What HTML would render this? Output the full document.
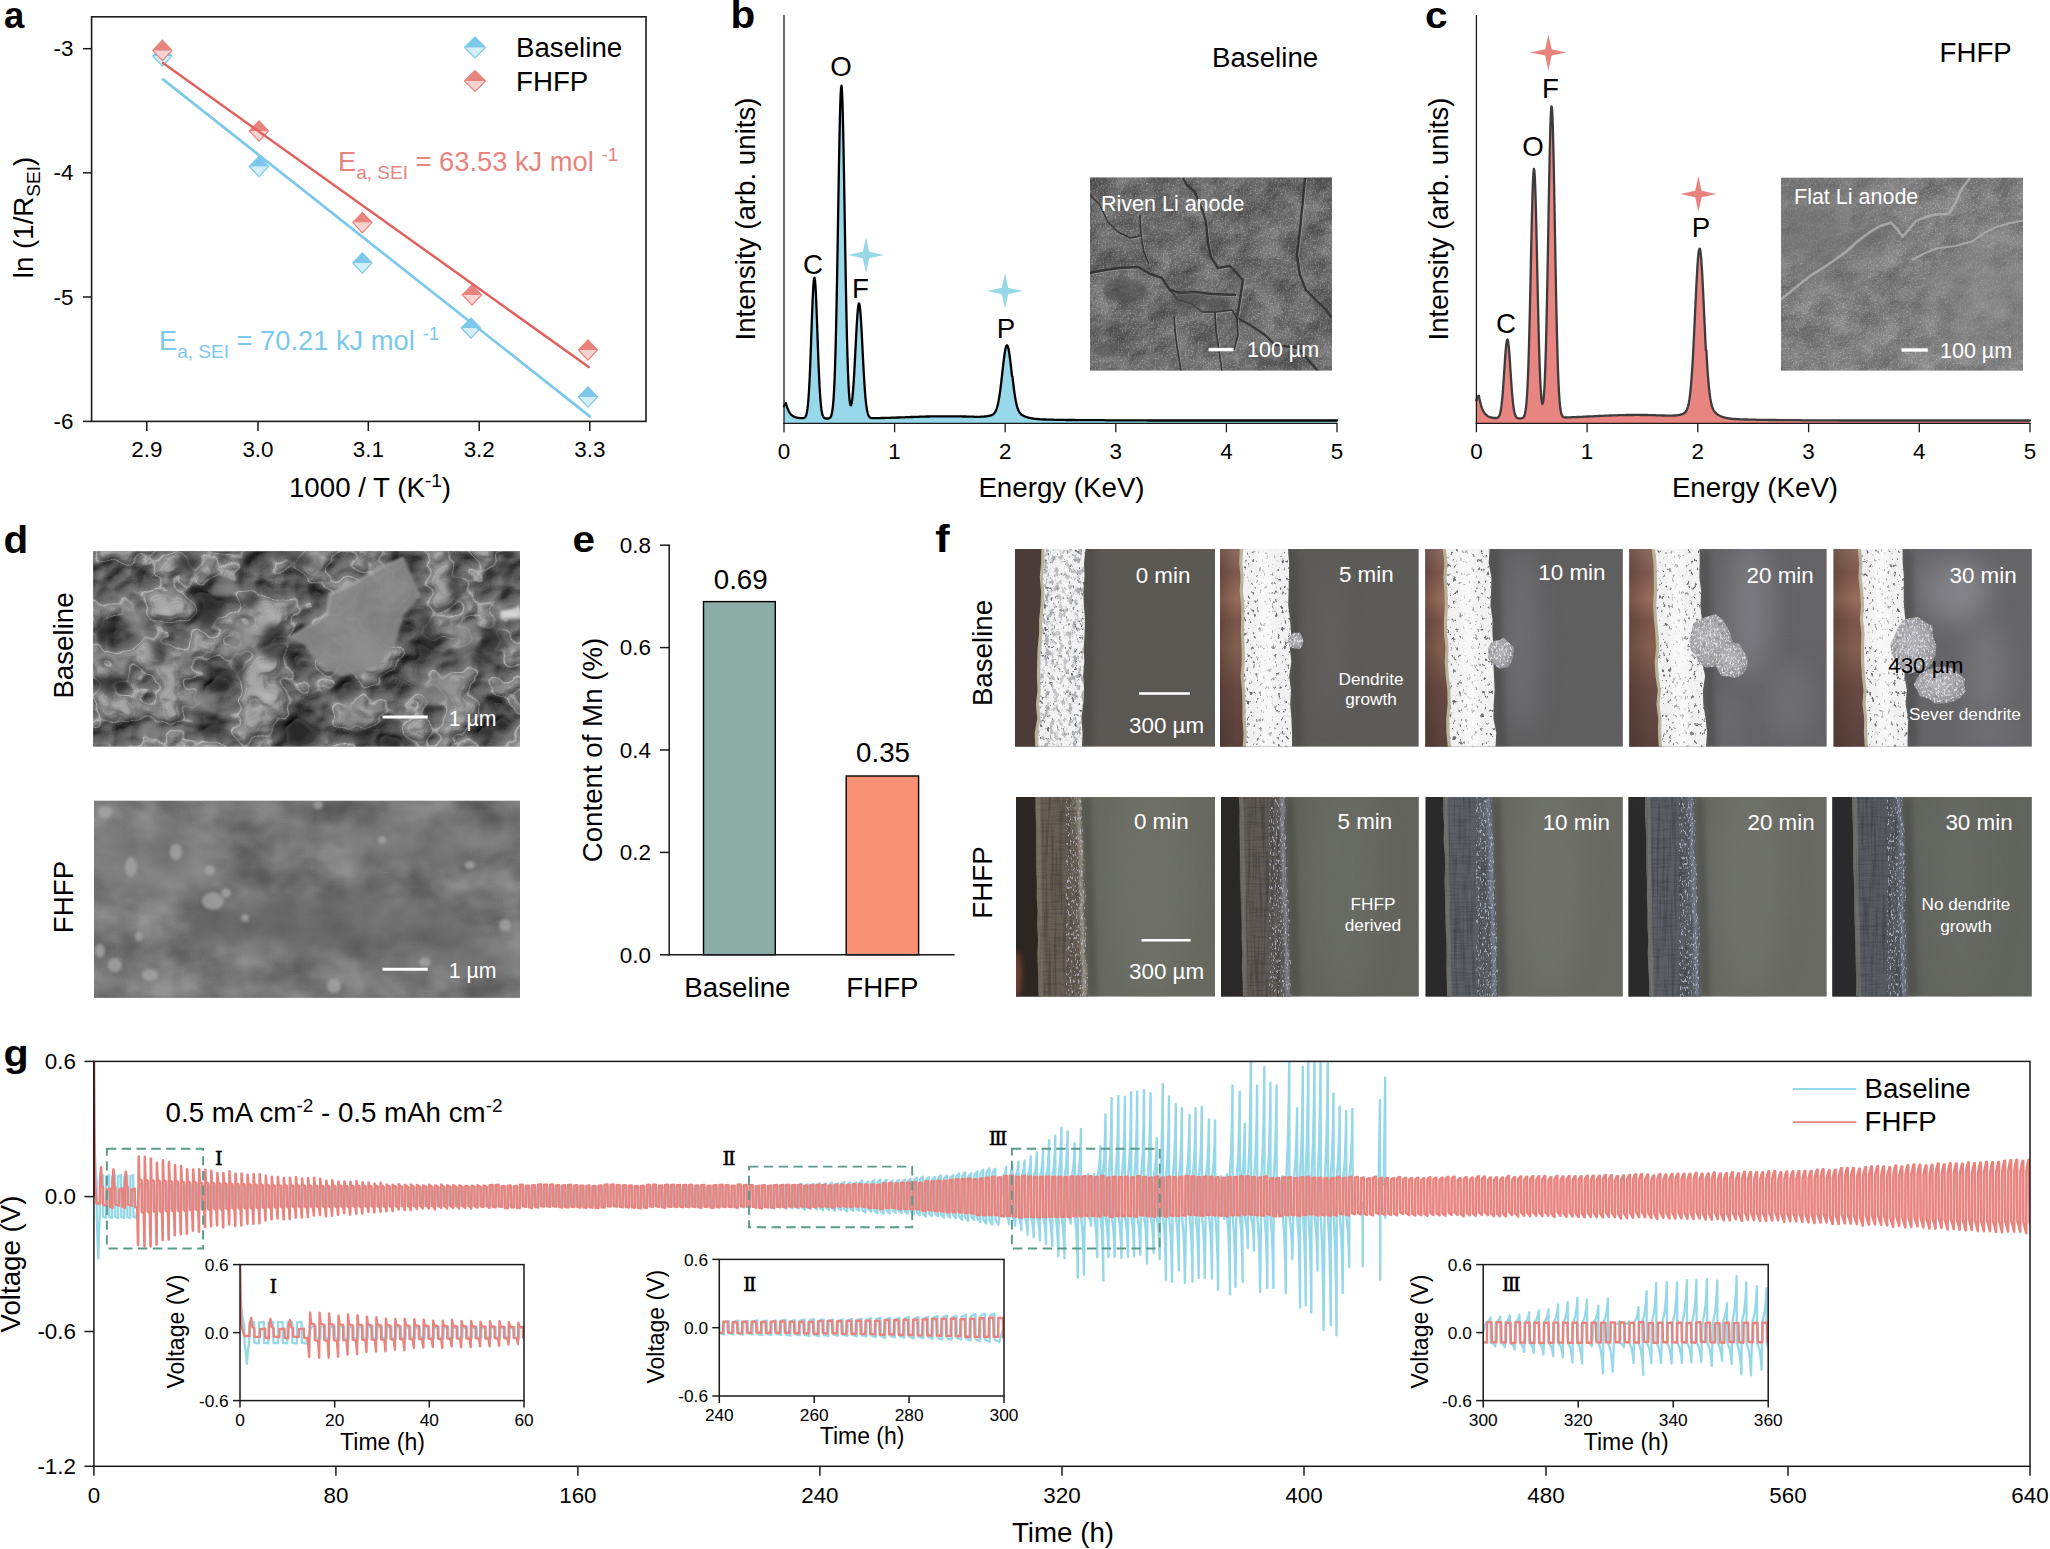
<!DOCTYPE html>
<html lang="en"><head><meta charset="utf-8"><title>Figure</title>
<style>
html,body{margin:0;padding:0;background:#fff;}
body{width:2050px;height:1549px;overflow:hidden;}
svg{display:block;font-family:'Liberation Sans', sans-serif;}
text{white-space:pre;}
</style></head><body>
<svg width="2050" height="1549" viewBox="0 0 2050 1549">
<defs>
<filter id="riv" x="0" y="0" width="100%" height="100%" color-interpolation-filters="sRGB">
<feTurbulence type="fractalNoise" baseFrequency="0.035 0.04" numOctaves="4" seed="31" result="t"/>
<feColorMatrix in="t" type="matrix" values="1 0 0 0 0  1 0 0 0 0  1 0 0 0 0  2 0 0 0 -0.5" result="h"/>
<feColorMatrix in="t" type="matrix" values="0.55 0 0 0 0.155  0.55 0 0 0 0.155  0.55 0 0 0 0.155  0 0 0 0 1" result="g"/>
<feDiffuseLighting in="h" surfaceScale="1.6" diffuseConstant="1.0" lighting-color="#ffffff" result="l"><feDistantLight azimuth="230" elevation="62"/></feDiffuseLighting>
<feComposite in="g" in2="l" operator="arithmetic" k1="0" k2="0.5" k3="0.4" k4="-0.16" result="c"/>
<feTurbulence type="fractalNoise" baseFrequency="0.6" numOctaves="2" seed="3" result="n"/>
<feColorMatrix in="n" type="matrix" values="0.5 0 0 0 -0.25  0.5 0 0 0 -0.25  0.5 0 0 0 -0.25  0 0 0 0 1" result="n2"/>
<feComposite in="c" in2="n2" operator="arithmetic" k1="0" k2="1" k3="1" k4="0"/>
</filter>
<filter id="flat" x="0" y="0" width="100%" height="100%" color-interpolation-filters="sRGB">
<feTurbulence type="fractalNoise" baseFrequency="0.035 0.04" numOctaves="4" seed="47" result="t"/>
<feColorMatrix in="t" type="matrix" values="1 0 0 0 0  1 0 0 0 0  1 0 0 0 0  2 0 0 0 -0.5" result="h"/>
<feColorMatrix in="t" type="matrix" values="0.45 0 0 0 0.26  0.45 0 0 0 0.26  0.45 0 0 0 0.26  0 0 0 0 1" result="g"/>
<feDiffuseLighting in="h" surfaceScale="1.2" diffuseConstant="1.0" lighting-color="#ffffff" result="l"><feDistantLight azimuth="230" elevation="64"/></feDiffuseLighting>
<feComposite in="g" in2="l" operator="arithmetic" k1="0" k2="0.5" k3="0.4" k4="-0.115" result="c"/>
<feTurbulence type="fractalNoise" baseFrequency="0.6" numOctaves="2" seed="8" result="n"/>
<feColorMatrix in="n" type="matrix" values="0.4 0 0 0 -0.2  0.4 0 0 0 -0.2  0.4 0 0 0 -0.2  0 0 0 0 1" result="n2"/>
<feComposite in="c" in2="n2" operator="arithmetic" k1="0" k2="1" k3="1" k4="0"/>
</filter>
<filter id="iblur1" x="-100%" y="-100%" width="300%" height="300%"><feGaussianBlur stdDeviation="0.7"/></filter>
<filter id="iblur2" x="-100%" y="-100%" width="300%" height="300%"><feGaussianBlur stdDeviation="1.8"/></filter>
<filter id="iblur20" x="-100%" y="-100%" width="300%" height="300%"><feGaussianBlur stdDeviation="20"/></filter>

<filter id="semA" x="0" y="0" width="100%" height="100%" color-interpolation-filters="sRGB">
<feTurbulence type="fractalNoise" baseFrequency="0.021 0.025" numOctaves="3" seed="14" result="t"/>
<feColorMatrix in="t" type="matrix" values="1 0 0 0 0  1 0 0 0 0  1 0 0 0 0  2.4 0 0 0 -0.7" result="h"/>
<feColorMatrix in="t" type="matrix" values="1.4 0 0 0 -0.25  1.4 0 0 0 -0.25  1.4 0 0 0 -0.25  0 0 0 0 1" result="g"/>
<feDiffuseLighting in="h" surfaceScale="8" diffuseConstant="1.0" lighting-color="#ffffff" result="l"><feDistantLight azimuth="235" elevation="55"/></feDiffuseLighting>
<feComposite in="g" in2="l" operator="arithmetic" k1="0" k2="0.62" k3="0.33" k4="-0.10" result="c0"/>
<feComponentTransfer in="t" result="ct"><feFuncR type="table" tableValues="0 0 0 0 0 0 0 0 0 0 0 0 0 0 0 0 0 0 0 0 0 0 0 0 0 0 0 0 0 0 0 0 0 0 0 0 0.35 1 0.35 0 0 0 0 0 0.105 0.3 0.105 0 0 0 0 0 0 0 0 0 0 0 0 0 0 0 0 0 0 0 0 0 0 0 0 0"/><feFuncG type="table" tableValues="0 0 0 0 0 0 0 0 0 0 0 0 0 0 0 0 0 0 0 0 0 0 0 0 0 0 0 0 0 0 0 0 0 0 0 0 0.35 1 0.35 0 0 0 0 0 0.105 0.3 0.105 0 0 0 0 0 0 0 0 0 0 0 0 0 0 0 0 0 0 0 0 0 0 0 0 0"/><feFuncB type="table" tableValues="0 0 0 0 0 0 0 0 0 0 0 0 0 0 0 0 0 0 0 0 0 0 0 0 0 0 0 0 0 0 0 0 0 0 0 0 0.35 1 0.35 0 0 0 0 0 0.105 0.3 0.105 0 0 0 0 0 0 0 0 0 0 0 0 0 0 0 0 0 0 0 0 0 0 0 0 0"/><feFuncA type="linear" slope="0" intercept="1"/></feComponentTransfer>
<feColorMatrix in="ct" type="matrix" values="1 0 0 0 0  1 0 0 0 0  1 0 0 0 0  0 0 0 0 1" result="ct2"/>
<feGaussianBlur in="ct2" stdDeviation="0.6" result="ct3"/>
<feComposite in="c0" in2="ct3" operator="arithmetic" k1="0" k2="1" k3="0.22" k4="-0.015" result="c"/>
<feTurbulence type="fractalNoise" baseFrequency="0.9" numOctaves="1" seed="2" result="n"/>
<feColorMatrix in="n" type="matrix" values="0.10 0 0 0 -0.05  0.10 0 0 0 -0.05  0.10 0 0 0 -0.05  0 0 0 0 1" result="n2"/>
<feComposite in="c" in2="n2" operator="arithmetic" k1="0" k2="1" k3="1" k4="0"/>
</filter>
<filter id="semB" x="0" y="0" width="100%" height="100%" color-interpolation-filters="sRGB">
<feTurbulence type="fractalNoise" baseFrequency="0.022 0.03" numOctaves="3" seed="23" result="t"/>
<feColorMatrix in="t" type="matrix" values="0.32 0 0 0 0.295  0.32 0 0 0 0.295  0.32 0 0 0 0.295  0 0 0 0 1" result="g"/>
<feTurbulence type="fractalNoise" baseFrequency="0.8" numOctaves="1" seed="6" result="n"/>
<feColorMatrix in="n" type="matrix" values="0.10 0 0 0 -0.05  0.10 0 0 0 -0.05  0.10 0 0 0 -0.05  0 0 0 0 1" result="n2"/>
<feComposite in="g" in2="n2" operator="arithmetic" k1="0" k2="1" k3="1" k4="0"/>
</filter>
<filter id="dblur" x="-100%" y="-100%" width="300%" height="300%"><feGaussianBlur stdDeviation="9"/></filter>
<filter id="dblur4" x="-100%" y="-100%" width="300%" height="300%"><feGaussianBlur stdDeviation="3.5"/></filter>
<filter id="dblur2" x="-100%" y="-100%" width="300%" height="300%"><feGaussianBlur stdDeviation="1.6"/></filter>

<filter id="speck" x="0" y="0" width="100%" height="100%" color-interpolation-filters="sRGB">
<feTurbulence type="fractalNoise" baseFrequency="0.32 0.22" numOctaves="3" seed="7" result="n"/>
<feColorMatrix in="n" type="matrix" values="0 0 0 0 0.42  0 0 0 0 0.42  0 0 0 0 0.45  -8 0 0 0 3.05"/>
</filter>
<filter id="speck2" x="0" y="0" width="100%" height="100%" color-interpolation-filters="sRGB">
<feTurbulence type="fractalNoise" baseFrequency="0.22 0.16" numOctaves="3" seed="19" result="n"/>
<feColorMatrix in="n" type="matrix" values="0 0 0 0 0.62  0 0 0 0 0.63  0 0 0 0 0.66  -7 0 0 0 3.4"/>
</filter>
<filter id="speckw" x="0" y="0" width="100%" height="100%" color-interpolation-filters="sRGB">
<feTurbulence type="fractalNoise" baseFrequency="0.5 0.35" numOctaves="2" seed="11" result="n"/>
<feColorMatrix in="n" type="matrix" values="0 0 0 0 0.92  0 0 0 0 0.93  0 0 0 0 0.96  0 7 0 0 -3.6"/>
</filter>
<filter id="grain" x="0" y="0" width="100%" height="100%" color-interpolation-filters="sRGB">
<feTurbulence type="fractalNoise" baseFrequency="0.7" numOctaves="2" seed="5" result="n"/>
<feColorMatrix in="n" type="matrix" values="0 0 0 0 0.5  0 0 0 0 0.5  0 0 0 0 0.5  1.2 0 0 0 -0.48"/>
</filter>
<filter id="streak" x="0" y="0" width="100%" height="100%" color-interpolation-filters="sRGB">
<feTurbulence type="fractalNoise" baseFrequency="0.35 0.02" numOctaves="2" seed="9" result="n"/>
<feColorMatrix in="n" type="matrix" values="0 0 0 0 0.08  0 0 0 0 0.08  0 0 0 0 0.08  -4 0 0 0 2.2"/>
</filter>
<filter id="streakh" x="0" y="0" width="100%" height="100%" color-interpolation-filters="sRGB">
<feTurbulence type="fractalNoise" baseFrequency="0.04 0.55" numOctaves="2" seed="17" result="n"/>
<feColorMatrix in="n" type="matrix" values="0 0 0 0 0.1  0 0 0 0 0.1  0 0 0 0 0.1  -5 0 0 0 2.5"/>
</filter>
<filter id="streakw" x="0" y="0" width="100%" height="100%" color-interpolation-filters="sRGB">
<feTurbulence type="fractalNoise" baseFrequency="0.6 0.3" numOctaves="2" seed="21" result="n"/>
<feColorMatrix in="n" type="matrix" values="0 0 0 0 0.82  0 0 0 0 0.86  0 0 0 0 0.95  0 6 0 0 -3.35"/>
</filter>
<filter id="blur3" x="-100%" y="-100%" width="300%" height="300%"><feGaussianBlur stdDeviation="3"/></filter>
<filter id="blur6" x="-100%" y="-100%" width="300%" height="300%"><feGaussianBlur stdDeviation="6"/></filter>
<filter id="blur12" x="-100%" y="-100%" width="300%" height="300%"><feGaussianBlur stdDeviation="12"/></filter>
<filter id="blur1" x="-100%" y="-100%" width="300%" height="300%"><feGaussianBlur stdDeviation="0.8"/></filter>
<linearGradient id="cu" x1="0" y1="0" x2="0" y2="1">
<stop offset="0" stop-color="#8e6c62"/><stop offset="0.12" stop-color="#80594e"/><stop offset="0.25" stop-color="#9a6e5c"/>
<stop offset="0.36" stop-color="#7c564a"/><stop offset="0.5" stop-color="#85604f"/><stop offset="0.7" stop-color="#684a42"/><stop offset="1" stop-color="#5a423c"/>
</linearGradient>
<linearGradient id="cuh" x1="0" y1="0" x2="1" y2="0">
<stop offset="0" stop-color="#3a2820" stop-opacity="0.35"/><stop offset="0.6" stop-color="#3a2820" stop-opacity="0"/>
</linearGradient>
<radialGradient id="blobg" cx="0.45" cy="0.45" r="0.6">
<stop offset="0" stop-color="#b9b8bc"/><stop offset="0.7" stop-color="#a3a2a6"/><stop offset="1" stop-color="#8a898c"/>
</radialGradient>

</defs>
<rect width="2050" height="1549" fill="#fff"/>
<g id="panel_a">
<text x="4.0" y="28.0" font-size="36.5" font-weight="bold">a</text>
<path d="M152.8 56.0L162.4 66.2L172.0 56.0Z" fill="#D3EEF4"/><path d="M152.8 56.0L162.4 45.8L172.0 56.0Z" fill="#7CC8EA"/><path d="M152.8 56.0L162.4 45.8L172.0 56.0L162.4 66.2Z" fill="none" stroke="#7CC8EA" stroke-width="1.2" stroke-linejoin="miter"/>
<path d="M249.4 166.4L259.0 176.6L268.6 166.4Z" fill="#D3EEF4"/><path d="M249.4 166.4L259.0 156.2L268.6 166.4Z" fill="#7CC8EA"/><path d="M249.4 166.4L259.0 156.2L268.6 166.4L259.0 176.6Z" fill="none" stroke="#7CC8EA" stroke-width="1.2" stroke-linejoin="miter"/>
<path d="M352.8 263.0L362.4 273.2L372.0 263.0Z" fill="#D3EEF4"/><path d="M352.8 263.0L362.4 252.8L372.0 263.0Z" fill="#7CC8EA"/><path d="M352.8 263.0L362.4 252.8L372.0 263.0L362.4 273.2Z" fill="none" stroke="#7CC8EA" stroke-width="1.2" stroke-linejoin="miter"/>
<path d="M461.4 328.0L471.0 338.2L480.6 328.0Z" fill="#D3EEF4"/><path d="M461.4 328.0L471.0 317.8L480.6 328.0Z" fill="#7CC8EA"/><path d="M461.4 328.0L471.0 317.8L480.6 328.0L471.0 338.2Z" fill="none" stroke="#7CC8EA" stroke-width="1.2" stroke-linejoin="miter"/>
<path d="M578.4 397.0L588.0 407.2L597.6 397.0Z" fill="#D3EEF4"/><path d="M578.4 397.0L588.0 386.8L597.6 397.0Z" fill="#7CC8EA"/><path d="M578.4 397.0L588.0 386.8L597.6 397.0L588.0 407.2Z" fill="none" stroke="#7CC8EA" stroke-width="1.2" stroke-linejoin="miter"/>
<path d="M163 79.4L589.8 416.4" stroke="#7CC8EA" stroke-width="2.7" fill="none" stroke-linecap="round"/>
<path d="M152.8 50.4L162.4 60.6L172.0 50.4Z" fill="#F8D2D0"/><path d="M152.8 50.4L162.4 40.2L172.0 50.4Z" fill="#E8837E"/><path d="M152.8 50.4L162.4 40.2L172.0 50.4L162.4 60.6Z" fill="none" stroke="#E8837E" stroke-width="1.2" stroke-linejoin="miter"/>
<path d="M249.4 131.0L259.0 141.2L268.6 131.0Z" fill="#F8D2D0"/><path d="M249.4 131.0L259.0 120.8L268.6 131.0Z" fill="#E8837E"/><path d="M249.4 131.0L259.0 120.8L268.6 131.0L259.0 141.2Z" fill="none" stroke="#E8837E" stroke-width="1.2" stroke-linejoin="miter"/>
<path d="M352.8 222.6L362.4 232.8L372.0 222.6Z" fill="#F8D2D0"/><path d="M352.8 222.6L362.4 212.4L372.0 222.6Z" fill="#E8837E"/><path d="M352.8 222.6L362.4 212.4L372.0 222.6L362.4 232.8Z" fill="none" stroke="#E8837E" stroke-width="1.2" stroke-linejoin="miter"/>
<path d="M462.4 295.0L472.0 305.2L481.6 295.0Z" fill="#F8D2D0"/><path d="M462.4 295.0L472.0 284.8L481.6 295.0Z" fill="#E8837E"/><path d="M462.4 295.0L472.0 284.8L481.6 295.0L472.0 305.2Z" fill="none" stroke="#E8837E" stroke-width="1.2" stroke-linejoin="miter"/>
<path d="M578.4 350.0L588.0 360.2L597.6 350.0Z" fill="#F8D2D0"/><path d="M578.4 350.0L588.0 339.8L597.6 350.0Z" fill="#E8837E"/><path d="M578.4 350.0L588.0 339.8L597.6 350.0L588.0 360.2Z" fill="none" stroke="#E8837E" stroke-width="1.2" stroke-linejoin="miter"/>
<path d="M163 63L588.7 367" stroke="#E0625E" stroke-width="2.5" fill="none" stroke-linecap="round"/>
<rect x="91.6" y="16.8" width="554.4" height="404.6" fill="none" stroke="#1a1a1a" stroke-width="1.6"/>
<line x1="83.0" y1="48.7" x2="91.6" y2="48.7" stroke="#1a1a1a" stroke-width="1.5"/>
<text x="73.5" y="56.3" font-size="22.4" text-anchor="end">-3</text>
<line x1="83.0" y1="172.8" x2="91.6" y2="172.8" stroke="#1a1a1a" stroke-width="1.5"/>
<text x="73.5" y="180.4" font-size="22.4" text-anchor="end">-4</text>
<line x1="83.0" y1="297.0" x2="91.6" y2="297.0" stroke="#1a1a1a" stroke-width="1.5"/>
<text x="73.5" y="304.6" font-size="22.4" text-anchor="end">-5</text>
<line x1="83.0" y1="421.4" x2="91.6" y2="421.4" stroke="#1a1a1a" stroke-width="1.5"/>
<text x="73.5" y="429.0" font-size="22.4" text-anchor="end">-6</text>
<line x1="146.8" y1="421.4" x2="146.8" y2="431.0" stroke="#1a1a1a" stroke-width="1.5"/>
<text x="146.8" y="457.0" font-size="22.4" text-anchor="middle">2.9</text>
<line x1="258.0" y1="421.4" x2="258.0" y2="431.0" stroke="#1a1a1a" stroke-width="1.5"/>
<text x="258.0" y="457.0" font-size="22.4" text-anchor="middle">3.0</text>
<line x1="368.3" y1="421.4" x2="368.3" y2="431.0" stroke="#1a1a1a" stroke-width="1.5"/>
<text x="368.3" y="457.0" font-size="22.4" text-anchor="middle">3.1</text>
<line x1="479.2" y1="421.4" x2="479.2" y2="431.0" stroke="#1a1a1a" stroke-width="1.5"/>
<text x="479.2" y="457.0" font-size="22.4" text-anchor="middle">3.2</text>
<line x1="589.8" y1="421.4" x2="589.8" y2="431.0" stroke="#1a1a1a" stroke-width="1.5"/>
<text x="589.8" y="457.0" font-size="22.4" text-anchor="middle">3.3</text>
<text x="370.0" y="497.0" font-size="27.7" text-anchor="middle">1000 / T (K<tspan font-size="19" dy="-10">-1</tspan><tspan dy="10" font-size="1">&#8203;</tspan>)</text>
<text transform="translate(33.0 217.5) rotate(-90)" font-size="27.7" text-anchor="middle">ln (1/R<tspan font-size="19" dy="7">SEI</tspan><tspan dy="-7" font-size="1">&#8203;</tspan>)</text>
<path d="M464.5 47.4L475.0 57.9L485.5 47.4Z" fill="#D3EEF4"/><path d="M464.5 47.4L475.0 36.9L485.5 47.4Z" fill="#7CC8EA"/><path d="M464.5 47.4L475.0 36.9L485.5 47.4L475.0 57.9Z" fill="none" stroke="#7CC8EA" stroke-width="1.2" stroke-linejoin="miter"/>
<path d="M464.5 81.0L475.0 91.5L485.5 81.0Z" fill="#F8D2D0"/><path d="M464.5 81.0L475.0 70.5L485.5 81.0Z" fill="#E8837E"/><path d="M464.5 81.0L475.0 70.5L485.5 81.0L475.0 91.5Z" fill="none" stroke="#E8837E" stroke-width="1.2" stroke-linejoin="miter"/>
<text x="516.0" y="57.0" font-size="27.7">Baseline</text>
<text x="516.0" y="91.0" font-size="27.7">FHFP</text>
<text x="338.0" y="171.0" font-size="27.3" fill="#E8837E">E<tspan font-size="19" dy="8">a, SEI</tspan><tspan dy="-8" font-size="1">&#8203;</tspan> = 63.53 kJ mol <tspan font-size="19" dy="-10">-1</tspan><tspan dy="10" font-size="1">&#8203;</tspan></text>
<text x="159.0" y="350.0" font-size="27.3" fill="#7CC8EA">E<tspan font-size="19" dy="8">a, SEI</tspan><tspan dy="-8" font-size="1">&#8203;</tspan> = 70.21 kJ mol <tspan font-size="19" dy="-10">-1</tspan><tspan dy="10" font-size="1">&#8203;</tspan></text>
</g>
<g id="panel_b">
<text transform="translate(730.5 28.0) scale(1.05 1)" font-size="38.5" font-weight="bold">b</text>
<path d="M784.0 406.3L784.5 404.9L785.0 404.1L785.5 403.6L786.0 403.3L786.5 405.1L787.0 406.7L787.5 408.2L788.0 409.5L788.5 410.6L789.0 411.6L789.5 412.5L790.0 413.2L790.5 413.9L791.0 414.5L791.5 415.0L792.0 415.4L792.5 415.8L793.0 416.2L793.5 416.4L794.0 416.7L794.5 416.9L795.0 417.1L795.5 417.3L796.0 417.4L796.5 417.6L797.0 417.7L797.5 417.8L798.0 417.9L798.5 417.9L799.0 418.0L799.5 418.1L800.0 418.1L800.5 418.1L801.0 418.2L801.5 418.2L802.0 418.2L802.5 418.2L803.0 418.2L803.5 418.1L804.0 418.0L804.5 417.8L805.0 417.3L805.5 416.7L806.0 415.6L806.5 414.0L807.0 411.7L807.5 408.4L808.0 404.0L808.5 398.1L809.0 390.6L809.5 381.3L810.0 370.4L810.5 357.9L811.0 344.3L811.5 330.1L812.0 316.1L812.5 303.1L813.0 292.0L813.5 283.7L814.0 278.8L814.5 277.6L815.0 280.3L815.5 286.7L816.0 296.2L816.5 308.2L817.0 321.7L817.5 335.9L818.0 349.9L818.5 363.1L819.0 375.0L819.5 385.3L820.0 393.9L820.5 400.7L821.0 406.0L821.5 410.0L822.0 412.9L822.5 414.9L823.0 416.2L823.5 417.1L824.0 417.7L824.5 418.1L825.0 418.3L825.5 418.4L826.0 418.5L826.5 418.5L827.0 418.5L827.5 418.5L828.0 418.5L828.5 418.4L829.0 418.3L829.5 418.1L830.0 417.7L830.5 417.2L831.0 416.3L831.5 414.9L832.0 412.8L832.5 409.8L833.0 405.5L833.5 399.6L834.0 391.6L834.5 381.2L835.0 367.8L835.5 351.2L836.0 331.3L836.5 308.0L837.0 281.7L837.5 253.0L838.0 222.7L838.5 192.3L839.0 163.0L839.5 136.4L840.0 114.2L840.5 97.7L841.0 88.0L841.5 85.7L842.0 91.0L842.5 103.6L843.0 122.5L843.5 146.6L844.0 174.4L844.5 204.4L845.0 234.9L845.5 264.6L846.0 292.4L846.5 317.5L847.0 339.3L847.5 357.7L848.0 372.7L848.5 384.4L849.0 393.1L849.5 399.3L850.0 403.2L850.5 405.1L851.0 405.3L851.5 403.9L852.0 401.1L852.5 396.9L853.0 391.4L853.5 384.7L854.0 376.8L854.5 368.1L855.0 358.6L855.5 348.7L856.0 338.8L856.5 329.4L857.0 320.8L857.5 313.6L858.0 308.1L858.5 304.6L859.0 303.5L859.5 304.6L860.0 308.1L860.5 313.5L861.0 320.8L861.5 329.3L862.0 338.8L862.5 348.7L863.0 358.6L863.5 368.1L864.0 377.0L864.5 384.9L865.0 391.9L865.5 397.9L866.0 402.8L866.5 406.8L867.0 409.9L867.5 412.3L868.0 414.1L868.5 415.4L869.0 416.4L869.5 417.0L870.0 417.5L870.5 417.8L871.0 418.0L871.5 418.1L872.0 418.1L872.5 418.2L873.0 418.2L873.5 418.2L874.0 418.2L874.5 418.2L875.0 418.2L875.5 418.2L876.0 418.2L876.5 418.2L877.0 418.1L877.5 418.1L878.0 418.1L878.5 418.1L879.0 418.1L879.5 418.1L880.0 418.1L880.5 418.1L881.0 418.0L881.5 418.0L882.0 418.0L882.5 418.0L883.0 418.0L883.5 418.0L884.0 418.0L884.5 417.9L885.0 417.9L885.5 417.9L886.0 417.9L886.5 417.9L887.0 417.9L887.5 417.9L888.0 417.8L888.5 417.8L889.0 417.8L889.5 417.8L890.0 417.8L890.5 417.8L891.0 417.7L891.5 417.7L892.0 417.7L892.5 417.7L893.0 417.7L893.5 417.7L894.0 417.6L894.5 417.6L895.0 417.6L895.5 417.6L896.0 417.6L896.5 417.6L897.0 417.5L897.5 417.5L898.0 417.5L898.5 417.5L899.0 417.5L899.5 417.5L900.0 417.4L900.5 417.4L901.0 417.4L901.5 417.4L902.0 417.4L902.5 417.3L903.0 417.3L903.5 417.3L904.0 417.3L904.5 417.3L905.0 417.3L905.5 417.2L906.0 417.2L906.5 417.2L907.0 417.2L907.5 417.2L908.0 417.1L908.5 417.1L909.0 417.1L909.5 417.1L910.0 417.1L910.5 417.0L911.0 417.0L911.5 417.0L912.0 417.0L912.5 417.0L913.0 417.0L913.5 416.9L914.0 416.9L914.5 416.9L915.0 416.9L915.5 416.9L916.0 416.9L916.5 416.8L917.0 416.8L917.5 416.8L918.0 416.8L918.5 416.8L919.0 416.8L919.5 416.7L920.0 416.7L920.5 416.7L921.0 416.7L921.5 416.7L922.0 416.7L922.5 416.6L923.0 416.6L923.5 416.6L924.0 416.6L924.5 416.6L925.0 416.6L925.5 416.6L926.0 416.5L926.5 416.5L927.0 416.5L927.5 416.5L928.0 416.5L928.5 416.5L929.0 416.5L929.5 416.5L930.0 416.4L930.5 416.4L931.0 416.4L931.5 416.4L932.0 416.4L932.5 416.4L933.0 416.4L933.5 416.4L934.0 416.4L934.5 416.4L935.0 416.3L935.5 416.3L936.0 416.3L936.5 416.3L937.0 416.3L937.5 416.3L938.0 416.3L938.5 416.3L939.0 416.3L939.5 416.3L940.0 416.3L940.5 416.3L941.0 416.3L941.5 416.3L942.0 416.3L942.5 416.3L943.0 416.3L943.5 416.3L944.0 416.3L944.5 416.3L945.0 416.3L945.5 416.3L946.0 416.3L946.5 416.3L947.0 416.3L947.5 416.3L948.0 416.3L948.5 416.3L949.0 416.3L949.5 416.3L950.0 416.3L950.5 416.3L951.0 416.3L951.5 416.3L952.0 416.3L952.5 416.3L953.0 416.3L953.5 416.3L954.0 416.3L954.5 416.3L955.0 416.3L955.5 416.3L956.0 416.3L956.5 416.3L957.0 416.3L957.5 416.4L958.0 416.4L958.5 416.4L959.0 416.4L959.5 416.4L960.0 416.4L960.5 416.4L961.0 416.4L961.5 416.4L962.0 416.4L962.5 416.5L963.0 416.5L963.5 416.5L964.0 416.5L964.5 416.5L965.0 416.5L965.5 416.5L966.0 416.5L966.5 416.6L967.0 416.6L967.5 416.6L968.0 416.6L968.5 416.6L969.0 416.6L969.5 416.6L970.0 416.7L970.5 416.7L971.0 416.7L971.5 416.7L972.0 416.7L972.5 416.7L973.0 416.7L973.5 416.7L974.0 416.8L974.5 416.8L975.0 416.8L975.5 416.8L976.0 416.8L976.5 416.8L977.0 416.8L977.5 416.8L978.0 416.8L978.5 416.8L979.0 416.8L979.5 416.8L980.0 416.8L980.5 416.8L981.0 416.7L981.5 416.7L982.0 416.7L982.5 416.7L983.0 416.6L983.5 416.6L984.0 416.6L984.5 416.5L985.0 416.5L985.5 416.4L986.0 416.4L986.5 416.3L987.0 416.2L987.5 416.2L988.0 416.1L988.5 416.0L989.0 415.9L989.5 415.8L990.0 415.6L990.5 415.5L991.0 415.3L991.5 415.2L992.0 414.9L992.5 414.7L993.0 414.4L993.5 414.0L994.0 413.5L994.5 412.9L995.0 412.2L995.5 411.4L996.0 410.3L996.5 409.1L997.0 407.6L997.5 405.8L998.0 403.7L998.5 401.3L999.0 398.6L999.5 395.5L1000.0 392.1L1000.5 388.3L1001.0 384.3L1001.5 380.0L1002.0 375.6L1002.5 371.1L1003.0 366.6L1003.5 362.3L1004.0 358.3L1004.5 354.6L1005.0 351.4L1005.5 348.8L1006.0 346.9L1006.5 345.7L1007.0 345.3L1007.5 345.8L1008.0 347.0L1008.5 348.9L1009.0 351.6L1009.5 354.8L1010.0 358.5L1010.5 362.6L1011.0 367.0L1011.5 371.5L1012.0 376.0L1012.5 376.7L1013.0 381.2L1013.5 385.5L1014.0 389.5L1014.5 393.2L1015.0 396.5L1015.5 399.4L1016.0 402.0L1016.5 404.3L1017.0 406.2L1017.5 407.9L1018.0 409.3L1018.5 410.5L1019.0 411.5L1019.5 412.3L1020.0 413.0L1020.5 413.6L1021.0 414.1L1021.5 414.6L1022.0 415.0L1022.5 415.3L1023.0 415.6L1023.5 415.9L1024.0 416.1L1024.5 416.3L1025.0 416.5L1025.5 416.7L1026.0 416.9L1026.5 417.1L1027.0 417.2L1027.5 417.4L1028.0 417.5L1028.5 417.7L1029.0 417.8L1029.5 417.9L1030.0 418.0L1030.5 418.1L1031.0 418.2L1031.5 418.3L1032.0 418.4L1032.5 418.5L1033.0 418.6L1033.5 418.6L1034.0 418.7L1034.5 418.8L1035.0 418.8L1035.5 418.9L1036.0 418.9L1036.5 419.0L1037.0 419.0L1037.5 419.1L1038.0 419.1L1038.5 419.2L1039.0 419.2L1039.5 419.2L1040.0 419.3L1040.5 419.3L1041.0 419.3L1041.5 419.4L1042.0 419.4L1042.5 419.4L1043.0 419.4L1043.5 419.5L1044.0 419.5L1044.5 419.5L1045.0 419.5L1045.5 419.5L1046.0 419.5L1046.5 419.6L1047.0 419.6L1047.5 419.6L1048.0 419.6L1048.5 419.6L1049.0 419.6L1049.5 419.7L1050.0 419.7L1050.5 419.7L1051.0 419.7L1051.5 419.7L1052.0 419.7L1052.5 419.7L1053.0 419.7L1053.5 419.7L1054.0 419.8L1054.5 419.8L1055.0 419.8L1055.5 419.8L1056.0 419.8L1056.5 419.8L1057.0 419.8L1057.5 419.8L1058.0 419.8L1058.5 419.8L1059.0 419.8L1059.5 419.9L1060.0 419.9L1060.5 419.9L1061.0 419.9L1061.5 419.9L1062.0 419.9L1062.5 419.9L1063.0 419.9L1063.5 419.9L1064.0 419.9L1064.5 419.9L1065.0 419.9L1065.5 419.9L1066.0 420.0L1066.5 420.0L1067.0 420.0L1067.5 420.0L1068.0 420.0L1068.5 420.0L1069.0 420.0L1069.5 420.0L1070.0 420.0L1070.5 420.0L1071.0 420.0L1071.5 420.0L1072.0 420.0L1072.5 420.0L1073.0 420.0L1073.5 420.0L1074.0 420.0L1074.5 420.0L1075.0 420.0L1075.5 420.1L1076.0 420.1L1076.5 420.1L1077.0 420.1L1077.5 420.1L1078.0 420.1L1078.5 420.1L1079.0 420.1L1079.5 420.1L1080.0 420.1L1080.5 420.1L1081.0 420.1L1081.5 420.1L1082.0 420.1L1082.5 420.1L1083.0 420.1L1083.5 420.1L1084.0 420.1L1086.0 420.1L1088.0 420.2L1090.0 420.2L1092.0 420.2L1094.0 420.2L1096.0 420.2L1098.0 420.2L1100.0 420.2L1102.0 420.2L1104.0 420.2L1106.0 420.3L1108.0 420.3L1110.0 420.3L1112.0 420.3L1114.0 420.3L1116.0 420.3L1118.0 420.3L1120.0 420.3L1122.0 420.3L1124.0 420.3L1126.0 420.4L1128.0 420.4L1130.0 420.4L1132.0 420.4L1134.0 420.4L1136.0 420.4L1138.0 420.4L1140.0 420.4L1142.0 420.4L1144.0 420.4L1146.0 420.4L1148.0 420.5L1150.0 420.5L1152.0 420.5L1154.0 420.5L1156.0 420.5L1158.0 420.5L1160.0 420.5L1162.0 420.5L1164.0 420.5L1166.0 420.5L1168.0 420.5L1170.0 420.5L1172.0 420.5L1174.0 420.5L1176.0 420.5L1178.0 420.5L1180.0 420.5L1182.0 420.5L1184.0 420.5L1186.0 420.5L1188.0 420.5L1190.0 420.5L1192.0 420.5L1194.0 420.5L1196.0 420.5L1198.0 420.5L1200.0 420.5L1202.0 420.5L1204.0 420.5L1206.0 420.5L1208.0 420.5L1210.0 420.5L1212.0 420.5L1214.0 420.5L1216.0 420.5L1218.0 420.5L1220.0 420.5L1222.0 420.5L1224.0 420.5L1226.0 420.5L1228.0 420.5L1230.0 420.5L1232.0 420.5L1234.0 420.5L1236.0 420.5L1238.0 420.5L1240.0 420.5L1242.0 420.5L1244.0 420.5L1246.0 420.5L1248.0 420.5L1250.0 420.5L1252.0 420.5L1254.0 420.5L1256.0 420.5L1258.0 420.5L1260.0 420.5L1262.0 420.5L1264.0 420.5L1266.0 420.5L1268.0 420.5L1270.0 420.5L1272.0 420.5L1274.0 420.5L1276.0 420.5L1278.0 420.5L1280.0 420.5L1282.0 420.5L1284.0 420.5L1286.0 420.5L1288.0 420.5L1290.0 420.5L1292.0 420.5L1294.0 420.5L1296.0 420.5L1298.0 420.5L1300.0 420.5L1302.0 420.5L1304.0 420.5L1306.0 420.5L1308.0 420.5L1310.0 420.5L1312.0 420.5L1314.0 420.5L1316.0 420.5L1318.0 420.5L1320.0 420.5L1322.0 420.5L1324.0 420.5L1326.0 420.5L1328.0 420.5L1330.0 420.5L1332.0 420.5L1334.0 420.5L1336.0 420.5L1337.0 420.5L1337.0 423.4L784.0 423.4Z" fill="#97D9EA"/><path d="M784.0 406.3L784.5 404.9L785.0 404.1L785.5 403.6L786.0 403.3L786.5 405.1L787.0 406.7L787.5 408.2L788.0 409.5L788.5 410.6L789.0 411.6L789.5 412.5L790.0 413.2L790.5 413.9L791.0 414.5L791.5 415.0L792.0 415.4L792.5 415.8L793.0 416.2L793.5 416.4L794.0 416.7L794.5 416.9L795.0 417.1L795.5 417.3L796.0 417.4L796.5 417.6L797.0 417.7L797.5 417.8L798.0 417.9L798.5 417.9L799.0 418.0L799.5 418.1L800.0 418.1L800.5 418.1L801.0 418.2L801.5 418.2L802.0 418.2L802.5 418.2L803.0 418.2L803.5 418.1L804.0 418.0L804.5 417.8L805.0 417.3L805.5 416.7L806.0 415.6L806.5 414.0L807.0 411.7L807.5 408.4L808.0 404.0L808.5 398.1L809.0 390.6L809.5 381.3L810.0 370.4L810.5 357.9L811.0 344.3L811.5 330.1L812.0 316.1L812.5 303.1L813.0 292.0L813.5 283.7L814.0 278.8L814.5 277.6L815.0 280.3L815.5 286.7L816.0 296.2L816.5 308.2L817.0 321.7L817.5 335.9L818.0 349.9L818.5 363.1L819.0 375.0L819.5 385.3L820.0 393.9L820.5 400.7L821.0 406.0L821.5 410.0L822.0 412.9L822.5 414.9L823.0 416.2L823.5 417.1L824.0 417.7L824.5 418.1L825.0 418.3L825.5 418.4L826.0 418.5L826.5 418.5L827.0 418.5L827.5 418.5L828.0 418.5L828.5 418.4L829.0 418.3L829.5 418.1L830.0 417.7L830.5 417.2L831.0 416.3L831.5 414.9L832.0 412.8L832.5 409.8L833.0 405.5L833.5 399.6L834.0 391.6L834.5 381.2L835.0 367.8L835.5 351.2L836.0 331.3L836.5 308.0L837.0 281.7L837.5 253.0L838.0 222.7L838.5 192.3L839.0 163.0L839.5 136.4L840.0 114.2L840.5 97.7L841.0 88.0L841.5 85.7L842.0 91.0L842.5 103.6L843.0 122.5L843.5 146.6L844.0 174.4L844.5 204.4L845.0 234.9L845.5 264.6L846.0 292.4L846.5 317.5L847.0 339.3L847.5 357.7L848.0 372.7L848.5 384.4L849.0 393.1L849.5 399.3L850.0 403.2L850.5 405.1L851.0 405.3L851.5 403.9L852.0 401.1L852.5 396.9L853.0 391.4L853.5 384.7L854.0 376.8L854.5 368.1L855.0 358.6L855.5 348.7L856.0 338.8L856.5 329.4L857.0 320.8L857.5 313.6L858.0 308.1L858.5 304.6L859.0 303.5L859.5 304.6L860.0 308.1L860.5 313.5L861.0 320.8L861.5 329.3L862.0 338.8L862.5 348.7L863.0 358.6L863.5 368.1L864.0 377.0L864.5 384.9L865.0 391.9L865.5 397.9L866.0 402.8L866.5 406.8L867.0 409.9L867.5 412.3L868.0 414.1L868.5 415.4L869.0 416.4L869.5 417.0L870.0 417.5L870.5 417.8L871.0 418.0L871.5 418.1L872.0 418.1L872.5 418.2L873.0 418.2L873.5 418.2L874.0 418.2L874.5 418.2L875.0 418.2L875.5 418.2L876.0 418.2L876.5 418.2L877.0 418.1L877.5 418.1L878.0 418.1L878.5 418.1L879.0 418.1L879.5 418.1L880.0 418.1L880.5 418.1L881.0 418.0L881.5 418.0L882.0 418.0L882.5 418.0L883.0 418.0L883.5 418.0L884.0 418.0L884.5 417.9L885.0 417.9L885.5 417.9L886.0 417.9L886.5 417.9L887.0 417.9L887.5 417.9L888.0 417.8L888.5 417.8L889.0 417.8L889.5 417.8L890.0 417.8L890.5 417.8L891.0 417.7L891.5 417.7L892.0 417.7L892.5 417.7L893.0 417.7L893.5 417.7L894.0 417.6L894.5 417.6L895.0 417.6L895.5 417.6L896.0 417.6L896.5 417.6L897.0 417.5L897.5 417.5L898.0 417.5L898.5 417.5L899.0 417.5L899.5 417.5L900.0 417.4L900.5 417.4L901.0 417.4L901.5 417.4L902.0 417.4L902.5 417.3L903.0 417.3L903.5 417.3L904.0 417.3L904.5 417.3L905.0 417.3L905.5 417.2L906.0 417.2L906.5 417.2L907.0 417.2L907.5 417.2L908.0 417.1L908.5 417.1L909.0 417.1L909.5 417.1L910.0 417.1L910.5 417.0L911.0 417.0L911.5 417.0L912.0 417.0L912.5 417.0L913.0 417.0L913.5 416.9L914.0 416.9L914.5 416.9L915.0 416.9L915.5 416.9L916.0 416.9L916.5 416.8L917.0 416.8L917.5 416.8L918.0 416.8L918.5 416.8L919.0 416.8L919.5 416.7L920.0 416.7L920.5 416.7L921.0 416.7L921.5 416.7L922.0 416.7L922.5 416.6L923.0 416.6L923.5 416.6L924.0 416.6L924.5 416.6L925.0 416.6L925.5 416.6L926.0 416.5L926.5 416.5L927.0 416.5L927.5 416.5L928.0 416.5L928.5 416.5L929.0 416.5L929.5 416.5L930.0 416.4L930.5 416.4L931.0 416.4L931.5 416.4L932.0 416.4L932.5 416.4L933.0 416.4L933.5 416.4L934.0 416.4L934.5 416.4L935.0 416.3L935.5 416.3L936.0 416.3L936.5 416.3L937.0 416.3L937.5 416.3L938.0 416.3L938.5 416.3L939.0 416.3L939.5 416.3L940.0 416.3L940.5 416.3L941.0 416.3L941.5 416.3L942.0 416.3L942.5 416.3L943.0 416.3L943.5 416.3L944.0 416.3L944.5 416.3L945.0 416.3L945.5 416.3L946.0 416.3L946.5 416.3L947.0 416.3L947.5 416.3L948.0 416.3L948.5 416.3L949.0 416.3L949.5 416.3L950.0 416.3L950.5 416.3L951.0 416.3L951.5 416.3L952.0 416.3L952.5 416.3L953.0 416.3L953.5 416.3L954.0 416.3L954.5 416.3L955.0 416.3L955.5 416.3L956.0 416.3L956.5 416.3L957.0 416.3L957.5 416.4L958.0 416.4L958.5 416.4L959.0 416.4L959.5 416.4L960.0 416.4L960.5 416.4L961.0 416.4L961.5 416.4L962.0 416.4L962.5 416.5L963.0 416.5L963.5 416.5L964.0 416.5L964.5 416.5L965.0 416.5L965.5 416.5L966.0 416.5L966.5 416.6L967.0 416.6L967.5 416.6L968.0 416.6L968.5 416.6L969.0 416.6L969.5 416.6L970.0 416.7L970.5 416.7L971.0 416.7L971.5 416.7L972.0 416.7L972.5 416.7L973.0 416.7L973.5 416.7L974.0 416.8L974.5 416.8L975.0 416.8L975.5 416.8L976.0 416.8L976.5 416.8L977.0 416.8L977.5 416.8L978.0 416.8L978.5 416.8L979.0 416.8L979.5 416.8L980.0 416.8L980.5 416.8L981.0 416.7L981.5 416.7L982.0 416.7L982.5 416.7L983.0 416.6L983.5 416.6L984.0 416.6L984.5 416.5L985.0 416.5L985.5 416.4L986.0 416.4L986.5 416.3L987.0 416.2L987.5 416.2L988.0 416.1L988.5 416.0L989.0 415.9L989.5 415.8L990.0 415.6L990.5 415.5L991.0 415.3L991.5 415.2L992.0 414.9L992.5 414.7L993.0 414.4L993.5 414.0L994.0 413.5L994.5 412.9L995.0 412.2L995.5 411.4L996.0 410.3L996.5 409.1L997.0 407.6L997.5 405.8L998.0 403.7L998.5 401.3L999.0 398.6L999.5 395.5L1000.0 392.1L1000.5 388.3L1001.0 384.3L1001.5 380.0L1002.0 375.6L1002.5 371.1L1003.0 366.6L1003.5 362.3L1004.0 358.3L1004.5 354.6L1005.0 351.4L1005.5 348.8L1006.0 346.9L1006.5 345.7L1007.0 345.3L1007.5 345.8L1008.0 347.0L1008.5 348.9L1009.0 351.6L1009.5 354.8L1010.0 358.5L1010.5 362.6L1011.0 367.0L1011.5 371.5L1012.0 376.0L1012.5 376.7L1013.0 381.2L1013.5 385.5L1014.0 389.5L1014.5 393.2L1015.0 396.5L1015.5 399.4L1016.0 402.0L1016.5 404.3L1017.0 406.2L1017.5 407.9L1018.0 409.3L1018.5 410.5L1019.0 411.5L1019.5 412.3L1020.0 413.0L1020.5 413.6L1021.0 414.1L1021.5 414.6L1022.0 415.0L1022.5 415.3L1023.0 415.6L1023.5 415.9L1024.0 416.1L1024.5 416.3L1025.0 416.5L1025.5 416.7L1026.0 416.9L1026.5 417.1L1027.0 417.2L1027.5 417.4L1028.0 417.5L1028.5 417.7L1029.0 417.8L1029.5 417.9L1030.0 418.0L1030.5 418.1L1031.0 418.2L1031.5 418.3L1032.0 418.4L1032.5 418.5L1033.0 418.6L1033.5 418.6L1034.0 418.7L1034.5 418.8L1035.0 418.8L1035.5 418.9L1036.0 418.9L1036.5 419.0L1037.0 419.0L1037.5 419.1L1038.0 419.1L1038.5 419.2L1039.0 419.2L1039.5 419.2L1040.0 419.3L1040.5 419.3L1041.0 419.3L1041.5 419.4L1042.0 419.4L1042.5 419.4L1043.0 419.4L1043.5 419.5L1044.0 419.5L1044.5 419.5L1045.0 419.5L1045.5 419.5L1046.0 419.5L1046.5 419.6L1047.0 419.6L1047.5 419.6L1048.0 419.6L1048.5 419.6L1049.0 419.6L1049.5 419.7L1050.0 419.7L1050.5 419.7L1051.0 419.7L1051.5 419.7L1052.0 419.7L1052.5 419.7L1053.0 419.7L1053.5 419.7L1054.0 419.8L1054.5 419.8L1055.0 419.8L1055.5 419.8L1056.0 419.8L1056.5 419.8L1057.0 419.8L1057.5 419.8L1058.0 419.8L1058.5 419.8L1059.0 419.8L1059.5 419.9L1060.0 419.9L1060.5 419.9L1061.0 419.9L1061.5 419.9L1062.0 419.9L1062.5 419.9L1063.0 419.9L1063.5 419.9L1064.0 419.9L1064.5 419.9L1065.0 419.9L1065.5 419.9L1066.0 420.0L1066.5 420.0L1067.0 420.0L1067.5 420.0L1068.0 420.0L1068.5 420.0L1069.0 420.0L1069.5 420.0L1070.0 420.0L1070.5 420.0L1071.0 420.0L1071.5 420.0L1072.0 420.0L1072.5 420.0L1073.0 420.0L1073.5 420.0L1074.0 420.0L1074.5 420.0L1075.0 420.0L1075.5 420.1L1076.0 420.1L1076.5 420.1L1077.0 420.1L1077.5 420.1L1078.0 420.1L1078.5 420.1L1079.0 420.1L1079.5 420.1L1080.0 420.1L1080.5 420.1L1081.0 420.1L1081.5 420.1L1082.0 420.1L1082.5 420.1L1083.0 420.1L1083.5 420.1L1084.0 420.1L1086.0 420.1L1088.0 420.2L1090.0 420.2L1092.0 420.2L1094.0 420.2L1096.0 420.2L1098.0 420.2L1100.0 420.2L1102.0 420.2L1104.0 420.2L1106.0 420.3L1108.0 420.3L1110.0 420.3L1112.0 420.3L1114.0 420.3L1116.0 420.3L1118.0 420.3L1120.0 420.3L1122.0 420.3L1124.0 420.3L1126.0 420.4L1128.0 420.4L1130.0 420.4L1132.0 420.4L1134.0 420.4L1136.0 420.4L1138.0 420.4L1140.0 420.4L1142.0 420.4L1144.0 420.4L1146.0 420.4L1148.0 420.5L1150.0 420.5L1152.0 420.5L1154.0 420.5L1156.0 420.5L1158.0 420.5L1160.0 420.5L1162.0 420.5L1164.0 420.5L1166.0 420.5L1168.0 420.5L1170.0 420.5L1172.0 420.5L1174.0 420.5L1176.0 420.5L1178.0 420.5L1180.0 420.5L1182.0 420.5L1184.0 420.5L1186.0 420.5L1188.0 420.5L1190.0 420.5L1192.0 420.5L1194.0 420.5L1196.0 420.5L1198.0 420.5L1200.0 420.5L1202.0 420.5L1204.0 420.5L1206.0 420.5L1208.0 420.5L1210.0 420.5L1212.0 420.5L1214.0 420.5L1216.0 420.5L1218.0 420.5L1220.0 420.5L1222.0 420.5L1224.0 420.5L1226.0 420.5L1228.0 420.5L1230.0 420.5L1232.0 420.5L1234.0 420.5L1236.0 420.5L1238.0 420.5L1240.0 420.5L1242.0 420.5L1244.0 420.5L1246.0 420.5L1248.0 420.5L1250.0 420.5L1252.0 420.5L1254.0 420.5L1256.0 420.5L1258.0 420.5L1260.0 420.5L1262.0 420.5L1264.0 420.5L1266.0 420.5L1268.0 420.5L1270.0 420.5L1272.0 420.5L1274.0 420.5L1276.0 420.5L1278.0 420.5L1280.0 420.5L1282.0 420.5L1284.0 420.5L1286.0 420.5L1288.0 420.5L1290.0 420.5L1292.0 420.5L1294.0 420.5L1296.0 420.5L1298.0 420.5L1300.0 420.5L1302.0 420.5L1304.0 420.5L1306.0 420.5L1308.0 420.5L1310.0 420.5L1312.0 420.5L1314.0 420.5L1316.0 420.5L1318.0 420.5L1320.0 420.5L1322.0 420.5L1324.0 420.5L1326.0 420.5L1328.0 420.5L1330.0 420.5L1332.0 420.5L1334.0 420.5L1336.0 420.5L1337.0 420.5" fill="none" stroke="#000" stroke-width="2.3" stroke-linejoin="round" stroke-linecap="round"/>
<line x1="784.0" y1="15.0" x2="784.0" y2="424.0" stroke="#1a1a1a" stroke-width="1.3"/>
<line x1="783.4" y1="423.4" x2="1337.6" y2="423.4" stroke="#1a1a1a" stroke-width="1.3"/>
<line x1="784.0" y1="423.4" x2="784.0" y2="432.2" stroke="#1a1a1a" stroke-width="1.3"/>
<text x="784.0" y="459.0" font-size="22.4" text-anchor="middle">0</text>
<line x1="894.6" y1="423.4" x2="894.6" y2="432.2" stroke="#1a1a1a" stroke-width="1.3"/>
<text x="894.6" y="459.0" font-size="22.4" text-anchor="middle">1</text>
<line x1="1005.2" y1="423.4" x2="1005.2" y2="432.2" stroke="#1a1a1a" stroke-width="1.3"/>
<text x="1005.2" y="459.0" font-size="22.4" text-anchor="middle">2</text>
<line x1="1115.8" y1="423.4" x2="1115.8" y2="432.2" stroke="#1a1a1a" stroke-width="1.3"/>
<text x="1115.8" y="459.0" font-size="22.4" text-anchor="middle">3</text>
<line x1="1226.4" y1="423.4" x2="1226.4" y2="432.2" stroke="#1a1a1a" stroke-width="1.3"/>
<text x="1226.4" y="459.0" font-size="22.4" text-anchor="middle">4</text>
<line x1="1337.0" y1="423.4" x2="1337.0" y2="432.2" stroke="#1a1a1a" stroke-width="1.3"/>
<text x="1337.0" y="459.0" font-size="22.4" text-anchor="middle">5</text>
<text x="1061.5" y="497.0" font-size="27.7" text-anchor="middle">Energy (KeV)</text>
<text transform="translate(755.0 219.0) rotate(-90)" font-size="27.7" text-anchor="middle">Intensity (arb. units)</text>
<text x="1212.0" y="67.4" font-size="27.7">Baseline</text>
<text x="841.0" y="76.0" font-size="27.7" text-anchor="middle">O</text>
<text x="813.0" y="274.0" font-size="27.7" text-anchor="middle">C</text>
<text x="860.5" y="298.0" font-size="27.7" text-anchor="middle">F</text>
<text x="1006.0" y="338.0" font-size="27.7" text-anchor="middle">P</text>
<path d="M866.0 237.0L869.2 251.8L884.0 255.0L869.2 258.2L866.0 273.0L862.8 258.2L848.0 255.0L862.8 251.8Z" fill="#96D8E6"/>
<path d="M1005.0 273.0L1008.2 287.8L1023.0 291.0L1008.2 294.2L1005.0 309.0L1001.8 294.2L987.0 291.0L1001.8 287.8Z" fill="#96D8E6"/>
</g>
<g id="panel_c">
<text transform="translate(1425.0 28.0) scale(1.1 1)" font-size="36.8" font-weight="bold">c</text>
<path d="M1476.4 400.4L1476.9 398.4L1477.4 397.2L1477.9 396.4L1478.4 396.0L1478.9 395.7L1479.4 398.4L1479.9 400.7L1480.4 402.9L1480.9 404.8L1481.4 406.4L1481.9 407.9L1482.4 409.2L1482.9 410.3L1483.4 411.3L1483.9 412.2L1484.4 412.9L1484.9 413.6L1485.4 414.2L1485.9 414.7L1486.4 415.1L1486.9 415.5L1487.4 415.9L1487.9 416.2L1488.4 416.5L1488.9 416.7L1489.4 416.9L1489.9 417.1L1490.4 417.3L1490.9 417.4L1491.4 417.5L1491.9 417.6L1492.4 417.7L1492.9 417.8L1493.4 417.9L1493.9 417.9L1494.4 418.0L1494.9 418.0L1495.4 418.0L1495.9 418.0L1496.4 418.0L1496.9 417.9L1497.4 417.8L1497.9 417.5L1498.4 417.1L1498.9 416.4L1499.4 415.5L1499.9 414.1L1500.4 412.2L1500.9 409.6L1501.4 406.2L1501.9 402.0L1502.4 396.9L1502.9 390.8L1503.4 384.0L1503.9 376.6L1504.4 368.9L1504.9 361.3L1505.4 354.2L1505.9 348.1L1506.4 343.4L1506.9 340.4L1507.4 339.4L1507.9 340.4L1508.4 343.4L1508.9 348.1L1509.4 354.3L1509.9 361.3L1510.4 369.0L1510.9 376.7L1511.4 384.1L1511.9 390.9L1512.4 396.9L1512.9 402.0L1513.4 406.3L1513.9 409.6L1514.4 412.2L1514.9 414.2L1515.4 415.6L1515.9 416.6L1516.4 417.2L1516.9 417.7L1517.4 418.0L1517.9 418.2L1518.4 418.3L1518.9 418.3L1519.4 418.4L1519.9 418.4L1520.4 418.4L1520.9 418.3L1521.4 418.3L1521.9 418.2L1522.4 418.0L1522.9 417.8L1523.4 417.3L1523.9 416.7L1524.4 415.6L1524.9 414.0L1525.4 411.6L1525.9 408.2L1526.4 403.5L1526.9 397.1L1527.4 388.6L1527.9 377.8L1528.4 364.4L1528.9 348.3L1529.4 329.5L1529.9 308.5L1530.4 285.8L1530.9 262.3L1531.4 239.0L1531.9 217.1L1532.4 198.1L1532.9 183.1L1533.4 173.1L1533.9 168.9L1534.4 170.7L1534.9 178.4L1535.4 191.5L1535.9 209.1L1536.4 229.9L1536.9 252.8L1537.4 276.3L1537.9 299.4L1538.4 321.2L1538.9 340.8L1539.4 357.8L1539.9 372.0L1540.4 383.4L1540.9 392.1L1541.4 398.3L1541.9 402.2L1542.4 403.8L1542.9 403.3L1543.4 400.6L1543.9 395.5L1544.4 388.0L1544.9 377.6L1545.4 364.2L1545.9 347.6L1546.4 327.8L1546.9 304.8L1547.4 279.2L1547.9 251.6L1548.4 223.0L1548.9 194.8L1549.4 168.2L1549.9 144.8L1550.4 125.9L1550.9 112.9L1551.4 106.5L1551.9 107.2L1552.4 115.0L1552.9 129.2L1553.4 149.0L1553.9 173.2L1554.4 200.2L1554.9 228.6L1555.4 257.1L1555.9 284.3L1556.4 309.5L1556.9 331.9L1557.4 351.2L1557.9 367.3L1558.4 380.4L1558.9 390.7L1559.4 398.6L1559.9 404.5L1560.4 408.8L1560.9 411.8L1561.4 413.9L1561.9 415.2L1562.4 416.1L1562.9 416.7L1563.4 417.1L1563.9 417.3L1564.4 417.4L1564.9 417.4L1565.4 417.5L1565.9 417.5L1566.4 417.5L1566.9 417.4L1567.4 417.4L1567.9 417.4L1568.4 417.4L1568.9 417.4L1569.4 417.3L1569.9 417.3L1570.4 417.3L1570.9 417.3L1571.4 417.3L1571.9 417.2L1572.4 417.2L1572.9 417.2L1573.4 417.2L1573.9 417.2L1574.4 417.1L1574.9 417.1L1575.4 417.1L1575.9 417.1L1576.4 417.1L1576.9 417.0L1577.4 417.0L1577.9 417.0L1578.4 417.0L1578.9 416.9L1579.4 416.9L1579.9 416.9L1580.4 416.9L1580.9 416.8L1581.4 416.8L1581.9 416.8L1582.4 416.8L1582.9 416.8L1583.4 416.7L1583.9 416.7L1584.4 416.7L1584.9 416.7L1585.4 416.6L1585.9 416.6L1586.4 416.6L1586.9 416.6L1587.4 416.5L1587.9 416.5L1588.4 416.5L1588.9 416.5L1589.4 416.4L1589.9 416.4L1590.4 416.4L1590.9 416.4L1591.4 416.3L1591.9 416.3L1592.4 416.3L1592.9 416.3L1593.4 416.3L1593.9 416.2L1594.4 416.2L1594.9 416.2L1595.4 416.2L1595.9 416.1L1596.4 416.1L1596.9 416.1L1597.4 416.1L1597.9 416.0L1598.4 416.0L1598.9 416.0L1599.4 416.0L1599.9 415.9L1600.4 415.9L1600.9 415.9L1601.4 415.9L1601.9 415.9L1602.4 415.8L1602.9 415.8L1603.4 415.8L1603.9 415.8L1604.4 415.7L1604.9 415.7L1605.4 415.7L1605.9 415.7L1606.4 415.7L1606.9 415.6L1607.4 415.6L1607.9 415.6L1608.4 415.6L1608.9 415.6L1609.4 415.5L1609.9 415.5L1610.4 415.5L1610.9 415.5L1611.4 415.5L1611.9 415.4L1612.4 415.4L1612.9 415.4L1613.4 415.4L1613.9 415.4L1614.4 415.4L1614.9 415.3L1615.4 415.3L1615.9 415.3L1616.4 415.3L1616.9 415.3L1617.4 415.3L1617.9 415.2L1618.4 415.2L1618.9 415.2L1619.4 415.2L1619.9 415.2L1620.4 415.2L1620.9 415.2L1621.4 415.1L1621.9 415.1L1622.4 415.1L1622.9 415.1L1623.4 415.1L1623.9 415.1L1624.4 415.1L1624.9 415.1L1625.4 415.1L1625.9 415.0L1626.4 415.0L1626.9 415.0L1627.4 415.0L1627.9 415.0L1628.4 415.0L1628.9 415.0L1629.4 415.0L1629.9 415.0L1630.4 415.0L1630.9 415.0L1631.4 415.0L1631.9 415.0L1632.4 415.0L1632.9 415.0L1633.4 415.0L1633.9 414.9L1634.4 414.9L1634.9 414.9L1635.4 414.9L1635.9 414.9L1636.4 414.9L1636.9 414.9L1637.4 414.9L1637.9 414.9L1638.4 414.9L1638.9 414.9L1639.4 414.9L1639.9 414.9L1640.4 415.0L1640.9 415.0L1641.4 415.0L1641.9 415.0L1642.4 415.0L1642.9 415.0L1643.4 415.0L1643.9 415.0L1644.4 415.0L1644.9 415.0L1645.4 415.0L1645.9 415.0L1646.4 415.0L1646.9 415.0L1647.4 415.0L1647.9 415.1L1648.4 415.1L1648.9 415.1L1649.4 415.1L1649.9 415.1L1650.4 415.1L1650.9 415.1L1651.4 415.1L1651.9 415.1L1652.4 415.2L1652.9 415.2L1653.4 415.2L1653.9 415.2L1654.4 415.2L1654.9 415.2L1655.4 415.2L1655.9 415.3L1656.4 415.3L1656.9 415.3L1657.4 415.3L1657.9 415.3L1658.4 415.3L1658.9 415.4L1659.4 415.4L1659.9 415.4L1660.4 415.4L1660.9 415.4L1661.4 415.4L1661.9 415.5L1662.4 415.5L1662.9 415.5L1663.4 415.5L1663.9 415.5L1664.4 415.5L1664.9 415.6L1665.4 415.6L1665.9 415.6L1666.4 415.6L1666.9 415.6L1667.4 415.6L1667.9 415.6L1668.4 415.6L1668.9 415.6L1669.4 415.6L1669.9 415.6L1670.4 415.6L1670.9 415.6L1671.4 415.6L1671.9 415.6L1672.4 415.6L1672.9 415.6L1673.4 415.6L1673.9 415.5L1674.4 415.5L1674.9 415.5L1675.4 415.4L1675.9 415.4L1676.4 415.3L1676.9 415.3L1677.4 415.2L1677.9 415.1L1678.4 415.1L1678.9 415.0L1679.4 414.9L1679.9 414.8L1680.4 414.7L1680.9 414.5L1681.4 414.4L1681.9 414.3L1682.4 414.1L1682.9 413.9L1683.4 413.7L1683.9 413.4L1684.4 413.0L1684.9 412.6L1685.4 412.1L1685.9 411.5L1686.4 410.7L1686.9 409.7L1687.4 408.4L1687.9 406.8L1688.4 404.9L1688.9 402.4L1689.4 399.4L1689.9 395.8L1690.4 391.5L1690.9 386.4L1691.4 380.4L1691.9 373.6L1692.4 365.9L1692.9 357.4L1693.4 348.1L1693.9 338.1L1694.4 327.5L1694.9 316.7L1695.4 305.7L1695.9 295.0L1696.4 284.7L1696.9 275.2L1697.4 266.7L1697.9 259.7L1698.4 254.2L1698.9 250.5L1699.4 248.7L1699.9 248.9L1700.4 251.2L1700.9 255.3L1701.4 261.2L1701.9 268.6L1702.4 277.3L1702.9 287.1L1703.4 297.5L1703.9 308.4L1704.4 319.4L1704.9 330.3L1705.4 340.8L1705.9 350.7L1706.4 350.5L1706.9 359.6L1707.4 367.8L1707.9 375.0L1708.4 381.4L1708.9 386.9L1709.4 391.6L1709.9 395.5L1710.4 398.9L1710.9 401.6L1711.4 403.9L1711.9 405.8L1712.4 407.4L1712.9 408.7L1713.4 409.7L1713.9 410.6L1714.4 411.4L1714.9 412.1L1715.4 412.6L1715.9 413.1L1716.4 413.6L1716.9 414.0L1717.4 414.3L1717.9 414.7L1718.4 415.0L1718.9 415.3L1719.4 415.5L1719.9 415.8L1720.4 416.0L1720.9 416.3L1721.4 416.5L1721.9 416.7L1722.4 416.8L1722.9 417.0L1723.4 417.2L1723.9 417.3L1724.4 417.5L1724.9 417.6L1725.4 417.7L1725.9 417.8L1726.4 418.0L1726.9 418.1L1727.4 418.1L1727.9 418.2L1728.4 418.3L1728.9 418.4L1729.4 418.5L1729.9 418.5L1730.4 418.6L1730.9 418.7L1731.4 418.7L1731.9 418.8L1732.4 418.8L1732.9 418.9L1733.4 418.9L1733.9 418.9L1734.4 419.0L1734.9 419.0L1735.4 419.0L1735.9 419.1L1736.4 419.1L1736.9 419.1L1737.4 419.2L1737.9 419.2L1738.4 419.2L1738.9 419.2L1739.4 419.3L1739.9 419.3L1740.4 419.3L1740.9 419.3L1741.4 419.3L1741.9 419.4L1742.4 419.4L1742.9 419.4L1743.4 419.4L1743.9 419.4L1744.4 419.5L1744.9 419.5L1745.4 419.5L1745.9 419.5L1746.4 419.5L1746.9 419.5L1747.4 419.5L1747.9 419.6L1748.4 419.6L1748.9 419.6L1749.4 419.6L1749.9 419.6L1750.4 419.6L1750.9 419.6L1751.4 419.7L1751.9 419.7L1752.4 419.7L1752.9 419.7L1753.4 419.7L1753.9 419.7L1754.4 419.7L1754.9 419.7L1755.4 419.7L1755.9 419.7L1756.4 419.8L1756.9 419.8L1757.4 419.8L1757.9 419.8L1758.4 419.8L1758.9 419.8L1759.4 419.8L1759.9 419.8L1760.4 419.8L1760.9 419.8L1761.4 419.9L1761.9 419.9L1762.4 419.9L1762.9 419.9L1763.4 419.9L1763.9 419.9L1764.4 419.9L1764.9 419.9L1765.4 419.9L1765.9 419.9L1766.4 419.9L1766.9 419.9L1767.4 419.9L1767.9 419.9L1768.4 420.0L1768.9 420.0L1769.4 420.0L1769.9 420.0L1770.4 420.0L1770.9 420.0L1771.4 420.0L1771.9 420.0L1772.4 420.0L1772.9 420.0L1773.4 420.0L1773.9 420.0L1774.4 420.0L1774.9 420.0L1775.4 420.0L1775.9 420.0L1776.4 420.1L1778.4 420.1L1780.4 420.1L1782.4 420.1L1784.4 420.1L1786.4 420.1L1788.4 420.2L1790.4 420.2L1792.4 420.2L1794.4 420.2L1796.4 420.2L1798.4 420.2L1800.4 420.2L1802.4 420.3L1804.4 420.3L1806.4 420.3L1808.4 420.3L1810.4 420.3L1812.4 420.3L1814.4 420.3L1816.4 420.3L1818.4 420.3L1820.4 420.4L1822.4 420.4L1824.4 420.4L1826.4 420.4L1828.4 420.4L1830.4 420.4L1832.4 420.4L1834.4 420.4L1836.4 420.4L1838.4 420.4L1840.4 420.5L1842.4 420.5L1844.4 420.5L1846.4 420.5L1848.4 420.5L1850.4 420.5L1852.4 420.5L1854.4 420.5L1856.4 420.5L1858.4 420.5L1860.4 420.5L1862.4 420.5L1864.4 420.5L1866.4 420.5L1868.4 420.5L1870.4 420.5L1872.4 420.5L1874.4 420.5L1876.4 420.5L1878.4 420.5L1880.4 420.5L1882.4 420.5L1884.4 420.5L1886.4 420.5L1888.4 420.5L1890.4 420.5L1892.4 420.5L1894.4 420.5L1896.4 420.5L1898.4 420.5L1900.4 420.5L1902.4 420.5L1904.4 420.5L1906.4 420.5L1908.4 420.5L1910.4 420.5L1912.4 420.5L1914.4 420.5L1916.4 420.5L1918.4 420.5L1920.4 420.5L1922.4 420.5L1924.4 420.5L1926.4 420.5L1928.4 420.5L1930.4 420.5L1932.4 420.5L1934.4 420.5L1936.4 420.5L1938.4 420.5L1940.4 420.5L1942.4 420.5L1944.4 420.5L1946.4 420.5L1948.4 420.5L1950.4 420.5L1952.4 420.5L1954.4 420.5L1956.4 420.5L1958.4 420.5L1960.4 420.5L1962.4 420.5L1964.4 420.5L1966.4 420.5L1968.4 420.5L1970.4 420.5L1972.4 420.5L1974.4 420.5L1976.4 420.5L1978.4 420.5L1980.4 420.5L1982.4 420.5L1984.4 420.5L1986.4 420.5L1988.4 420.5L1990.4 420.5L1992.4 420.5L1994.4 420.5L1996.4 420.5L1998.4 420.5L2000.4 420.5L2002.4 420.5L2004.4 420.5L2006.4 420.5L2008.4 420.5L2010.4 420.5L2012.4 420.5L2014.4 420.5L2016.4 420.5L2018.4 420.5L2020.4 420.5L2022.4 420.5L2024.4 420.5L2026.4 420.5L2028.4 420.5L2030.0 420.5L2030.0 423.4L1476.4 423.4Z" fill="#E98580"/><path d="M1476.4 400.4L1476.9 398.4L1477.4 397.2L1477.9 396.4L1478.4 396.0L1478.9 395.7L1479.4 398.4L1479.9 400.7L1480.4 402.9L1480.9 404.8L1481.4 406.4L1481.9 407.9L1482.4 409.2L1482.9 410.3L1483.4 411.3L1483.9 412.2L1484.4 412.9L1484.9 413.6L1485.4 414.2L1485.9 414.7L1486.4 415.1L1486.9 415.5L1487.4 415.9L1487.9 416.2L1488.4 416.5L1488.9 416.7L1489.4 416.9L1489.9 417.1L1490.4 417.3L1490.9 417.4L1491.4 417.5L1491.9 417.6L1492.4 417.7L1492.9 417.8L1493.4 417.9L1493.9 417.9L1494.4 418.0L1494.9 418.0L1495.4 418.0L1495.9 418.0L1496.4 418.0L1496.9 417.9L1497.4 417.8L1497.9 417.5L1498.4 417.1L1498.9 416.4L1499.4 415.5L1499.9 414.1L1500.4 412.2L1500.9 409.6L1501.4 406.2L1501.9 402.0L1502.4 396.9L1502.9 390.8L1503.4 384.0L1503.9 376.6L1504.4 368.9L1504.9 361.3L1505.4 354.2L1505.9 348.1L1506.4 343.4L1506.9 340.4L1507.4 339.4L1507.9 340.4L1508.4 343.4L1508.9 348.1L1509.4 354.3L1509.9 361.3L1510.4 369.0L1510.9 376.7L1511.4 384.1L1511.9 390.9L1512.4 396.9L1512.9 402.0L1513.4 406.3L1513.9 409.6L1514.4 412.2L1514.9 414.2L1515.4 415.6L1515.9 416.6L1516.4 417.2L1516.9 417.7L1517.4 418.0L1517.9 418.2L1518.4 418.3L1518.9 418.3L1519.4 418.4L1519.9 418.4L1520.4 418.4L1520.9 418.3L1521.4 418.3L1521.9 418.2L1522.4 418.0L1522.9 417.8L1523.4 417.3L1523.9 416.7L1524.4 415.6L1524.9 414.0L1525.4 411.6L1525.9 408.2L1526.4 403.5L1526.9 397.1L1527.4 388.6L1527.9 377.8L1528.4 364.4L1528.9 348.3L1529.4 329.5L1529.9 308.5L1530.4 285.8L1530.9 262.3L1531.4 239.0L1531.9 217.1L1532.4 198.1L1532.9 183.1L1533.4 173.1L1533.9 168.9L1534.4 170.7L1534.9 178.4L1535.4 191.5L1535.9 209.1L1536.4 229.9L1536.9 252.8L1537.4 276.3L1537.9 299.4L1538.4 321.2L1538.9 340.8L1539.4 357.8L1539.9 372.0L1540.4 383.4L1540.9 392.1L1541.4 398.3L1541.9 402.2L1542.4 403.8L1542.9 403.3L1543.4 400.6L1543.9 395.5L1544.4 388.0L1544.9 377.6L1545.4 364.2L1545.9 347.6L1546.4 327.8L1546.9 304.8L1547.4 279.2L1547.9 251.6L1548.4 223.0L1548.9 194.8L1549.4 168.2L1549.9 144.8L1550.4 125.9L1550.9 112.9L1551.4 106.5L1551.9 107.2L1552.4 115.0L1552.9 129.2L1553.4 149.0L1553.9 173.2L1554.4 200.2L1554.9 228.6L1555.4 257.1L1555.9 284.3L1556.4 309.5L1556.9 331.9L1557.4 351.2L1557.9 367.3L1558.4 380.4L1558.9 390.7L1559.4 398.6L1559.9 404.5L1560.4 408.8L1560.9 411.8L1561.4 413.9L1561.9 415.2L1562.4 416.1L1562.9 416.7L1563.4 417.1L1563.9 417.3L1564.4 417.4L1564.9 417.4L1565.4 417.5L1565.9 417.5L1566.4 417.5L1566.9 417.4L1567.4 417.4L1567.9 417.4L1568.4 417.4L1568.9 417.4L1569.4 417.3L1569.9 417.3L1570.4 417.3L1570.9 417.3L1571.4 417.3L1571.9 417.2L1572.4 417.2L1572.9 417.2L1573.4 417.2L1573.9 417.2L1574.4 417.1L1574.9 417.1L1575.4 417.1L1575.9 417.1L1576.4 417.1L1576.9 417.0L1577.4 417.0L1577.9 417.0L1578.4 417.0L1578.9 416.9L1579.4 416.9L1579.9 416.9L1580.4 416.9L1580.9 416.8L1581.4 416.8L1581.9 416.8L1582.4 416.8L1582.9 416.8L1583.4 416.7L1583.9 416.7L1584.4 416.7L1584.9 416.7L1585.4 416.6L1585.9 416.6L1586.4 416.6L1586.9 416.6L1587.4 416.5L1587.9 416.5L1588.4 416.5L1588.9 416.5L1589.4 416.4L1589.9 416.4L1590.4 416.4L1590.9 416.4L1591.4 416.3L1591.9 416.3L1592.4 416.3L1592.9 416.3L1593.4 416.3L1593.9 416.2L1594.4 416.2L1594.9 416.2L1595.4 416.2L1595.9 416.1L1596.4 416.1L1596.9 416.1L1597.4 416.1L1597.9 416.0L1598.4 416.0L1598.9 416.0L1599.4 416.0L1599.9 415.9L1600.4 415.9L1600.9 415.9L1601.4 415.9L1601.9 415.9L1602.4 415.8L1602.9 415.8L1603.4 415.8L1603.9 415.8L1604.4 415.7L1604.9 415.7L1605.4 415.7L1605.9 415.7L1606.4 415.7L1606.9 415.6L1607.4 415.6L1607.9 415.6L1608.4 415.6L1608.9 415.6L1609.4 415.5L1609.9 415.5L1610.4 415.5L1610.9 415.5L1611.4 415.5L1611.9 415.4L1612.4 415.4L1612.9 415.4L1613.4 415.4L1613.9 415.4L1614.4 415.4L1614.9 415.3L1615.4 415.3L1615.9 415.3L1616.4 415.3L1616.9 415.3L1617.4 415.3L1617.9 415.2L1618.4 415.2L1618.9 415.2L1619.4 415.2L1619.9 415.2L1620.4 415.2L1620.9 415.2L1621.4 415.1L1621.9 415.1L1622.4 415.1L1622.9 415.1L1623.4 415.1L1623.9 415.1L1624.4 415.1L1624.9 415.1L1625.4 415.1L1625.9 415.0L1626.4 415.0L1626.9 415.0L1627.4 415.0L1627.9 415.0L1628.4 415.0L1628.9 415.0L1629.4 415.0L1629.9 415.0L1630.4 415.0L1630.9 415.0L1631.4 415.0L1631.9 415.0L1632.4 415.0L1632.9 415.0L1633.4 415.0L1633.9 414.9L1634.4 414.9L1634.9 414.9L1635.4 414.9L1635.9 414.9L1636.4 414.9L1636.9 414.9L1637.4 414.9L1637.9 414.9L1638.4 414.9L1638.9 414.9L1639.4 414.9L1639.9 414.9L1640.4 415.0L1640.9 415.0L1641.4 415.0L1641.9 415.0L1642.4 415.0L1642.9 415.0L1643.4 415.0L1643.9 415.0L1644.4 415.0L1644.9 415.0L1645.4 415.0L1645.9 415.0L1646.4 415.0L1646.9 415.0L1647.4 415.0L1647.9 415.1L1648.4 415.1L1648.9 415.1L1649.4 415.1L1649.9 415.1L1650.4 415.1L1650.9 415.1L1651.4 415.1L1651.9 415.1L1652.4 415.2L1652.9 415.2L1653.4 415.2L1653.9 415.2L1654.4 415.2L1654.9 415.2L1655.4 415.2L1655.9 415.3L1656.4 415.3L1656.9 415.3L1657.4 415.3L1657.9 415.3L1658.4 415.3L1658.9 415.4L1659.4 415.4L1659.9 415.4L1660.4 415.4L1660.9 415.4L1661.4 415.4L1661.9 415.5L1662.4 415.5L1662.9 415.5L1663.4 415.5L1663.9 415.5L1664.4 415.5L1664.9 415.6L1665.4 415.6L1665.9 415.6L1666.4 415.6L1666.9 415.6L1667.4 415.6L1667.9 415.6L1668.4 415.6L1668.9 415.6L1669.4 415.6L1669.9 415.6L1670.4 415.6L1670.9 415.6L1671.4 415.6L1671.9 415.6L1672.4 415.6L1672.9 415.6L1673.4 415.6L1673.9 415.5L1674.4 415.5L1674.9 415.5L1675.4 415.4L1675.9 415.4L1676.4 415.3L1676.9 415.3L1677.4 415.2L1677.9 415.1L1678.4 415.1L1678.9 415.0L1679.4 414.9L1679.9 414.8L1680.4 414.7L1680.9 414.5L1681.4 414.4L1681.9 414.3L1682.4 414.1L1682.9 413.9L1683.4 413.7L1683.9 413.4L1684.4 413.0L1684.9 412.6L1685.4 412.1L1685.9 411.5L1686.4 410.7L1686.9 409.7L1687.4 408.4L1687.9 406.8L1688.4 404.9L1688.9 402.4L1689.4 399.4L1689.9 395.8L1690.4 391.5L1690.9 386.4L1691.4 380.4L1691.9 373.6L1692.4 365.9L1692.9 357.4L1693.4 348.1L1693.9 338.1L1694.4 327.5L1694.9 316.7L1695.4 305.7L1695.9 295.0L1696.4 284.7L1696.9 275.2L1697.4 266.7L1697.9 259.7L1698.4 254.2L1698.9 250.5L1699.4 248.7L1699.9 248.9L1700.4 251.2L1700.9 255.3L1701.4 261.2L1701.9 268.6L1702.4 277.3L1702.9 287.1L1703.4 297.5L1703.9 308.4L1704.4 319.4L1704.9 330.3L1705.4 340.8L1705.9 350.7L1706.4 350.5L1706.9 359.6L1707.4 367.8L1707.9 375.0L1708.4 381.4L1708.9 386.9L1709.4 391.6L1709.9 395.5L1710.4 398.9L1710.9 401.6L1711.4 403.9L1711.9 405.8L1712.4 407.4L1712.9 408.7L1713.4 409.7L1713.9 410.6L1714.4 411.4L1714.9 412.1L1715.4 412.6L1715.9 413.1L1716.4 413.6L1716.9 414.0L1717.4 414.3L1717.9 414.7L1718.4 415.0L1718.9 415.3L1719.4 415.5L1719.9 415.8L1720.4 416.0L1720.9 416.3L1721.4 416.5L1721.9 416.7L1722.4 416.8L1722.9 417.0L1723.4 417.2L1723.9 417.3L1724.4 417.5L1724.9 417.6L1725.4 417.7L1725.9 417.8L1726.4 418.0L1726.9 418.1L1727.4 418.1L1727.9 418.2L1728.4 418.3L1728.9 418.4L1729.4 418.5L1729.9 418.5L1730.4 418.6L1730.9 418.7L1731.4 418.7L1731.9 418.8L1732.4 418.8L1732.9 418.9L1733.4 418.9L1733.9 418.9L1734.4 419.0L1734.9 419.0L1735.4 419.0L1735.9 419.1L1736.4 419.1L1736.9 419.1L1737.4 419.2L1737.9 419.2L1738.4 419.2L1738.9 419.2L1739.4 419.3L1739.9 419.3L1740.4 419.3L1740.9 419.3L1741.4 419.3L1741.9 419.4L1742.4 419.4L1742.9 419.4L1743.4 419.4L1743.9 419.4L1744.4 419.5L1744.9 419.5L1745.4 419.5L1745.9 419.5L1746.4 419.5L1746.9 419.5L1747.4 419.5L1747.9 419.6L1748.4 419.6L1748.9 419.6L1749.4 419.6L1749.9 419.6L1750.4 419.6L1750.9 419.6L1751.4 419.7L1751.9 419.7L1752.4 419.7L1752.9 419.7L1753.4 419.7L1753.9 419.7L1754.4 419.7L1754.9 419.7L1755.4 419.7L1755.9 419.7L1756.4 419.8L1756.9 419.8L1757.4 419.8L1757.9 419.8L1758.4 419.8L1758.9 419.8L1759.4 419.8L1759.9 419.8L1760.4 419.8L1760.9 419.8L1761.4 419.9L1761.9 419.9L1762.4 419.9L1762.9 419.9L1763.4 419.9L1763.9 419.9L1764.4 419.9L1764.9 419.9L1765.4 419.9L1765.9 419.9L1766.4 419.9L1766.9 419.9L1767.4 419.9L1767.9 419.9L1768.4 420.0L1768.9 420.0L1769.4 420.0L1769.9 420.0L1770.4 420.0L1770.9 420.0L1771.4 420.0L1771.9 420.0L1772.4 420.0L1772.9 420.0L1773.4 420.0L1773.9 420.0L1774.4 420.0L1774.9 420.0L1775.4 420.0L1775.9 420.0L1776.4 420.1L1778.4 420.1L1780.4 420.1L1782.4 420.1L1784.4 420.1L1786.4 420.1L1788.4 420.2L1790.4 420.2L1792.4 420.2L1794.4 420.2L1796.4 420.2L1798.4 420.2L1800.4 420.2L1802.4 420.3L1804.4 420.3L1806.4 420.3L1808.4 420.3L1810.4 420.3L1812.4 420.3L1814.4 420.3L1816.4 420.3L1818.4 420.3L1820.4 420.4L1822.4 420.4L1824.4 420.4L1826.4 420.4L1828.4 420.4L1830.4 420.4L1832.4 420.4L1834.4 420.4L1836.4 420.4L1838.4 420.4L1840.4 420.5L1842.4 420.5L1844.4 420.5L1846.4 420.5L1848.4 420.5L1850.4 420.5L1852.4 420.5L1854.4 420.5L1856.4 420.5L1858.4 420.5L1860.4 420.5L1862.4 420.5L1864.4 420.5L1866.4 420.5L1868.4 420.5L1870.4 420.5L1872.4 420.5L1874.4 420.5L1876.4 420.5L1878.4 420.5L1880.4 420.5L1882.4 420.5L1884.4 420.5L1886.4 420.5L1888.4 420.5L1890.4 420.5L1892.4 420.5L1894.4 420.5L1896.4 420.5L1898.4 420.5L1900.4 420.5L1902.4 420.5L1904.4 420.5L1906.4 420.5L1908.4 420.5L1910.4 420.5L1912.4 420.5L1914.4 420.5L1916.4 420.5L1918.4 420.5L1920.4 420.5L1922.4 420.5L1924.4 420.5L1926.4 420.5L1928.4 420.5L1930.4 420.5L1932.4 420.5L1934.4 420.5L1936.4 420.5L1938.4 420.5L1940.4 420.5L1942.4 420.5L1944.4 420.5L1946.4 420.5L1948.4 420.5L1950.4 420.5L1952.4 420.5L1954.4 420.5L1956.4 420.5L1958.4 420.5L1960.4 420.5L1962.4 420.5L1964.4 420.5L1966.4 420.5L1968.4 420.5L1970.4 420.5L1972.4 420.5L1974.4 420.5L1976.4 420.5L1978.4 420.5L1980.4 420.5L1982.4 420.5L1984.4 420.5L1986.4 420.5L1988.4 420.5L1990.4 420.5L1992.4 420.5L1994.4 420.5L1996.4 420.5L1998.4 420.5L2000.4 420.5L2002.4 420.5L2004.4 420.5L2006.4 420.5L2008.4 420.5L2010.4 420.5L2012.4 420.5L2014.4 420.5L2016.4 420.5L2018.4 420.5L2020.4 420.5L2022.4 420.5L2024.4 420.5L2026.4 420.5L2028.4 420.5L2030.0 420.5" fill="none" stroke="#3c3c3c" stroke-width="2.3" stroke-linejoin="round" stroke-linecap="round"/>
<line x1="1476.4" y1="15.0" x2="1476.4" y2="424.0" stroke="#1a1a1a" stroke-width="1.3"/>
<line x1="1475.8" y1="423.4" x2="2030.6" y2="423.4" stroke="#1a1a1a" stroke-width="1.3"/>
<line x1="1476.4" y1="423.4" x2="1476.4" y2="432.2" stroke="#1a1a1a" stroke-width="1.3"/>
<text x="1476.4" y="459.0" font-size="22.4" text-anchor="middle">0</text>
<line x1="1587.1" y1="423.4" x2="1587.1" y2="432.2" stroke="#1a1a1a" stroke-width="1.3"/>
<text x="1587.1" y="459.0" font-size="22.4" text-anchor="middle">1</text>
<line x1="1697.8" y1="423.4" x2="1697.8" y2="432.2" stroke="#1a1a1a" stroke-width="1.3"/>
<text x="1697.8" y="459.0" font-size="22.4" text-anchor="middle">2</text>
<line x1="1808.6" y1="423.4" x2="1808.6" y2="432.2" stroke="#1a1a1a" stroke-width="1.3"/>
<text x="1808.6" y="459.0" font-size="22.4" text-anchor="middle">3</text>
<line x1="1919.3" y1="423.4" x2="1919.3" y2="432.2" stroke="#1a1a1a" stroke-width="1.3"/>
<text x="1919.3" y="459.0" font-size="22.4" text-anchor="middle">4</text>
<line x1="2030.0" y1="423.4" x2="2030.0" y2="432.2" stroke="#1a1a1a" stroke-width="1.3"/>
<text x="2030.0" y="459.0" font-size="22.4" text-anchor="middle">5</text>
<text x="1755.0" y="497.0" font-size="27.7" text-anchor="middle">Energy (KeV)</text>
<text transform="translate(1448.0 219.0) rotate(-90)" font-size="27.7" text-anchor="middle">Intensity (arb. units)</text>
<text x="1939.5" y="62.4" font-size="27.7">FHFP</text>
<text x="1533.0" y="156.0" font-size="27.7" text-anchor="middle">O</text>
<text x="1506.0" y="333.0" font-size="27.7" text-anchor="middle">C</text>
<text x="1550.4" y="98.4" font-size="27.7" text-anchor="middle">F</text>
<text x="1701.0" y="236.6" font-size="27.7" text-anchor="middle">P</text>
<path d="M1548.4 34.4L1551.6 49.2L1566.4 52.4L1551.6 55.6L1548.4 70.4L1545.2 55.6L1530.4 52.4L1545.2 49.2Z" fill="#E8837E"/>
<path d="M1698.4 176.0L1701.6 190.8L1716.4 194.0L1701.6 197.2L1698.4 212.0L1695.2 197.2L1680.4 194.0L1695.2 190.8Z" fill="#E8837E"/>
</g>
<g id="panel_ins">
<clipPath id="cpR"><rect x="1090.0" y="177.6" width="242.0" height="192.8"/></clipPath>
<g clip-path="url(#cpR)">
<rect x="1090.0" y="177.6" width="242.0" height="192.8" fill="#6e6e6e"/>
<rect x="1090.0" y="177.6" width="242.0" height="192.8" filter="url(#riv)"/>
<path d="M1184.2 179.2L1188.2 186.2L1196.2 193.2L1204.2 213.2L1207.2 223.2L1209.2 243.2L1212.2 258.2L1219.2 269.2L1231.2 267.2L1244.2 281.2L1241.2 301.2L1238.2 319.2L1251.2 326.2L1266.2 336.2L1276.2 346.2L1299.2 349.2L1311.2 363.2L1319.2 372.2" fill="none" stroke="#b4b4b4" stroke-width="1.68" opacity="0.55" filter="url(#iblur1)"/>
<path d="M1183.0 178.0L1187.0 185.0L1195.0 192.0L1203.0 212.0L1206.0 222.0L1208.0 242.0L1211.0 257.0L1218.0 268.0L1230.0 266.0L1243.0 280.0L1240.0 300.0L1237.0 318.0L1250.0 325.0L1265.0 335.0L1275.0 345.0L1298.0 348.0L1310.0 362.0L1318.0 371.0" fill="none" stroke="#2e2e2e" stroke-width="2.4" stroke-linejoin="round" opacity="0.9" filter="url(#iblur1)"/>
<path d="M1091.2 274.2L1106.2 271.2L1121.2 269.2L1139.2 268.2L1151.2 275.2L1163.2 279.2L1171.2 291.2L1181.2 294.2L1196.2 293.2L1211.2 295.2L1237.2 296.2" fill="none" stroke="#b4b4b4" stroke-width="1.68" opacity="0.55" filter="url(#iblur1)"/>
<path d="M1090.0 273.0L1105.0 270.0L1120.0 268.0L1138.0 267.0L1150.0 274.0L1162.0 278.0L1170.0 290.0L1180.0 293.0L1195.0 292.0L1210.0 294.0L1236.0 295.0" fill="none" stroke="#2e2e2e" stroke-width="2.4" stroke-linejoin="round" opacity="0.9" filter="url(#iblur1)"/>
<path d="M1306.2 179.2L1304.2 201.2L1301.2 231.2L1298.2 256.2L1301.2 276.2L1307.2 291.2L1317.2 301.2L1327.2 311.2L1333.2 319.2" fill="none" stroke="#b4b4b4" stroke-width="1.68" opacity="0.55" filter="url(#iblur1)"/>
<path d="M1305.0 178.0L1303.0 200.0L1300.0 230.0L1297.0 255.0L1300.0 275.0L1306.0 290.0L1316.0 300.0L1326.0 310.0L1332.0 318.0" fill="none" stroke="#2e2e2e" stroke-width="2.4" stroke-linejoin="round" opacity="0.9" filter="url(#iblur1)"/>
<path d="M1141.2 216.2L1142.2 236.2L1145.2 253.2L1150.2 265.2" fill="none" stroke="#b4b4b4" stroke-width="1.1199999999999999" opacity="0.55" filter="url(#iblur1)"/>
<path d="M1140.0 215.0L1141.0 235.0L1144.0 252.0L1149.0 264.0" fill="none" stroke="#2e2e2e" stroke-width="1.6" stroke-linejoin="round" opacity="0.9" filter="url(#iblur1)"/>
<path d="M1175.2 317.2L1176.2 331.2L1178.2 347.2L1182.2 372.2" fill="none" stroke="#b4b4b4" stroke-width="1.1199999999999999" opacity="0.55" filter="url(#iblur1)"/>
<path d="M1174.0 316.0L1175.0 330.0L1177.0 346.0L1181.0 371.0" fill="none" stroke="#2e2e2e" stroke-width="1.6" stroke-linejoin="round" opacity="0.9" filter="url(#iblur1)"/>
<path d="M1171.2 291.2L1179.2 301.2L1193.2 305.2L1203.2 313.2L1216.2 313.2L1233.2 311.2L1238.2 319.2" fill="none" stroke="#b4b4b4" stroke-width="1.1199999999999999" opacity="0.55" filter="url(#iblur1)"/>
<path d="M1170.0 290.0L1178.0 300.0L1192.0 304.0L1202.0 312.0L1215.0 312.0L1232.0 310.0L1237.0 318.0" fill="none" stroke="#2e2e2e" stroke-width="1.6" stroke-linejoin="round" opacity="0.9" filter="url(#iblur1)"/>
<path d="M1216.2 313.2L1217.2 331.2L1220.2 351.2L1223.2 372.2" fill="none" stroke="#b4b4b4" stroke-width="1.1199999999999999" opacity="0.55" filter="url(#iblur1)"/>
<path d="M1215.0 312.0L1216.0 330.0L1219.0 350.0L1222.0 371.0" fill="none" stroke="#2e2e2e" stroke-width="1.6" stroke-linejoin="round" opacity="0.9" filter="url(#iblur1)"/>
<path d="M1091.2 196.2L1101.2 206.2L1109.2 223.2L1119.2 233.2L1131.2 239.2L1141.2 237.2" fill="none" stroke="#b4b4b4" stroke-width="1.1199999999999999" opacity="0.55" filter="url(#iblur1)"/>
<path d="M1090.0 195.0L1100.0 205.0L1108.0 222.0L1118.0 232.0L1130.0 238.0L1140.0 236.0" fill="none" stroke="#2e2e2e" stroke-width="1.6" stroke-linejoin="round" opacity="0.9" filter="url(#iblur1)"/>
<path d="M1238.2 319.2L1239.2 336.2L1235.2 351.2" fill="none" stroke="#b4b4b4" stroke-width="1.1199999999999999" opacity="0.55" filter="url(#iblur1)"/>
<path d="M1237.0 318.0L1238.0 335.0L1234.0 350.0" fill="none" stroke="#2e2e2e" stroke-width="1.6" stroke-linejoin="round" opacity="0.9" filter="url(#iblur1)"/>
<ellipse cx="1125" cy="290" rx="22" ry="12" fill="#505050" opacity="0.55" filter="url(#iblur2)"/>
<ellipse cx="1190" cy="300" rx="18" ry="8" fill="#505050" opacity="0.55" filter="url(#iblur2)"/>
<ellipse cx="1218" cy="305" rx="12" ry="7" fill="#505050" opacity="0.55" filter="url(#iblur2)"/>
<ellipse cx="1105" cy="350" rx="12" ry="8" fill="#505050" opacity="0.55" filter="url(#iblur2)"/>
</g>
<text x="1101.0" y="211.0" font-size="21.5" fill="#fff">Riven Li anode</text>
<line x1="1208.6" y1="349.6" x2="1233.6" y2="349.6" stroke="#fff" stroke-width="3.4"/>
<text x="1247.0" y="357.0" font-size="21.5" fill="#fff">100 µm</text>
<clipPath id="cpF"><rect x="1781.0" y="177.8" width="242.0" height="192.7"/></clipPath>
<g clip-path="url(#cpF)">
<rect x="1781.0" y="177.8" width="242.0" height="192.7" fill="#7c7c7c"/>
<rect x="1781.0" y="177.8" width="242.0" height="192.7" filter="url(#flat)"/>
<ellipse cx="1820" cy="230" rx="60" ry="50" fill="#6e6e6e" opacity="0.5" filter="url(#iblur20)"/>
<ellipse cx="1990" cy="300" rx="60" ry="60" fill="#8c8c8c" opacity="0.45" filter="url(#iblur20)"/>
<path d="M1781.0 299.4L1795.0 288.0L1809.7 276.2L1826.0 266.0L1844.6 253.0L1858.0 241.0L1870.0 232.0L1880.0 226.0L1891.0 222.7L1897.0 229.0L1902.7 236.7L1910.0 228.0L1916.6 220.4L1932.0 215.0L1949.0 213.5L1956.0 202.0L1960.8 190.2L1966.0 183.0L1970.0 178.0" fill="none" stroke="#b0b0b0" stroke-width="2.6" stroke-linejoin="round" opacity="0.85" filter="url(#iblur1)"/>
<path d="M1912.0 260.0L1925.0 253.0L1937.5 248.3L1955.0 246.0L1972.4 241.3L1984.0 233.0L1995.6 227.4L2010.0 223.0L2023.0 220.4" fill="none" stroke="#b0b0b0" stroke-width="2.0" stroke-linejoin="round" opacity="0.85" filter="url(#iblur1)"/>
</g>
<text x="1794.0" y="203.8" font-size="21.5" fill="#fff">Flat Li anode</text>
<line x1="1901.5" y1="350.0" x2="1927.8" y2="350.0" stroke="#fff" stroke-width="3.4"/>
<text x="1940.0" y="357.5" font-size="21.5" fill="#fff">100 µm</text>
</g>
<g id="panel_d">
<text transform="translate(3.6 553.0) scale(1.05 1)" font-size="38.5" font-weight="bold">d</text>
<text transform="translate(72.6 645.5) rotate(-90)" font-size="27.7" text-anchor="middle">Baseline</text>
<text transform="translate(72.6 897.0) rotate(-90)" font-size="27.7" text-anchor="middle">FHFP</text>
<clipPath id="cpDa"><rect x="93.2" y="551.2" width="426.8" height="195.4"/></clipPath>
<g clip-path="url(#cpDa)">
<rect x="93.2" y="551.2" width="426.8" height="195.4" fill="#6c6c6c"/>
<rect x="93.2" y="551.2" width="426.8" height="195.4" filter="url(#semA)"/>
<ellipse cx="274" cy="642" rx="14" ry="19" fill="#2a2a2a" opacity="0.7" filter="url(#dblur4)"/>
<ellipse cx="186" cy="564" rx="13" ry="8" fill="#2a2a2a" opacity="0.7" filter="url(#dblur4)"/>
<ellipse cx="300" cy="561" rx="15" ry="7" fill="#2a2a2a" opacity="0.7" filter="url(#dblur4)"/>
<ellipse cx="103" cy="630" rx="10" ry="13" fill="#2a2a2a" opacity="0.7" filter="url(#dblur4)"/>
<ellipse cx="111" cy="683" rx="17" ry="10" fill="#2a2a2a" opacity="0.7" filter="url(#dblur4)"/>
<ellipse cx="209" cy="615" rx="12" ry="13" fill="#2a2a2a" opacity="0.7" filter="url(#dblur4)"/>
<ellipse cx="428" cy="632" rx="10" ry="17" fill="#2a2a2a" opacity="0.7" filter="url(#dblur4)"/>
<ellipse cx="493" cy="640" rx="13" ry="16" fill="#2a2a2a" opacity="0.7" filter="url(#dblur4)"/>
<ellipse cx="364" cy="737" rx="10" ry="8" fill="#2a2a2a" opacity="0.7" filter="url(#dblur4)"/>
<ellipse cx="238" cy="668" rx="8" ry="12" fill="#2a2a2a" opacity="0.7" filter="url(#dblur4)"/>
<ellipse cx="160" cy="652" rx="9" ry="12" fill="#2a2a2a" opacity="0.7" filter="url(#dblur4)"/>
<ellipse cx="455" cy="585" rx="8" ry="12" fill="#2a2a2a" opacity="0.7" filter="url(#dblur4)"/>
<ellipse cx="250" cy="600" rx="10" ry="8" fill="#2a2a2a" opacity="0.7" filter="url(#dblur4)"/>
<path d="M289 638L302 630L327 615L330 594L355 583L383 566L404 558L421 596L404 615L395 645L376 668L340 677L315 660L304 645Z" fill="#8a8a8a" opacity="0.9" filter="url(#dblur2)"/>
<path d="M289 638L302 630L327 615L330 594L355 583L383 566L404 558" fill="none" stroke="#c4c4c4" stroke-width="1.6" opacity="0.8" filter="url(#dblur2)"/>
<ellipse cx="135" cy="620" rx="10" ry="22" transform="rotate(-25 135 620)" fill="#8e8e8e" opacity="0.7" filter="url(#dblur4)"/>
<ellipse cx="240" cy="640" rx="12" ry="20" transform="rotate(20 240 640)" fill="#8e8e8e" opacity="0.7" filter="url(#dblur4)"/>
<ellipse cx="200" cy="700" rx="16" ry="12" transform="rotate(0 200 700)" fill="#8e8e8e" opacity="0.7" filter="url(#dblur4)"/>
<ellipse cx="440" cy="690" rx="22" ry="14" transform="rotate(-10 440 690)" fill="#8e8e8e" opacity="0.7" filter="url(#dblur4)"/>
<ellipse cx="465" cy="640" rx="14" ry="20" transform="rotate(10 465 640)" fill="#8e8e8e" opacity="0.7" filter="url(#dblur4)"/>
<ellipse cx="225" cy="585" rx="12" ry="10" transform="rotate(0 225 585)" fill="#8e8e8e" opacity="0.7" filter="url(#dblur4)"/>
<ellipse cx="350" cy="715" rx="10" ry="14" transform="rotate(0 350 715)" fill="#8e8e8e" opacity="0.7" filter="url(#dblur4)"/>
<ellipse cx="150" cy="730" rx="12" ry="8" transform="rotate(0 150 730)" fill="#8e8e8e" opacity="0.7" filter="url(#dblur4)"/>
<ellipse cx="500" cy="610" rx="9" ry="8" transform="rotate(0 500 610)" fill="#8e8e8e" opacity="0.7" filter="url(#dblur4)"/>
<path d="M500 611L520 607L520 618L501 619Z" fill="#d4d4d4" filter="url(#dblur2)"/>
</g>
<line x1="382.5" y1="717.0" x2="427.7" y2="717.0" stroke="#fff" stroke-width="3"/>
<text x="448.7" y="726.0" font-size="21.3" fill="#fff">1 µm</text>
<clipPath id="cpDb"><rect x="94.0" y="800.8" width="426.0" height="196.9"/></clipPath>
<g clip-path="url(#cpDb)">
<rect x="93.2" y="800.8" width="426.8" height="196.9" fill="#6f6f6f"/>
<rect x="93.2" y="800.8" width="426.8" height="196.9" filter="url(#semB)"/>
<ellipse cx="330" cy="925" rx="150" ry="28" fill="#606060" opacity="0.55" filter="url(#dblur)"/>
<ellipse cx="150" cy="860" rx="70" ry="40" fill="#868686" opacity="0.5" filter="url(#dblur)"/>
<ellipse cx="420" cy="840" rx="90" ry="22" fill="#808080" opacity="0.45" filter="url(#dblur)"/>
<ellipse cx="460" cy="960" rx="60" ry="22" fill="#7e7e7e" opacity="0.45" filter="url(#dblur)"/>
<ellipse cx="176" cy="852" rx="6" ry="8" fill="#a6a6a6" opacity="0.8" filter="url(#dblur2)"/>
<ellipse cx="131" cy="867" rx="6" ry="10" fill="#a6a6a6" opacity="0.8" filter="url(#dblur2)"/>
<ellipse cx="210" cy="870" rx="5" ry="5" fill="#a6a6a6" opacity="0.8" filter="url(#dblur2)"/>
<ellipse cx="213" cy="901" rx="11" ry="9" fill="#a6a6a6" opacity="0.8" filter="url(#dblur2)"/>
<ellipse cx="226" cy="893" rx="5" ry="5" fill="#a6a6a6" opacity="0.8" filter="url(#dblur2)"/>
<ellipse cx="245" cy="918" rx="4" ry="4" fill="#a6a6a6" opacity="0.8" filter="url(#dblur2)"/>
<ellipse cx="139" cy="936" rx="4" ry="5" fill="#a6a6a6" opacity="0.8" filter="url(#dblur2)"/>
<ellipse cx="100" cy="951" rx="5" ry="7" fill="#a6a6a6" opacity="0.8" filter="url(#dblur2)"/>
<ellipse cx="334" cy="986" rx="7" ry="7" fill="#a6a6a6" opacity="0.8" filter="url(#dblur2)"/>
<ellipse cx="318" cy="805" rx="5" ry="4" fill="#a6a6a6" opacity="0.8" filter="url(#dblur2)"/>
<ellipse cx="105" cy="812" rx="7" ry="6" fill="#a6a6a6" opacity="0.8" filter="url(#dblur2)"/>
<ellipse cx="382" cy="840" rx="4" ry="4" fill="#a6a6a6" opacity="0.8" filter="url(#dblur2)"/>
<ellipse cx="150" cy="975" rx="8" ry="6" fill="#a6a6a6" opacity="0.8" filter="url(#dblur2)"/>
<ellipse cx="115" cy="965" rx="7" ry="7" fill="#a6a6a6" opacity="0.8" filter="url(#dblur2)"/>
<ellipse cx="425" cy="962" rx="6" ry="5" fill="#a6a6a6" opacity="0.8" filter="url(#dblur2)"/>
<ellipse cx="505" cy="925" rx="6" ry="6" fill="#a6a6a6" opacity="0.8" filter="url(#dblur2)"/>
<ellipse cx="470" cy="865" rx="5" ry="4" fill="#a6a6a6" opacity="0.8" filter="url(#dblur2)"/>
</g>
<line x1="382.5" y1="969.3" x2="427.7" y2="969.3" stroke="#fff" stroke-width="3"/>
<text x="448.7" y="977.7" font-size="21.3" fill="#fff">1 µm</text>
</g>
<g id="panel_e">
<text transform="translate(572.6 552.0) scale(1.1 1)" font-size="36.8" font-weight="bold">e</text>
<rect x="703.5" y="601.6" width="71.8" height="353.2" fill="#8AADA6" stroke="#000" stroke-width="1.4"/>
<rect x="846.2" y="776.0" width="72.4" height="178.8" fill="#F99274" stroke="#000" stroke-width="1.4"/>
<line x1="669.2" y1="544.6" x2="669.2" y2="955.4" stroke="#1a1a1a" stroke-width="1.5"/>
<line x1="668.6" y1="954.8" x2="954.6" y2="954.8" stroke="#1a1a1a" stroke-width="1.5"/>
<line x1="660.0" y1="545.2" x2="669.2" y2="545.2" stroke="#1a1a1a" stroke-width="1.5"/>
<text x="651.0" y="553.0" font-size="22.4" text-anchor="end">0.8</text>
<line x1="660.0" y1="647.6" x2="669.2" y2="647.6" stroke="#1a1a1a" stroke-width="1.5"/>
<text x="651.0" y="655.4" font-size="22.4" text-anchor="end">0.6</text>
<line x1="660.0" y1="750.0" x2="669.2" y2="750.0" stroke="#1a1a1a" stroke-width="1.5"/>
<text x="651.0" y="757.8" font-size="22.4" text-anchor="end">0.4</text>
<line x1="660.0" y1="852.4" x2="669.2" y2="852.4" stroke="#1a1a1a" stroke-width="1.5"/>
<text x="651.0" y="860.2" font-size="22.4" text-anchor="end">0.2</text>
<line x1="660.0" y1="954.8" x2="669.2" y2="954.8" stroke="#1a1a1a" stroke-width="1.5"/>
<text x="651.0" y="962.6" font-size="22.4" text-anchor="end">0.0</text>
<text x="740.7" y="589.0" font-size="27.7" text-anchor="middle">0.69</text>
<text x="883.0" y="762.4" font-size="27.7" text-anchor="middle">0.35</text>
<text x="737.4" y="996.7" font-size="27.7" text-anchor="middle">Baseline</text>
<text x="882.4" y="996.7" font-size="27.7" text-anchor="middle">FHFP</text>
<text transform="translate(602.0 750.0) rotate(-90)" font-size="27.7" text-anchor="middle">Content of Mn (%)</text>
</g>
<g id="panel_f">
<text transform="translate(935.3 552.0) scale(1.12 1)" font-size="38.5" font-weight="bold">f</text>
<text transform="translate(991.5 653.0) rotate(-90)" font-size="27.7" text-anchor="middle">Baseline</text>
<text transform="translate(991.5 882.5) rotate(-90)" font-size="27.7" text-anchor="middle">FHFP</text>
<clipPath id="cpT1"><rect x="1015.0" y="549.0" width="200.0" height="197.8"/></clipPath>
<g clip-path="url(#cpT1)">
<rect x="1015.0" y="549.0" width="200.0" height="197.8" fill="#5b5854"/>
<path d="M1085.5 549.0L1094.5 549.0L1092.0 746.8L1082.0 746.8Z" fill="#3e3c3a" opacity="0.45" filter="url(#blur3)"/>
<rect x="1015.0" y="549.0" width="31.5" height="197.8" fill="#4b3b39"/>
<clipPath id="spT1"><path d="M1044.5 549.0L1044.3 563.1L1042.9 577.3L1044.3 591.4L1043.8 605.5L1042.3 619.6L1042.3 633.8L1040.8 647.9L1040.4 662.0L1040.1 676.2L1040.7 690.3L1039.1 704.4L1040.5 718.5L1037.9 732.7L1038.5 746.8L1082.0 746.8L1082.5 732.7L1081.4 718.5L1083.1 704.4L1084.1 690.3L1083.1 676.2L1084.3 662.0L1083.7 647.9L1084.6 633.8L1085.0 619.6L1083.8 605.5L1083.3 591.4L1084.5 577.3L1084.0 563.1L1085.5 549.0Z" fill="#fff"/></clipPath>
<path d="M1041.3 549.0L1041.1 563.1L1039.7 577.3L1041.1 591.4L1040.6 605.5L1039.1 619.6L1039.1 633.8L1037.6 647.9L1037.2 662.0L1036.9 676.2L1037.5 690.3L1035.9 704.4L1037.3 718.5L1034.7 732.7L1035.3 746.8L1039.5 746.8L1038.9 732.7L1041.5 718.5L1040.1 704.4L1041.7 690.3L1041.1 676.2L1041.4 662.0L1041.8 647.9L1043.3 633.8L1043.3 619.6L1044.8 605.5L1045.3 591.4L1043.9 577.3L1045.3 563.1L1045.5 549.0Z" fill="#b9b59c"/>
<path d="M1044.5 549.0L1044.3 563.1L1042.9 577.3L1044.3 591.4L1043.8 605.5L1042.3 619.6L1042.3 633.8L1040.8 647.9L1040.4 662.0L1040.1 676.2L1040.7 690.3L1039.1 704.4L1040.5 718.5L1037.9 732.7L1038.5 746.8L1082.0 746.8L1082.5 732.7L1081.4 718.5L1083.1 704.4L1084.1 690.3L1083.1 676.2L1084.3 662.0L1083.7 647.9L1084.6 633.8L1085.0 619.6L1083.8 605.5L1083.3 591.4L1084.5 577.3L1084.0 563.1L1085.5 549.0Z" fill="#f3f3f4"/>
<g clip-path="url(#spT1)"><rect x="1036.5" y="549.0" width="51.0" height="197.8" filter="url(#speck)"/>
<rect x="1036.5" y="549.0" width="51.0" height="197.8" filter="url(#speck2)" opacity="0.8"/>
<path d="M1056.0 549.0L1071.0 549.0L1067.5 746.8L1050.0 746.8Z" fill="#ffffff" opacity="0.3" filter="url(#blur3)"/>
</g>
<rect x="1015.0" y="549.0" width="200.0" height="197.8" filter="url(#grain)" opacity="0.10"/>
</g>
<clipPath id="cpT2"><rect x="1220.0" y="549.0" width="198.8" height="197.8"/></clipPath>
<g clip-path="url(#cpT2)">
<rect x="1220.0" y="549.0" width="198.8" height="197.8" fill="#5d5b58"/>
<ellipse cx="1330" cy="640" rx="12" ry="80" fill="#6a6866" opacity="0.5" filter="url(#blur12)"/>
<path d="M1288.0 549.0L1297.0 549.0L1302.0 746.8L1292.0 746.8Z" fill="#3e3c3a" opacity="0.45" filter="url(#blur3)"/>
<rect x="1220.0" y="549.0" width="28.0" height="197.8" fill="url(#cu)"/>
<rect x="1220.0" y="549.0" width="28.0" height="197.8" fill="url(#cuh)"/>
<clipPath id="spT2"><path d="M1243.0 549.0L1242.4 563.1L1243.7 577.3L1242.9 591.4L1244.4 605.5L1244.3 619.6L1244.0 633.8L1244.8 647.9L1244.9 662.0L1243.8 676.2L1245.2 690.3L1245.6 704.4L1245.6 718.5L1246.7 732.7L1246.0 746.8L1292.0 746.8L1292.0 732.7L1291.4 718.5L1290.2 704.4L1290.9 690.3L1289.2 676.2L1291.3 662.0L1289.8 647.9L1291.1 633.8L1290.0 619.6L1288.2 605.5L1288.6 591.4L1289.0 577.3L1289.1 563.1L1288.0 549.0Z" fill="#fff"/></clipPath>
<path d="M1239.8 549.0L1239.2 563.1L1240.5 577.3L1239.7 591.4L1241.2 605.5L1241.1 619.6L1240.8 633.8L1241.6 647.9L1241.7 662.0L1240.6 676.2L1242.0 690.3L1242.4 704.4L1242.4 718.5L1243.5 732.7L1242.8 746.8L1247.0 746.8L1247.7 732.7L1246.6 718.5L1246.6 704.4L1246.2 690.3L1244.8 676.2L1245.9 662.0L1245.8 647.9L1245.0 633.8L1245.3 619.6L1245.4 605.5L1243.9 591.4L1244.7 577.3L1243.4 563.1L1244.0 549.0Z" fill="#b9b59c"/>
<path d="M1243.0 549.0L1242.4 563.1L1243.7 577.3L1242.9 591.4L1244.4 605.5L1244.3 619.6L1244.0 633.8L1244.8 647.9L1244.9 662.0L1243.8 676.2L1245.2 690.3L1245.6 704.4L1245.6 718.5L1246.7 732.7L1246.0 746.8L1292.0 746.8L1292.0 732.7L1291.4 718.5L1290.2 704.4L1290.9 690.3L1289.2 676.2L1291.3 662.0L1289.8 647.9L1291.1 633.8L1290.0 619.6L1288.2 605.5L1288.6 591.4L1289.0 577.3L1289.1 563.1L1288.0 549.0Z" fill="#f3f3f4"/>
<g clip-path="url(#spT2)"><rect x="1241.0" y="549.0" width="53.0" height="197.8" filter="url(#speck)"/>
<path d="M1256.5 549.0L1271.5 549.0L1275.5 746.8L1259.5 746.8Z" fill="#ffffff" opacity="0.6" filter="url(#blur3)"/>
</g>
<clipPath id="bl31"><path d="M1303.2 641.0L1302.9 643.7L1302.0 646.3L1300.1 648.6L1297.3 648.8L1294.7 648.7L1292.2 648.0L1289.6 646.7L1289.0 643.7L1287.6 641.0L1288.2 638.0L1290.3 635.9L1292.0 633.6L1294.6 632.7L1297.4 632.8L1300.4 632.9L1301.6 636.0L1302.8 638.4Z" fill="#fff"/></clipPath><path d="M1303.2 641.0L1302.9 643.7L1302.0 646.3L1300.1 648.6L1297.3 648.8L1294.7 648.7L1292.2 648.0L1289.6 646.7L1289.0 643.7L1287.6 641.0L1288.2 638.0L1290.3 635.9L1292.0 633.6L1294.6 632.7L1297.4 632.8L1300.4 632.9L1301.6 636.0L1302.8 638.4Z" fill="url(#blobg)"/><g clip-path="url(#bl31)"><rect x="1285.0" y="629.5" width="22.0" height="23.0" filter="url(#speckw)" opacity="0.75"/><rect x="1285.0" y="629.5" width="22.0" height="23.0" filter="url(#speck)" opacity="0.45"/></g>
<rect x="1220.0" y="549.0" width="198.8" height="197.8" filter="url(#grain)" opacity="0.10"/>
</g>
<clipPath id="cpT3"><rect x="1425.2" y="549.0" width="197.7" height="197.8"/></clipPath>
<g clip-path="url(#cpT3)">
<rect x="1425.2" y="549.0" width="197.7" height="197.8" fill="#605f60"/>
<ellipse cx="1522" cy="640" rx="16" ry="90" fill="#75747a" opacity="0.75" filter="url(#blur12)"/>
<path d="M1489.5 549.0L1498.5 549.0L1505.5 746.8L1495.5 746.8Z" fill="#3e3c3a" opacity="0.45" filter="url(#blur3)"/>
<rect x="1425.2" y="549.0" width="27.8" height="197.8" fill="url(#cu)"/>
<rect x="1425.2" y="549.0" width="27.8" height="197.8" fill="url(#cuh)"/>
<clipPath id="spT3"><path d="M1446.0 549.0L1447.5 563.1L1446.6 577.3L1447.6 591.4L1448.0 605.5L1447.1 619.6L1447.1 633.8L1448.7 647.9L1447.9 662.0L1448.9 676.2L1450.5 690.3L1450.8 704.4L1449.4 718.5L1449.6 732.7L1451.0 746.8L1495.5 746.8L1496.3 732.7L1493.4 718.5L1493.7 704.4L1494.6 690.3L1494.0 676.2L1493.3 662.0L1493.5 647.9L1492.4 633.8L1492.5 619.6L1490.4 605.5L1491.1 591.4L1491.4 577.3L1488.7 563.1L1489.5 549.0Z" fill="#fff"/></clipPath>
<path d="M1442.8 549.0L1444.3 563.1L1443.4 577.3L1444.4 591.4L1444.8 605.5L1443.9 619.6L1443.9 633.8L1445.5 647.9L1444.7 662.0L1445.7 676.2L1447.3 690.3L1447.6 704.4L1446.2 718.5L1446.4 732.7L1447.8 746.8L1452.0 746.8L1450.6 732.7L1450.4 718.5L1451.8 704.4L1451.5 690.3L1449.9 676.2L1448.9 662.0L1449.7 647.9L1448.1 633.8L1448.1 619.6L1449.0 605.5L1448.6 591.4L1447.6 577.3L1448.5 563.1L1447.0 549.0Z" fill="#b9b59c"/>
<path d="M1446.0 549.0L1447.5 563.1L1446.6 577.3L1447.6 591.4L1448.0 605.5L1447.1 619.6L1447.1 633.8L1448.7 647.9L1447.9 662.0L1448.9 676.2L1450.5 690.3L1450.8 704.4L1449.4 718.5L1449.6 732.7L1451.0 746.8L1495.5 746.8L1496.3 732.7L1493.4 718.5L1493.7 704.4L1494.6 690.3L1494.0 676.2L1493.3 662.0L1493.5 647.9L1492.4 633.8L1492.5 619.6L1490.4 605.5L1491.1 591.4L1491.4 577.3L1488.7 563.1L1489.5 549.0Z" fill="#f3f3f4"/>
<g clip-path="url(#spT3)"><rect x="1444.0" y="549.0" width="53.5" height="197.8" filter="url(#speck)"/>
<path d="M1458.8 549.0L1473.8 549.0L1479.8 746.8L1463.8 746.8Z" fill="#ffffff" opacity="0.6" filter="url(#blur3)"/>
</g>
<clipPath id="bl32"><path d="M1513.4 653.3L1513.0 658.1L1511.1 662.6L1508.5 667.3L1503.8 668.1L1499.1 668.7L1495.5 665.3L1491.5 663.0L1488.4 658.8L1488.4 653.3L1488.2 647.7L1490.8 642.9L1495.2 640.6L1499.5 640.0L1503.9 637.8L1507.5 641.3L1510.5 644.6L1514.3 647.9Z" fill="#fff"/></clipPath><path d="M1513.4 653.3L1513.0 658.1L1511.1 662.6L1508.5 667.3L1503.8 668.1L1499.1 668.7L1495.5 665.3L1491.5 663.0L1488.4 658.8L1488.4 653.3L1488.2 647.7L1490.8 642.9L1495.2 640.6L1499.5 640.0L1503.9 637.8L1507.5 641.3L1510.5 644.6L1514.3 647.9Z" fill="url(#blobg)"/><g clip-path="url(#bl32)"><rect x="1485.5" y="635.3" width="32.0" height="36.0" filter="url(#speckw)" opacity="0.75"/><rect x="1485.5" y="635.3" width="32.0" height="36.0" filter="url(#speck)" opacity="0.45"/></g>
<rect x="1425.2" y="549.0" width="197.7" height="197.8" filter="url(#grain)" opacity="0.10"/>
</g>
<clipPath id="cpT4"><rect x="1629.2" y="549.0" width="197.6" height="197.8"/></clipPath>
<g clip-path="url(#cpT4)">
<rect x="1629.2" y="549.0" width="197.6" height="197.8" fill="#646366"/>
<ellipse cx="1750" cy="610" rx="22" ry="70" fill="#7f7e84" opacity="0.85" filter="url(#blur12)"/>
<ellipse cx="1790" cy="700" rx="25" ry="40" fill="#77767c" opacity="0.6" filter="url(#blur12)"/>
<ellipse cx="1730" cy="720" rx="14" ry="30" fill="#77767c" opacity="0.5" filter="url(#blur12)"/>
<path d="M1699.6 549.0L1708.6 549.0L1716.0 746.8L1706.0 746.8Z" fill="#3e3c3a" opacity="0.45" filter="url(#blur3)"/>
<rect x="1629.2" y="549.0" width="34.8" height="197.8" fill="url(#cu)"/>
<rect x="1629.2" y="549.0" width="34.8" height="197.8" fill="url(#cuh)"/>
<clipPath id="spT4"><path d="M1655.0 549.0L1656.6 563.1L1656.9 577.3L1657.1 591.4L1656.3 605.5L1657.1 619.6L1658.5 633.8L1659.2 647.9L1657.8 662.0L1658.7 676.2L1660.9 690.3L1659.6 704.4L1661.4 718.5L1661.1 732.7L1662.0 746.8L1706.0 746.8L1707.0 732.7L1705.6 718.5L1703.3 704.4L1702.9 690.3L1705.1 676.2L1702.2 662.0L1703.4 647.9L1701.8 633.8L1701.8 619.6L1700.3 605.5L1701.2 591.4L1699.3 577.3L1699.7 563.1L1699.6 549.0Z" fill="#fff"/></clipPath>
<path d="M1651.8 549.0L1653.4 563.1L1653.7 577.3L1653.9 591.4L1653.1 605.5L1653.9 619.6L1655.3 633.8L1656.0 647.9L1654.6 662.0L1655.5 676.2L1657.7 690.3L1656.4 704.4L1658.2 718.5L1657.9 732.7L1658.8 746.8L1663.0 746.8L1662.1 732.7L1662.4 718.5L1660.6 704.4L1661.9 690.3L1659.7 676.2L1658.8 662.0L1660.2 647.9L1659.5 633.8L1658.1 619.6L1657.3 605.5L1658.1 591.4L1657.9 577.3L1657.6 563.1L1656.0 549.0Z" fill="#b9b59c"/>
<path d="M1655.0 549.0L1656.6 563.1L1656.9 577.3L1657.1 591.4L1656.3 605.5L1657.1 619.6L1658.5 633.8L1659.2 647.9L1657.8 662.0L1658.7 676.2L1660.9 690.3L1659.6 704.4L1661.4 718.5L1661.1 732.7L1662.0 746.8L1706.0 746.8L1707.0 732.7L1705.6 718.5L1703.3 704.4L1702.9 690.3L1705.1 676.2L1702.2 662.0L1703.4 647.9L1701.8 633.8L1701.8 619.6L1700.3 605.5L1701.2 591.4L1699.3 577.3L1699.7 563.1L1699.6 549.0Z" fill="#f3f3f4"/>
<g clip-path="url(#spT4)"><rect x="1653.0" y="549.0" width="55.0" height="197.8" filter="url(#speck)"/>
<path d="M1668.3 549.0L1683.3 549.0L1689.7 746.8L1675.3 746.8Z" fill="#ffffff" opacity="0.6" filter="url(#blur3)"/>
</g>
<clipPath id="bl33"><path d="M1732.3 641.0L1731.3 649.8L1728.1 658.1L1721.0 661.7L1714.8 666.4L1707.1 667.5L1699.6 664.4L1695.9 656.1L1690.7 649.8L1689.5 641.0L1691.3 632.4L1693.4 623.4L1700.4 619.2L1707.4 616.6L1715.0 614.2L1721.8 618.8L1726.4 625.6L1730.0 632.8Z" fill="#fff"/></clipPath><path d="M1732.3 641.0L1731.3 649.8L1728.1 658.1L1721.0 661.7L1714.8 666.4L1707.1 667.5L1699.6 664.4L1695.9 656.1L1690.7 649.8L1689.5 641.0L1691.3 632.4L1693.4 623.4L1700.4 619.2L1707.4 616.6L1715.0 614.2L1721.8 618.8L1726.4 625.6L1730.0 632.8Z" fill="url(#blobg)"/><g clip-path="url(#bl33)"><rect x="1687.0" y="613.0" width="48.0" height="56.0" filter="url(#speckw)" opacity="0.75"/><rect x="1687.0" y="613.0" width="48.0" height="56.0" filter="url(#speck)" opacity="0.45"/></g>
<clipPath id="bl34"><path d="M1748.1 660.0L1747.2 665.9L1744.9 671.7L1740.2 675.9L1734.2 678.0L1728.1 676.3L1721.7 676.0L1718.2 670.8L1715.6 665.6L1715.4 660.0L1715.0 654.2L1718.9 649.8L1722.9 645.9L1728.0 642.9L1734.1 642.3L1739.9 644.5L1742.9 650.0L1745.6 654.7Z" fill="#fff"/></clipPath><path d="M1748.1 660.0L1747.2 665.9L1744.9 671.7L1740.2 675.9L1734.2 678.0L1728.1 676.3L1721.7 676.0L1718.2 670.8L1715.6 665.6L1715.4 660.0L1715.0 654.2L1718.9 649.8L1722.9 645.9L1728.0 642.9L1734.1 642.3L1739.9 644.5L1742.9 650.0L1745.6 654.7Z" fill="url(#blobg)"/><g clip-path="url(#bl34)"><rect x="1711.0" y="640.0" width="40.0" height="40.0" filter="url(#speckw)" opacity="0.75"/><rect x="1711.0" y="640.0" width="40.0" height="40.0" filter="url(#speck)" opacity="0.45"/></g>
<rect x="1629.2" y="549.0" width="197.6" height="197.8" filter="url(#grain)" opacity="0.10"/>
</g>
<clipPath id="cpT5"><rect x="1833.4" y="549.0" width="198.5" height="197.8"/></clipPath>
<g clip-path="url(#cpT5)">
<rect x="1833.4" y="549.0" width="198.5" height="197.8" fill="#666568"/>
<ellipse cx="1958" cy="592" rx="30" ry="32" fill="#8a8990" opacity="0.85" filter="url(#blur12)"/>
<ellipse cx="1985" cy="670" rx="22" ry="50" fill="#7c7b82" opacity="0.7" filter="url(#blur12)"/>
<ellipse cx="1930" cy="585" rx="12" ry="28" fill="#7c7b82" opacity="0.6" filter="url(#blur12)"/>
<ellipse cx="1990" cy="735" rx="30" ry="14" fill="#7a7980" opacity="0.6" filter="url(#blur12)"/>
<path d="M1902.5 549.0L1911.5 549.0L1917.5 746.8L1907.5 746.8Z" fill="#3e3c3a" opacity="0.45" filter="url(#blur3)"/>
<rect x="1833.4" y="549.0" width="36.6" height="197.8" fill="url(#cu)"/>
<rect x="1833.4" y="549.0" width="36.6" height="197.8" fill="url(#cuh)"/>
<clipPath id="spT5"><path d="M1861.0 549.0L1862.4 563.1L1861.6 577.3L1863.2 591.4L1864.1 605.5L1863.0 619.6L1864.6 633.8L1864.1 647.9L1864.2 662.0L1865.1 676.2L1866.6 690.3L1865.7 704.4L1867.4 718.5L1867.1 732.7L1868.0 746.8L1907.5 746.8L1907.7 732.7L1908.2 718.5L1905.6 704.4L1906.8 690.3L1904.5 676.2L1905.4 662.0L1906.4 647.9L1903.8 633.8L1905.3 619.6L1903.9 605.5L1903.7 591.4L1903.9 577.3L1902.7 563.1L1902.5 549.0Z" fill="#fff"/></clipPath>
<path d="M1857.8 549.0L1859.2 563.1L1858.4 577.3L1860.0 591.4L1860.9 605.5L1859.8 619.6L1861.4 633.8L1860.9 647.9L1861.0 662.0L1861.9 676.2L1863.4 690.3L1862.5 704.4L1864.2 718.5L1863.9 732.7L1864.8 746.8L1869.0 746.8L1868.1 732.7L1868.4 718.5L1866.7 704.4L1867.6 690.3L1866.1 676.2L1865.2 662.0L1865.1 647.9L1865.6 633.8L1864.0 619.6L1865.1 605.5L1864.2 591.4L1862.6 577.3L1863.4 563.1L1862.0 549.0Z" fill="#b9b59c"/>
<path d="M1861.0 549.0L1862.4 563.1L1861.6 577.3L1863.2 591.4L1864.1 605.5L1863.0 619.6L1864.6 633.8L1864.1 647.9L1864.2 662.0L1865.1 676.2L1866.6 690.3L1865.7 704.4L1867.4 718.5L1867.1 732.7L1868.0 746.8L1907.5 746.8L1907.7 732.7L1908.2 718.5L1905.6 704.4L1906.8 690.3L1904.5 676.2L1905.4 662.0L1906.4 647.9L1903.8 633.8L1905.3 619.6L1903.9 605.5L1903.7 591.4L1903.9 577.3L1902.7 563.1L1902.5 549.0Z" fill="#f3f3f4"/>
<g clip-path="url(#spT5)"><rect x="1859.0" y="549.0" width="50.5" height="197.8" filter="url(#speck)"/>
<path d="M1872.8 549.0L1887.8 549.0L1892.8 746.8L1879.8 746.8Z" fill="#ffffff" opacity="0.6" filter="url(#blur3)"/>
</g>
<clipPath id="bl35"><path d="M1936.2 645.0L1935.7 654.7L1931.7 663.2L1925.8 670.1L1917.7 670.5L1909.8 674.1L1902.9 668.7L1896.3 663.2L1892.3 654.7L1890.1 645.0L1894.3 636.2L1897.6 628.1L1902.5 620.6L1910.1 618.0L1918.0 617.1L1924.7 622.3L1932.4 626.1L1932.7 636.7Z" fill="#fff"/></clipPath><path d="M1936.2 645.0L1935.7 654.7L1931.7 663.2L1925.8 670.1L1917.7 670.5L1909.8 674.1L1902.9 668.7L1896.3 663.2L1892.3 654.7L1890.1 645.0L1894.3 636.2L1897.6 628.1L1902.5 620.6L1910.1 618.0L1918.0 617.1L1924.7 622.3L1932.4 626.1L1932.7 636.7Z" fill="url(#blobg)"/><g clip-path="url(#bl35)"><rect x="1889.0" y="615.0" width="50.0" height="60.0" filter="url(#speckw)" opacity="0.75"/><rect x="1889.0" y="615.0" width="50.0" height="60.0" filter="url(#speck)" opacity="0.45"/></g>
<clipPath id="bl36"><path d="M1964.1 685.0L1965.8 691.6L1960.9 697.3L1953.5 701.4L1944.6 703.2L1935.3 703.5L1928.7 698.6L1920.4 696.5L1917.7 690.7L1913.8 685.0L1916.8 679.1L1920.6 673.6L1927.4 669.7L1935.6 667.5L1944.6 666.6L1953.7 668.4L1958.6 674.1L1964.9 678.6Z" fill="#fff"/></clipPath><path d="M1964.1 685.0L1965.8 691.6L1960.9 697.3L1953.5 701.4L1944.6 703.2L1935.3 703.5L1928.7 698.6L1920.4 696.5L1917.7 690.7L1913.8 685.0L1916.8 679.1L1920.6 673.6L1927.4 669.7L1935.6 667.5L1944.6 666.6L1953.7 668.4L1958.6 674.1L1964.9 678.6Z" fill="url(#blobg)"/><g clip-path="url(#bl36)"><rect x="1912.0" y="664.5" width="56.0" height="41.0" filter="url(#speckw)" opacity="0.75"/><rect x="1912.0" y="664.5" width="56.0" height="41.0" filter="url(#speck)" opacity="0.45"/></g>
<rect x="1833.4" y="549.0" width="198.5" height="197.8" filter="url(#grain)" opacity="0.10"/>
</g>
<text x="1135.7" y="582.7" font-size="22.4" fill="#fff">0 min</text>
<line x1="1139.0" y1="693.5" x2="1190.0" y2="693.5" stroke="#fff" stroke-width="2.4"/>
<text x="1129.0" y="733.4" font-size="22.4" fill="#fff">300 µm</text>
<text x="1338.9" y="582.4" font-size="22.4" fill="#fff">5 min</text>
<text x="1371.0" y="684.7" font-size="17.2" text-anchor="middle" fill="#fff">Dendrite</text>
<text x="1371.0" y="705.0" font-size="17.2" text-anchor="middle" fill="#fff">growth</text>
<text x="1605.5" y="579.5" font-size="22.4" text-anchor="end" fill="#fff">10 min</text>
<text x="1813.8" y="582.8" font-size="22.4" text-anchor="end" fill="#fff">20 min</text>
<text x="2016.7" y="582.8" font-size="22.4" text-anchor="end" fill="#fff">30 min</text>
<text x="1888.2" y="673.3" font-size="22.4">430 µm</text>
<text x="1965.0" y="719.6" font-size="17.2" text-anchor="middle" fill="#fff">Sever dendrite</text>
<clipPath id="cpB1"><rect x="1016.0" y="797.0" width="199.0" height="199.7"/></clipPath>
<g clip-path="url(#cpB1)">
<rect x="1016.0" y="797.0" width="199.0" height="199.7" fill="#686a61"/>
<ellipse cx="1150" cy="880" rx="40" ry="120" fill="#71736a" opacity="0.7" filter="url(#blur12)"/>
<path d="M1082.0 797.0L1090.0 797.0L1097.0 996.7L1088.0 996.7Z" fill="#3c3d38" opacity="0.5" filter="url(#blur3)"/>
<rect x="1016.0" y="797.0" width="24.3" height="199.7" fill="#2c2622"/>
<ellipse cx="1016" cy="974.7" rx="5" ry="24" fill="#8a4a36" opacity="0.85" filter="url(#blur3)"/>
<clipPath id="spB1"><path d="M1035.3 797.0L1035.4 811.3L1036.1 825.5L1035.9 839.8L1036.1 854.1L1036.1 868.3L1036.8 882.6L1036.5 896.9L1037.6 911.1L1036.9 925.4L1038.0 939.6L1037.2 953.9L1037.8 968.2L1038.1 982.4L1038.3 996.7L1088.0 996.7L1088.0 982.4L1088.2 968.2L1086.0 953.9L1086.7 939.6L1086.6 925.4L1084.7 911.1L1086.1 896.9L1084.3 882.6L1084.8 868.3L1084.4 854.1L1084.1 839.8L1082.7 825.5L1082.4 811.3L1082.0 797.0Z" fill="#fff"/></clipPath>
<path d="M1035.3 797.0L1035.4 811.3L1036.1 825.5L1035.9 839.8L1036.1 854.1L1036.1 868.3L1036.8 882.6L1036.5 896.9L1037.6 911.1L1036.9 925.4L1038.0 939.6L1037.2 953.9L1037.8 968.2L1038.1 982.4L1038.3 996.7L1088.0 996.7L1088.0 982.4L1088.2 968.2L1086.0 953.9L1086.7 939.6L1086.6 925.4L1084.7 911.1L1086.1 896.9L1084.3 882.6L1084.8 868.3L1084.4 854.1L1084.1 839.8L1082.7 825.5L1082.4 811.3L1082.0 797.0Z" fill="#675e54"/>
<g clip-path="url(#spB1)">
<rect x="1033.3" y="797.0" width="56.7" height="199.7" filter="url(#streak)" opacity="0.22"/>
<rect x="1033.3" y="797.0" width="56.7" height="199.7" filter="url(#streakh)" opacity="0.13"/>
<path d="M1035.3 797.0L1040.3 797.0L1043.3 996.7L1038.3 996.7Z" fill="#8a8478" opacity="0.45"/>
<path d="M1076.0 797.0L1076.4 811.3L1076.7 825.5L1078.1 839.8L1078.4 854.1L1078.8 868.3L1078.3 882.6L1080.1 896.9L1078.7 911.1L1080.6 925.4L1080.7 939.6L1080.0 953.9L1082.2 968.2L1082.0 982.4L1082.0 996.7L1086.5 996.7L1086.5 982.4L1086.7 968.2L1084.5 953.9L1085.2 939.6L1085.1 925.4L1083.2 911.1L1084.6 896.9L1082.8 882.6L1083.3 868.3L1082.9 854.1L1082.6 839.8L1081.2 825.5L1080.9 811.3L1080.5 797.0Z" fill="#d8d4c8" opacity="0.42" filter="url(#blur1)"/>
<g opacity="0.9"><rect x="1066.0" y="797.0" width="26.0" height="199.7" filter="url(#streakw)" opacity="0.7"/></g>
</g>
<rect x="1016.0" y="797.0" width="199.0" height="199.7" filter="url(#grain)" opacity="0.08"/>
</g>
<clipPath id="cpB2"><rect x="1221.0" y="797.0" width="197.9" height="199.7"/></clipPath>
<g clip-path="url(#cpB2)">
<rect x="1221.0" y="797.0" width="197.9" height="199.7" fill="#63655d"/>
<ellipse cx="1345" cy="880" rx="35" ry="120" fill="#6c6e66" opacity="0.7" filter="url(#blur12)"/>
<path d="M1285.3 797.0L1293.3 797.0L1300.4 996.7L1291.4 996.7Z" fill="#3c3d38" opacity="0.5" filter="url(#blur3)"/>
<rect x="1221.0" y="797.0" width="23.8" height="199.7" fill="#2b2927"/>
<clipPath id="spB2"><path d="M1238.7 797.0L1239.6 811.3L1239.3 825.5L1239.6 839.8L1239.8 854.1L1239.8 868.3L1239.9 882.6L1240.6 896.9L1241.0 911.1L1241.7 925.4L1241.4 939.6L1242.5 953.9L1241.7 968.2L1242.7 982.4L1242.8 996.7L1291.4 996.7L1290.9 982.4L1290.8 968.2L1290.7 953.9L1288.9 939.6L1290.0 925.4L1289.2 911.1L1288.1 896.9L1287.7 882.6L1287.6 868.3L1286.8 854.1L1286.9 839.8L1285.2 825.5L1286.5 811.3L1285.3 797.0Z" fill="#fff"/></clipPath>
<path d="M1238.7 797.0L1239.6 811.3L1239.3 825.5L1239.6 839.8L1239.8 854.1L1239.8 868.3L1239.9 882.6L1240.6 896.9L1241.0 911.1L1241.7 925.4L1241.4 939.6L1242.5 953.9L1241.7 968.2L1242.7 982.4L1242.8 996.7L1291.4 996.7L1290.9 982.4L1290.8 968.2L1290.7 953.9L1288.9 939.6L1290.0 925.4L1289.2 911.1L1288.1 896.9L1287.7 882.6L1287.6 868.3L1286.8 854.1L1286.9 839.8L1285.2 825.5L1286.5 811.3L1285.3 797.0Z" fill="#5e5a55"/>
<g clip-path="url(#spB2)">
<rect x="1236.7" y="797.0" width="56.7" height="199.7" filter="url(#streak)" opacity="0.22"/>
<rect x="1236.7" y="797.0" width="56.7" height="199.7" filter="url(#streakh)" opacity="0.13"/>
<path d="M1238.7 797.0L1243.7 797.0L1247.8 996.7L1242.8 996.7Z" fill="#8a8478" opacity="0.45"/>
<path d="M1279.3 797.0L1280.5 811.3L1279.2 825.5L1280.9 839.8L1280.8 854.1L1281.6 868.3L1281.7 882.6L1282.1 896.9L1283.2 911.1L1284.0 925.4L1282.9 939.6L1284.7 953.9L1284.8 968.2L1284.9 982.4L1285.4 996.7L1289.9 996.7L1289.4 982.4L1289.3 968.2L1289.2 953.9L1287.4 939.6L1288.5 925.4L1287.7 911.1L1286.6 896.9L1286.2 882.6L1286.1 868.3L1285.3 854.1L1285.4 839.8L1283.7 825.5L1285.0 811.3L1283.8 797.0Z" fill="#b8c0d0" opacity="0.42" filter="url(#blur1)"/>
<g opacity="0.9"><rect x="1269.3" y="797.0" width="26.1" height="199.7" filter="url(#streakw)" opacity="0.7"/></g>
</g>
<rect x="1221.0" y="797.0" width="197.9" height="199.7" filter="url(#grain)" opacity="0.08"/>
</g>
<clipPath id="cpB3"><rect x="1425.4" y="797.0" width="197.5" height="199.7"/></clipPath>
<g clip-path="url(#cpB3)">
<rect x="1425.4" y="797.0" width="197.5" height="199.7" fill="#686a63"/>
<ellipse cx="1550" cy="880" rx="35" ry="120" fill="#72746c" opacity="0.7" filter="url(#blur12)"/>
<path d="M1492.0 797.0L1500.0 797.0L1507.0 996.7L1498.0 996.7Z" fill="#3c3d38" opacity="0.5" filter="url(#blur3)"/>
<rect x="1425.4" y="797.0" width="23.6" height="199.7" fill="#2a2a2a"/>
<clipPath id="spB3"><path d="M1443.0 797.0L1442.7 811.3L1444.1 825.5L1443.5 839.8L1444.7 854.1L1445.0 868.3L1444.4 882.6L1445.0 896.9L1445.2 911.1L1445.5 925.4L1446.2 939.6L1446.5 953.9L1446.1 968.2L1446.8 982.4L1447.0 996.7L1498.0 996.7L1497.3 982.4L1498.1 968.2L1497.3 953.9L1497.1 939.6L1496.8 925.4L1496.6 911.1L1494.9 896.9L1495.1 882.6L1495.3 868.3L1494.7 854.1L1494.0 839.8L1492.5 825.5L1491.8 811.3L1492.0 797.0Z" fill="#fff"/></clipPath>
<path d="M1443.0 797.0L1442.7 811.3L1444.1 825.5L1443.5 839.8L1444.7 854.1L1445.0 868.3L1444.4 882.6L1445.0 896.9L1445.2 911.1L1445.5 925.4L1446.2 939.6L1446.5 953.9L1446.1 968.2L1446.8 982.4L1447.0 996.7L1498.0 996.7L1497.3 982.4L1498.1 968.2L1497.3 953.9L1497.1 939.6L1496.8 925.4L1496.6 911.1L1494.9 896.9L1495.1 882.6L1495.3 868.3L1494.7 854.1L1494.0 839.8L1492.5 825.5L1491.8 811.3L1492.0 797.0Z" fill="#5c6066"/>
<g clip-path="url(#spB3)">
<rect x="1441.0" y="797.0" width="59.0" height="199.7" filter="url(#streak)" opacity="0.22"/>
<rect x="1441.0" y="797.0" width="59.0" height="199.7" filter="url(#streakh)" opacity="0.13"/>
<path d="M1443.0 797.0L1448.0 797.0L1452.0 996.7L1447.0 996.7Z" fill="#8a8478" opacity="0.45"/>
<path d="M1486.0 797.0L1485.8 811.3L1486.5 825.5L1488.0 839.8L1488.7 854.1L1489.3 868.3L1489.1 882.6L1488.9 896.9L1490.6 911.1L1490.8 925.4L1491.1 939.6L1491.3 953.9L1492.1 968.2L1491.3 982.4L1492.0 996.7L1496.5 996.7L1495.8 982.4L1496.6 968.2L1495.8 953.9L1495.6 939.6L1495.3 925.4L1495.1 911.1L1493.4 896.9L1493.6 882.6L1493.8 868.3L1493.2 854.1L1492.5 839.8L1491.0 825.5L1490.3 811.3L1490.5 797.0Z" fill="#9aa8c0" opacity="0.42" filter="url(#blur1)"/>
<g opacity="0.9"><rect x="1476.0" y="797.0" width="26.0" height="199.7" filter="url(#streakw)" opacity="0.7"/></g>
</g>
<rect x="1425.4" y="797.0" width="197.5" height="199.7" filter="url(#grain)" opacity="0.08"/>
</g>
<clipPath id="cpB4"><rect x="1628.3" y="797.0" width="198.5" height="199.7"/></clipPath>
<g clip-path="url(#cpB4)">
<rect x="1628.3" y="797.0" width="198.5" height="199.7" fill="#686a63"/>
<ellipse cx="1750" cy="880" rx="35" ry="120" fill="#72746c" opacity="0.7" filter="url(#blur12)"/>
<path d="M1695.0 797.0L1703.0 797.0L1710.0 996.7L1701.0 996.7Z" fill="#3c3d38" opacity="0.5" filter="url(#blur3)"/>
<rect x="1628.3" y="797.0" width="22.7" height="199.7" fill="#2a2a2a"/>
<clipPath id="spB4"><path d="M1645.0 797.0L1644.8 811.3L1645.5 825.5L1646.3 839.8L1646.1 854.1L1646.1 868.3L1646.9 882.6L1646.8 896.9L1647.4 911.1L1647.2 925.4L1648.2 939.6L1647.6 953.9L1648.2 968.2L1649.2 982.4L1649.0 996.7L1701.0 996.7L1699.8 982.4L1700.2 968.2L1699.7 953.9L1699.7 939.6L1699.8 925.4L1697.5 911.1L1697.8 896.9L1697.2 882.6L1697.4 868.3L1695.7 854.1L1695.1 839.8L1695.6 825.5L1694.4 811.3L1695.0 797.0Z" fill="#fff"/></clipPath>
<path d="M1645.0 797.0L1644.8 811.3L1645.5 825.5L1646.3 839.8L1646.1 854.1L1646.1 868.3L1646.9 882.6L1646.8 896.9L1647.4 911.1L1647.2 925.4L1648.2 939.6L1647.6 953.9L1648.2 968.2L1649.2 982.4L1649.0 996.7L1701.0 996.7L1699.8 982.4L1700.2 968.2L1699.7 953.9L1699.7 939.6L1699.8 925.4L1697.5 911.1L1697.8 896.9L1697.2 882.6L1697.4 868.3L1695.7 854.1L1695.1 839.8L1695.6 825.5L1694.4 811.3L1695.0 797.0Z" fill="#5b5f64"/>
<g clip-path="url(#spB4)">
<rect x="1643.0" y="797.0" width="60.0" height="199.7" filter="url(#streak)" opacity="0.22"/>
<rect x="1643.0" y="797.0" width="60.0" height="199.7" filter="url(#streakh)" opacity="0.13"/>
<path d="M1645.0 797.0L1650.0 797.0L1654.0 996.7L1649.0 996.7Z" fill="#8a8478" opacity="0.45"/>
<path d="M1689.0 797.0L1688.4 811.3L1689.6 825.5L1689.1 839.8L1689.7 854.1L1691.4 868.3L1691.2 882.6L1691.8 896.9L1691.5 911.1L1693.8 925.4L1693.7 939.6L1693.7 953.9L1694.2 968.2L1693.8 982.4L1695.0 996.7L1699.5 996.7L1698.3 982.4L1698.7 968.2L1698.2 953.9L1698.2 939.6L1698.3 925.4L1696.0 911.1L1696.3 896.9L1695.7 882.6L1695.9 868.3L1694.2 854.1L1693.6 839.8L1694.1 825.5L1692.9 811.3L1693.5 797.0Z" fill="#9aa8c0" opacity="0.42" filter="url(#blur1)"/>
<g opacity="0.9"><rect x="1679.0" y="797.0" width="26.0" height="199.7" filter="url(#streakw)" opacity="0.7"/></g>
</g>
<rect x="1628.3" y="797.0" width="198.5" height="199.7" filter="url(#grain)" opacity="0.08"/>
</g>
<clipPath id="cpB5"><rect x="1832.2" y="797.0" width="199.7" height="199.7"/></clipPath>
<g clip-path="url(#cpB5)">
<rect x="1832.2" y="797.0" width="199.7" height="199.7" fill="#62645e"/>
<ellipse cx="1960" cy="880" rx="35" ry="120" fill="#6a6c66" opacity="0.6" filter="url(#blur12)"/>
<path d="M1903.0 797.0L1911.0 797.0L1917.0 996.7L1908.0 996.7Z" fill="#3c3d38" opacity="0.5" filter="url(#blur3)"/>
<rect x="1832.2" y="797.0" width="25.8" height="199.7" fill="#2a2a2c"/>
<clipPath id="spB5"><path d="M1852.0 797.0L1851.9 811.3L1852.7 825.5L1853.0 839.8L1852.9 854.1L1853.0 868.3L1854.0 882.6L1854.1 896.9L1853.9 911.1L1854.7 925.4L1855.1 939.6L1855.4 953.9L1855.8 968.2L1856.3 982.4L1856.0 996.7L1908.0 996.7L1907.2 982.4L1906.6 968.2L1906.3 953.9L1906.8 939.6L1906.0 925.4L1904.9 911.1L1905.9 896.9L1905.4 882.6L1905.6 868.3L1905.2 854.1L1904.6 839.8L1904.8 825.5L1902.3 811.3L1903.0 797.0Z" fill="#fff"/></clipPath>
<path d="M1852.0 797.0L1851.9 811.3L1852.7 825.5L1853.0 839.8L1852.9 854.1L1853.0 868.3L1854.0 882.6L1854.1 896.9L1853.9 911.1L1854.7 925.4L1855.1 939.6L1855.4 953.9L1855.8 968.2L1856.3 982.4L1856.0 996.7L1908.0 996.7L1907.2 982.4L1906.6 968.2L1906.3 953.9L1906.8 939.6L1906.0 925.4L1904.9 911.1L1905.9 896.9L1905.4 882.6L1905.6 868.3L1905.2 854.1L1904.6 839.8L1904.8 825.5L1902.3 811.3L1903.0 797.0Z" fill="#585c62"/>
<g clip-path="url(#spB5)">
<rect x="1850.0" y="797.0" width="60.0" height="199.7" filter="url(#streak)" opacity="0.22"/>
<rect x="1850.0" y="797.0" width="60.0" height="199.7" filter="url(#streakh)" opacity="0.13"/>
<path d="M1852.0 797.0L1857.0 797.0L1861.0 996.7L1856.0 996.7Z" fill="#8a8478" opacity="0.45"/>
<path d="M1897.0 797.0L1896.3 811.3L1898.8 825.5L1898.6 839.8L1899.2 854.1L1899.6 868.3L1899.4 882.6L1899.9 896.9L1898.9 911.1L1900.0 925.4L1900.8 939.6L1900.3 953.9L1900.6 968.2L1901.2 982.4L1902.0 996.7L1906.5 996.7L1905.7 982.4L1905.1 968.2L1904.8 953.9L1905.3 939.6L1904.5 925.4L1903.4 911.1L1904.4 896.9L1903.9 882.6L1904.1 868.3L1903.7 854.1L1903.1 839.8L1903.3 825.5L1900.8 811.3L1901.5 797.0Z" fill="#909cb4" opacity="0.42" filter="url(#blur1)"/>
<g opacity="0.9"><rect x="1887.0" y="797.0" width="25.0" height="199.7" filter="url(#streakw)" opacity="0.7"/></g>
</g>
<rect x="1832.2" y="797.0" width="199.7" height="199.7" filter="url(#grain)" opacity="0.08"/>
</g>
<text x="1133.9" y="828.6" font-size="22.4" fill="#fff">0 min</text>
<line x1="1141.5" y1="940.2" x2="1190.6" y2="940.2" stroke="#fff" stroke-width="2.4"/>
<text x="1129.0" y="979.3" font-size="22.4" fill="#fff">300 µm</text>
<text x="1337.5" y="828.6" font-size="22.4" fill="#fff">5 min</text>
<text x="1373.0" y="909.8" font-size="17.2" text-anchor="middle" fill="#fff">FHFP</text>
<text x="1373.0" y="930.5" font-size="17.2" text-anchor="middle" fill="#fff">derived</text>
<text x="1609.9" y="829.6" font-size="22.4" text-anchor="end" fill="#fff">10 min</text>
<text x="1814.7" y="829.6" font-size="22.4" text-anchor="end" fill="#fff">20 min</text>
<text x="2012.6" y="829.6" font-size="22.4" text-anchor="end" fill="#fff">30 min</text>
<text x="1966.0" y="910.0" font-size="17.2" text-anchor="middle" fill="#fff">No dendrite</text>
<text x="1966.0" y="931.5" font-size="17.2" text-anchor="middle" fill="#fff">growth</text>
</g>
<g id="panel_g">
<text transform="translate(3.4 1066.0) scale(1.12 1)" font-size="36.8" font-weight="bold">g</text>
<clipPath id="cpG"><rect x="93.9" y="1061.4" width="1936.1" height="404.9"/></clipPath>
<g clip-path="url(#cpG)" fill="none" stroke-linejoin="round">
<path d="M93.9 1056.9L94.2 1117.7L94.8 1151.5L95.7 1169.6L96.6 1183.1L96.9 1219.1L98.3 1258.6L99.0 1230.4L99.8 1216.9L100.0 1178.6L100.1 1176.3L103.0 1175.2L103.1 1216.9L106.0 1218.0L106.2 1176.3L109.0 1175.2L109.2 1216.9L112.1 1218.0L112.2 1176.3L115.1 1175.2L115.2 1216.9L118.1 1218.0L118.3 1176.3L121.1 1175.2L121.3 1216.9L124.2 1218.0L124.3 1176.3L127.2 1175.2L127.3 1216.9L130.2 1218.0L130.4 1176.3L133.2 1175.2L133.4 1216.9L136.3 1218.0L139.4 1185.2L140.8 1184.2L142.2 1183.2L142.5 1208.0L143.8 1209.0L145.3 1210.0L145.5 1185.5L146.8 1184.4L148.3 1183.5L148.5 1207.7L149.9 1208.8L151.3 1209.7L151.5 1185.9L152.9 1184.9L154.3 1184.0L154.6 1207.3L155.9 1208.3L157.4 1209.2L157.6 1185.2L158.9 1184.2L160.4 1183.2L160.6 1208.0L162.0 1209.0L163.4 1210.0L163.6 1186.3L165.0 1185.3L166.4 1184.5L166.7 1206.9L168.0 1207.9L169.5 1208.7L169.7 1185.9L171.0 1184.9L172.5 1184.0L172.7 1207.3L174.1 1208.3L175.5 1209.2L175.7 1185.6L177.1 1184.6L178.5 1183.7L178.8 1207.6L180.1 1208.6L181.6 1209.5L181.8 1186.6L183.1 1185.7L184.6 1184.9L184.8 1206.6L186.2 1207.5L187.6 1208.3L187.8 1186.3L189.2 1185.3L190.6 1184.5L190.9 1206.9L192.2 1207.9L193.7 1208.7L193.9 1186.4L195.2 1185.4L196.7 1184.6L196.9 1206.8L198.3 1207.8L199.7 1208.6L199.9 1187.1L201.3 1186.2L202.7 1185.4L203.0 1206.1L204.3 1207.0L205.8 1207.8L206.0 1186.9L207.3 1186.0L208.8 1185.2L209.0 1206.3L210.4 1207.2L211.8 1208.0L212.0 1186.8L213.4 1185.8L214.8 1185.0L215.1 1206.4L216.4 1207.4L217.9 1208.2L218.1 1187.1L219.4 1186.2L220.9 1185.4L221.1 1206.1L222.5 1207.0L223.9 1207.8L224.1 1186.9L225.5 1186.0L226.9 1185.2L227.2 1206.3L228.5 1207.2L230.0 1208.0L230.2 1187.5L231.5 1186.6L233.0 1185.9L233.2 1205.7L234.6 1206.6L236.0 1207.3L236.2 1187.5L237.6 1186.6L239.0 1185.9L239.3 1205.7L240.6 1206.6L242.1 1207.3L242.3 1187.7L243.6 1186.8L245.1 1186.1L245.3 1205.5L246.7 1206.4L248.1 1207.1L248.3 1187.4L249.7 1186.5L251.1 1185.7L251.4 1205.8L252.7 1206.7L254.2 1207.5L254.4 1187.1L255.7 1186.2L257.2 1185.4L257.4 1206.1L258.8 1207.0L260.2 1207.8L260.4 1187.4L261.8 1186.6L263.2 1185.8L263.5 1205.8L264.8 1206.6L266.3 1207.4L266.5 1187.3L267.8 1186.4L269.3 1185.7L269.5 1205.9L270.9 1206.8L272.3 1207.5L272.5 1187.7L273.9 1186.9L275.3 1186.2L275.6 1205.5L276.9 1206.3L278.4 1207.0L278.6 1187.5L279.9 1186.6L281.4 1185.9L281.6 1205.7L283.0 1206.6L284.4 1207.3L284.6 1188.1L286.0 1187.3L287.4 1186.6L287.7 1205.1L289.0 1205.9L290.5 1206.6L290.7 1188.0L292.0 1187.2L293.5 1186.5L293.7 1205.2L295.1 1206.0L296.5 1206.7L296.7 1187.7L298.1 1186.9L299.6 1186.2L299.8 1205.5L301.1 1206.3L302.6 1207.0L302.8 1187.8L304.1 1186.9L305.6 1186.2L305.8 1205.4L307.2 1206.3L308.6 1207.0L308.8 1188.1L310.2 1187.3L311.7 1186.6L311.9 1205.1L313.2 1205.9L314.7 1206.6L314.9 1188.4L316.2 1187.7L317.7 1187.0L317.9 1204.8L319.3 1205.5L320.7 1206.2L320.9 1188.3L322.3 1187.6L323.8 1186.9L324.0 1204.9L325.3 1205.6L326.8 1206.3L327.0 1188.4L328.3 1187.7L329.8 1187.0L330.0 1204.8L331.4 1205.5L332.8 1206.2L333.0 1188.5L334.4 1187.7L335.9 1187.0L336.1 1204.7L337.4 1205.5L338.9 1206.2L339.1 1188.1L340.5 1187.3L341.9 1186.6L342.1 1205.1L343.5 1205.9L344.9 1206.6L345.1 1188.6L346.5 1187.9L348.0 1187.2L348.2 1204.6L349.5 1205.3L351.0 1206.0L351.2 1188.1L352.6 1187.3L354.0 1186.7L354.2 1205.1L355.6 1205.9L357.0 1206.5L357.2 1188.2L358.6 1187.4L360.1 1186.7L360.3 1205.0L361.6 1205.8L363.1 1206.5L363.3 1188.9L364.7 1188.2L366.1 1187.6L366.3 1204.3L367.7 1205.0L369.1 1205.6L369.3 1188.7L370.7 1188.0L372.2 1187.4L372.4 1204.5L373.7 1205.2L375.2 1205.8L375.4 1188.7L376.8 1188.0L378.2 1187.3L378.4 1204.5L379.8 1205.2L381.2 1205.9L381.4 1189.2L382.8 1188.5L384.3 1187.8L384.5 1204.0L385.8 1204.7L387.3 1205.4L387.5 1188.9L388.9 1188.2L390.3 1187.5L390.5 1204.3L391.9 1205.0L393.3 1205.7L393.5 1188.6L394.9 1187.8L396.4 1187.2L396.6 1204.6L397.9 1205.4L399.4 1206.0L399.6 1189.2L401.0 1188.5L402.4 1187.9L402.6 1204.0L404.0 1204.7L405.4 1205.3L405.6 1188.8L407.0 1188.1L408.5 1187.5L408.7 1204.4L410.0 1205.1L411.5 1205.7L411.7 1189.2L413.1 1188.5L414.5 1187.9L414.7 1204.0L416.1 1204.7L417.5 1205.3L417.7 1188.8L419.1 1188.1L420.6 1187.5L420.8 1204.4L422.1 1205.1L423.6 1205.7L423.8 1188.6L425.2 1187.8L426.6 1187.2L426.8 1204.6L428.2 1205.4L429.6 1206.0L429.8 1189.1L431.2 1188.4L432.7 1187.8L432.9 1204.1L434.2 1204.8L435.7 1205.4L435.9 1189.2L437.3 1188.6L438.7 1187.9L438.9 1204.0L440.3 1204.6L441.7 1205.3L441.9 1189.2L443.3 1188.5L444.8 1187.9L445.0 1204.0L446.3 1204.7L447.8 1205.3L448.0 1188.8L449.4 1188.1L450.8 1187.4L451.0 1204.4L452.4 1205.1L453.8 1205.8L454.0 1189.2L455.4 1188.5L456.9 1187.9L457.1 1204.0L458.4 1204.7L459.9 1205.3L460.1 1189.1L461.5 1188.4L462.9 1187.8L463.1 1204.1L464.5 1204.8L465.9 1205.4L466.1 1188.8L467.5 1188.1L469.0 1187.4L469.2 1204.4L470.5 1205.1L472.0 1205.8L472.2 1188.5L473.6 1187.7L475.0 1187.0L475.2 1204.7L476.6 1205.5L478.0 1206.2L478.2 1188.8L479.6 1188.1L481.1 1187.5L481.3 1204.4L482.6 1205.1L484.1 1205.7L484.3 1188.9L485.7 1188.1L487.1 1187.5L487.3 1204.3L488.7 1205.1L490.1 1205.7L490.3 1188.7L491.7 1187.9L493.2 1187.2L493.4 1204.5L494.7 1205.3L496.2 1206.0L496.4 1189.1L497.8 1188.4L499.2 1187.7L499.4 1204.1L500.8 1204.8L502.2 1205.5L502.4 1188.7L503.8 1187.9L505.3 1187.3L505.5 1204.5L506.8 1205.3L508.3 1205.9L508.5 1189.0L509.9 1188.3L511.3 1187.6L511.5 1204.2L512.9 1204.9L514.3 1205.6L514.5 1188.6L515.9 1187.9L517.4 1187.2L517.6 1204.6L518.9 1205.3L520.4 1206.0L520.6 1188.3L522.0 1187.6L523.4 1186.9L523.6 1204.9L525.0 1205.6L526.4 1206.3L526.6 1189.0L528.0 1188.3L529.5 1187.7L529.7 1204.2L531.0 1204.9L532.5 1205.5L532.7 1188.6L534.1 1187.9L535.5 1187.2L535.7 1204.6L537.1 1205.3L538.5 1206.0L538.7 1188.6L540.1 1187.8L541.6 1187.2L541.8 1204.6L543.1 1205.4L544.6 1206.0L544.8 1188.9L546.2 1188.2L547.6 1187.6L547.8 1204.3L549.2 1205.0L550.6 1205.6L550.8 1188.8L552.2 1188.1L553.7 1187.5L553.9 1204.4L555.2 1205.1L556.7 1205.7L556.9 1188.2L558.3 1187.5L559.7 1186.8L559.9 1205.0L561.3 1205.7L562.7 1206.4L563.0 1188.2L564.3 1187.4L565.8 1186.7L566.0 1205.0L567.3 1205.8L568.8 1206.5L569.0 1188.9L570.4 1188.2L571.8 1187.6L572.0 1204.3L573.4 1205.0L574.8 1205.6L575.1 1188.4L576.4 1187.7L577.9 1187.0L578.1 1204.8L579.4 1205.5L580.9 1206.2L581.1 1188.2L582.5 1187.4L583.9 1186.7L584.1 1205.0L585.5 1205.8L586.9 1206.5L587.2 1188.8L588.5 1188.1L590.0 1187.4L590.2 1204.4L591.5 1205.1L593.0 1205.8L593.2 1188.5L594.6 1187.7L596.0 1187.0L596.2 1204.7L597.6 1205.5L599.0 1206.2L599.3 1188.9L600.6 1188.2L602.1 1187.6L602.3 1204.3L603.6 1205.0L605.1 1205.6L605.3 1188.7L606.7 1187.9L608.1 1187.2L608.3 1204.5L609.7 1205.3L611.1 1206.0L611.4 1188.4L612.7 1187.6L614.2 1186.9L614.4 1204.8L615.7 1205.6L617.2 1206.3L617.4 1188.4L618.8 1187.7L620.2 1187.0L620.4 1204.8L621.8 1205.5L623.2 1206.2L623.5 1188.3L624.8 1187.5L626.3 1186.8L626.5 1204.9L627.8 1205.7L629.3 1206.4L629.5 1188.8L630.9 1188.1L632.3 1187.5L632.5 1204.4L633.9 1205.1L635.3 1205.7L635.6 1188.6L636.9 1187.9L638.4 1187.2L638.6 1204.6L639.9 1205.3L641.4 1206.0L641.6 1188.2L643.0 1187.4L644.4 1186.7L644.6 1205.0L646.0 1205.8L647.4 1206.5L647.7 1188.4L649.0 1187.6L650.5 1186.9L650.7 1204.8L652.0 1205.6L653.5 1206.3L653.7 1188.5L655.1 1187.7L656.5 1187.1L656.7 1204.7L658.1 1205.5L659.5 1206.1L659.8 1188.5L661.1 1187.8L662.6 1187.1L662.8 1204.7L664.1 1205.4L665.6 1206.1L665.8 1188.0L667.2 1187.2L668.6 1186.5L668.8 1205.2L670.2 1206.0L671.6 1206.7L671.9 1188.4L673.2 1187.6L674.7 1186.9L674.9 1204.8L676.2 1205.6L677.7 1206.3L677.9 1188.8L679.3 1188.1L680.7 1187.4L680.9 1204.4L682.3 1205.1L683.7 1205.8L684.0 1188.1L685.3 1187.4L686.8 1186.7L687.0 1205.1L688.3 1205.8L689.8 1206.5L690.0 1188.5L691.4 1187.8L692.8 1187.1L693.0 1204.7L694.4 1205.4L695.8 1206.1L696.1 1188.4L697.4 1187.7L698.9 1187.0L699.1 1204.8L700.4 1205.5L701.9 1206.2L702.1 1188.5L703.5 1187.8L704.9 1187.1L705.1 1204.7L706.5 1205.4L707.9 1206.1L708.2 1188.3L709.5 1187.5L711.0 1186.8L711.2 1204.9L712.5 1205.7L714.0 1206.4L714.2 1188.2L715.6 1187.5L717.0 1186.8L717.2 1205.0L718.6 1205.7L720.0 1206.4L720.3 1188.3L721.6 1187.6L723.1 1186.9L723.3 1204.9L724.6 1205.6L726.1 1206.3L726.3 1187.8L727.7 1186.9L729.1 1186.2L729.3 1205.4L730.7 1206.3L732.1 1207.0L732.4 1188.1L733.7 1187.3L735.2 1186.6L735.4 1205.1L736.7 1205.9L738.2 1206.6L738.4 1187.4L739.8 1186.5L741.2 1185.8L741.4 1205.8L742.8 1206.7L744.2 1207.4L744.5 1188.0L745.8 1187.2L747.3 1186.5L747.5 1205.2L748.8 1206.0L750.3 1206.7L750.5 1187.2L751.9 1186.3L753.3 1185.5L753.5 1206.0L754.9 1206.9L756.3 1207.7L756.6 1187.1L757.9 1186.2L759.4 1185.4L759.6 1206.1L760.9 1207.0L762.4 1207.8L762.6 1187.2L764.0 1186.4L765.4 1185.6L765.6 1206.0L767.0 1206.8L768.4 1207.6L768.7 1186.9L770.0 1186.0L771.5 1185.2L771.7 1206.3L773.0 1207.2L774.5 1208.0L774.7 1187.3L776.1 1186.4L777.5 1185.6L777.7 1205.9L779.1 1206.8L780.5 1207.6L780.8 1186.6L782.1 1185.6L783.6 1184.8L783.8 1206.6L785.1 1207.6L786.6 1208.4L786.8 1186.7L788.2 1185.8L789.6 1184.9L789.8 1206.5L791.2 1207.4L792.7 1208.3L792.9 1186.7L794.2 1185.8L795.7 1184.9L795.9 1206.5L797.2 1207.4L798.7 1208.3L798.9 1185.7L800.3 1184.7L801.7 1183.8L801.9 1207.5L803.3 1208.5L804.8 1209.4L805.0 1186.1L806.3 1185.1L807.8 1184.3L808.0 1207.1L809.3 1208.1L810.8 1208.9L811.0 1185.9L812.4 1184.9L813.8 1184.1L814.0 1207.3L815.4 1208.3L816.9 1209.1L817.1 1185.2L818.4 1184.1L819.9 1183.2L820.1 1208.0L821.5 1209.1L822.9 1210.0L823.1 1185.5L824.5 1184.5L825.9 1183.5L826.1 1207.7L827.5 1208.7L829.0 1209.7L829.2 1184.9L830.5 1183.8L832.0 1182.8L832.2 1208.3L833.6 1209.4L835.0 1210.4L835.2 1185.2L836.6 1184.1L838.0 1183.2L838.2 1208.0L839.6 1209.1L841.1 1210.0L841.3 1184.1L842.6 1183.0L844.1 1181.9L844.3 1209.1L845.7 1210.2L847.1 1211.3L847.3 1184.6L848.7 1183.5L850.1 1182.5L850.3 1208.6L851.7 1209.7L853.2 1210.7L853.4 1184.6L854.7 1183.4L856.2 1182.5L856.4 1208.6L857.8 1209.8L859.2 1210.7L859.4 1183.1L860.8 1181.8L862.2 1180.7L862.4 1210.1L863.8 1211.4L865.3 1212.5L865.5 1183.9L866.8 1182.7L868.3 1181.6L868.5 1209.3L869.9 1210.5L871.3 1211.6L871.5 1182.5L872.9 1181.2L874.3 1180.1L874.5 1210.7L875.9 1212.0L877.4 1213.1L877.6 1182.2L878.9 1180.8L880.4 1179.6L880.6 1211.0L882.0 1212.4L883.4 1213.6L883.6 1182.4L885.0 1181.1L886.4 1179.9L886.6 1210.8L888.0 1212.1L889.5 1213.3L889.7 1183.0L891.0 1181.7L892.5 1180.6L892.7 1210.2L894.1 1211.5L895.5 1212.6L895.7 1182.6L897.1 1181.3L898.5 1180.2L898.7 1210.6L900.1 1211.9L901.6 1213.0L901.8 1182.1L903.1 1180.8L904.6 1179.6L904.8 1211.1L906.2 1212.4L907.6 1213.6L907.8 1181.6L909.2 1180.2L910.6 1178.9L910.8 1211.6L912.2 1213.0L913.7 1214.3L913.9 1180.8L915.2 1179.3L916.7 1178.0L916.9 1212.4L918.3 1213.9L919.7 1215.2L919.9 1179.7L921.3 1178.1L922.7 1176.7L922.9 1213.5L924.3 1215.1L925.8 1216.5L926.0 1180.1L927.3 1178.5L928.8 1177.2L929.0 1213.1L930.4 1214.7L931.8 1216.0L932.0 1179.9L933.4 1178.3L934.8 1176.9L935.0 1213.3L936.4 1214.9L937.9 1216.3L938.1 1178.6L939.4 1176.9L940.9 1175.4L941.1 1214.6L942.5 1216.3L943.9 1217.8L944.1 1178.8L945.5 1177.1L946.9 1175.6L947.1 1214.4L948.5 1216.1L950.0 1217.6L950.2 1178.3L951.5 1176.6L953.0 1175.1L953.2 1214.9L954.6 1216.6L956.0 1218.1L956.2 1176.9L957.6 1175.0L959.0 1173.4L959.2 1216.3L960.6 1218.2L962.1 1219.8L962.3 1176.0L963.6 1174.1L965.1 1172.4L965.3 1217.2L966.7 1219.1L968.1 1220.8L968.3 1176.7L969.7 1174.9L971.1 1173.2L971.3 1216.5L972.7 1218.3L974.2 1220.0L974.4 1175.2L975.7 1173.2L977.2 1171.4L977.4 1218.0L978.8 1220.0L980.2 1221.8L980.4 1173.8L981.8 1171.7L983.2 1169.8L983.4 1219.4L984.8 1221.5L986.3 1223.4L986.5 1172.8L987.8 1170.6L989.3 1168.6L989.5 1220.4L990.9 1222.6L992.3 1224.6L992.5 1172.9L993.9 1170.6L995.3 1168.7L995.5 1220.3L996.9 1222.6L998.4 1224.5L1003.3 1176.3L1004.7 1173.9L1005.6 1170.5L1006.1 1166.6L1006.3 1216.0L1007.7 1218.1L1008.6 1221.0L1009.1 1224.3L1009.4 1176.3L1010.8 1173.4L1011.7 1169.3L1012.3 1164.6L1012.4 1216.9L1013.9 1219.1L1014.8 1222.3L1015.3 1225.9L1015.6 1176.3L1017.0 1172.7L1017.9 1167.5L1018.4 1161.7L1018.6 1216.9L1020.0 1220.3L1020.9 1225.0L1021.4 1230.4L1021.7 1176.3L1023.1 1172.4L1024.0 1166.9L1024.6 1160.5L1024.7 1216.9L1026.2 1221.4L1027.1 1227.7L1027.6 1234.9L1027.9 1176.3L1029.3 1171.4L1030.2 1164.4L1030.7 1156.5L1030.9 1216.9L1032.3 1221.9L1033.2 1229.0L1033.7 1237.2L1034.0 1176.3L1035.4 1170.3L1036.3 1162.0L1036.8 1152.4L1037.0 1216.9L1038.4 1222.8L1039.4 1231.1L1039.9 1240.5L1040.1 1176.3L1041.6 1169.8L1042.5 1160.8L1043.0 1150.4L1043.2 1216.9L1044.6 1223.6L1045.5 1233.1L1046.0 1243.9L1046.3 1176.3L1047.7 1167.3L1048.6 1154.7L1049.1 1140.3L1049.3 1216.9L1050.7 1224.2L1051.6 1234.5L1052.2 1246.2L1052.4 1176.3L1053.9 1166.2L1054.8 1152.0L1055.3 1135.8L1055.5 1216.9L1056.9 1226.7L1057.8 1240.4L1058.3 1256.1L1058.6 1176.3L1060.0 1164.2L1060.9 1147.1L1061.4 1127.6L1061.6 1216.9L1063.0 1227.2L1063.9 1241.6L1064.5 1258.1L1064.7 1176.3L1066.2 1165.1L1067.1 1149.3L1067.6 1131.3L1067.8 1215.5L1069.2 1217.6L1070.1 1220.4L1070.6 1223.6L1071.9 1176.3L1073.3 1168.0L1074.2 1156.4L1074.7 1143.2L1074.9 1216.9L1076.4 1232.1L1077.3 1253.4L1077.8 1277.7L1078.1 1176.3L1079.5 1164.5L1080.4 1147.9L1080.9 1129.0L1081.1 1216.9L1082.5 1231.3L1083.4 1251.5L1083.9 1274.6L1085.2 1180.8L1086.6 1179.1L1087.6 1176.8L1088.1 1174.1L1088.2 1216.9L1089.7 1219.1L1090.6 1222.3L1091.1 1225.9L1091.4 1180.8L1092.8 1179.1L1093.7 1176.8L1094.2 1174.1L1094.4 1216.9L1095.8 1227.0L1096.7 1241.2L1097.2 1257.4L1097.5 1176.3L1098.9 1168.8L1099.8 1158.2L1100.4 1146.1L1100.5 1216.9L1102.0 1232.8L1102.9 1255.1L1103.4 1280.6L1102.6 1176.3L1104.1 1160.8L1105.0 1139.1L1105.5 1114.4L1105.7 1216.9L1107.1 1227.0L1108.0 1241.2L1108.5 1257.4L1108.8 1176.3L1110.2 1156.7L1111.1 1129.3L1111.6 1097.9L1111.8 1216.9L1113.2 1226.9L1114.1 1240.9L1114.7 1257.0L1115.5 1176.3L1117.0 1156.2L1117.9 1128.1L1118.4 1095.9L1118.6 1216.9L1120.0 1227.2L1120.9 1241.6L1121.4 1258.1L1122.1 1176.3L1123.5 1156.4L1124.4 1128.5L1124.9 1096.6L1125.1 1216.9L1126.5 1226.9L1127.5 1240.9L1128.0 1257.0L1128.2 1176.3L1129.7 1155.3L1130.6 1125.9L1131.1 1092.3L1131.3 1216.9L1132.7 1226.7L1133.6 1240.4L1134.1 1256.1L1134.4 1176.3L1135.8 1155.2L1136.7 1125.6L1137.2 1091.8L1137.4 1216.9L1138.8 1226.5L1139.7 1239.9L1140.3 1255.2L1141.2 1176.3L1142.6 1154.8L1143.5 1124.7L1144.0 1090.2L1144.2 1216.9L1145.6 1228.5L1146.5 1244.7L1147.0 1263.3L1147.7 1176.3L1149.1 1155.5L1150.0 1126.4L1150.6 1093.2L1150.7 1216.9L1152.2 1225.9L1153.1 1238.5L1153.6 1252.9L1153.9 1176.3L1155.3 1166.7L1156.2 1153.3L1156.7 1138.0L1156.9 1216.9L1158.3 1227.5L1159.2 1242.3L1159.7 1259.2L1160.0 1176.3L1161.4 1153.2L1162.3 1120.9L1162.8 1083.9L1163.0 1216.9L1164.5 1232.6L1165.4 1254.6L1165.9 1279.7L1166.2 1176.3L1167.6 1156.4L1168.5 1128.5L1169.0 1096.6L1169.2 1216.9L1170.6 1233.1L1171.5 1255.8L1172.0 1281.8L1172.9 1176.3L1174.3 1158.3L1175.2 1133.1L1175.8 1104.2L1175.9 1216.9L1177.4 1230.3L1178.3 1249.1L1178.8 1270.5L1179.1 1176.3L1180.5 1159.3L1181.4 1135.5L1181.9 1108.3L1182.1 1216.9L1183.5 1233.3L1184.4 1256.4L1184.9 1282.7L1186.6 1176.3L1188.1 1161.0L1189.0 1139.5L1189.5 1115.0L1189.7 1216.9L1191.1 1233.1L1192.0 1255.8L1192.5 1281.8L1192.8 1176.3L1194.2 1159.3L1195.1 1135.5L1195.6 1108.3L1195.8 1216.9L1197.2 1232.1L1198.1 1253.4L1198.7 1277.7L1198.9 1176.3L1200.4 1158.9L1201.3 1134.5L1201.8 1106.7L1202.0 1216.9L1203.4 1232.1L1204.3 1253.4L1204.8 1277.7L1206.1 1176.3L1207.5 1162.1L1208.4 1142.2L1208.9 1119.5L1209.1 1216.9L1210.6 1232.3L1211.5 1253.9L1212.0 1278.6L1212.3 1176.3L1213.7 1162.3L1214.6 1142.8L1215.1 1120.4L1215.3 1216.9L1216.7 1235.1L1217.6 1260.7L1218.1 1289.9L1218.4 1182.4L1219.8 1180.9L1220.7 1178.8L1221.2 1176.3L1221.4 1212.4L1222.8 1214.1L1223.8 1216.4L1224.3 1219.1L1224.1 1180.8L1225.6 1179.1L1226.5 1176.8L1227.0 1174.1L1227.2 1216.9L1228.6 1236.2L1229.5 1263.3L1230.0 1294.2L1229.7 1176.3L1231.1 1153.6L1232.0 1121.8L1232.5 1085.5L1232.7 1216.9L1234.1 1234.3L1235.0 1258.8L1235.5 1286.7L1236.8 1176.3L1238.3 1155.2L1239.2 1125.6L1239.7 1091.8L1239.9 1216.9L1241.3 1233.1L1242.2 1255.8L1242.7 1281.8L1242.0 1176.3L1243.4 1163.1L1244.3 1144.7L1244.8 1123.6L1245.0 1216.9L1246.4 1224.6L1247.3 1235.4L1247.8 1247.8L1248.1 1176.3L1249.5 1144.2L1250.4 1099.3L1251.0 1047.9L1251.1 1216.9L1252.6 1225.3L1253.5 1237.2L1254.0 1250.7L1254.3 1176.3L1255.7 1153.6L1256.6 1121.8L1257.1 1085.5L1257.3 1216.9L1258.7 1235.6L1259.6 1261.9L1260.1 1291.9L1261.4 1176.3L1262.8 1149.0L1263.8 1110.7L1264.3 1067.0L1264.5 1216.9L1265.9 1234.6L1266.8 1259.5L1267.3 1287.9L1267.6 1176.3L1269.0 1152.9L1269.9 1120.1L1270.4 1082.6L1270.6 1216.9L1272.0 1234.6L1272.9 1259.5L1273.4 1287.9L1273.7 1176.3L1275.1 1153.6L1276.0 1121.8L1276.6 1085.5L1276.7 1210.8L1278.2 1212.3L1279.1 1214.4L1279.6 1216.9L1279.9 1182.4L1281.3 1180.9L1282.2 1178.8L1282.7 1176.3L1282.9 1216.9L1284.3 1235.9L1285.2 1262.6L1285.7 1293.0L1286.4 1176.3L1287.8 1144.2L1288.8 1099.3L1289.3 1047.9L1289.4 1216.9L1290.9 1227.5L1291.8 1242.3L1292.3 1259.2L1294.2 1176.3L1295.6 1159.3L1296.5 1135.5L1297.1 1108.3L1297.2 1216.9L1298.7 1239.5L1299.6 1271.2L1300.1 1307.5L1299.9 1176.3L1301.4 1149.0L1302.3 1110.7L1302.8 1067.0L1303.0 1216.9L1304.4 1239.0L1305.3 1270.0L1305.8 1305.4L1305.5 1176.3L1306.9 1144.2L1307.8 1099.3L1308.3 1047.9L1308.5 1216.9L1309.9 1240.8L1310.8 1274.3L1311.3 1312.6L1311.6 1176.3L1313.0 1144.2L1314.0 1099.3L1314.5 1047.9L1314.6 1216.9L1316.1 1230.3L1317.0 1249.1L1317.5 1270.5L1317.8 1176.3L1319.2 1144.2L1320.1 1099.3L1320.6 1047.9L1320.8 1216.9L1322.2 1245.2L1323.1 1284.8L1323.6 1330.0L1324.9 1176.3L1326.4 1144.2L1327.3 1099.3L1327.8 1047.9L1328.0 1216.9L1329.4 1243.9L1330.3 1281.8L1330.8 1325.0L1330.7 1176.3L1332.1 1155.7L1333.0 1126.8L1333.5 1093.8L1333.7 1216.9L1335.1 1246.5L1336.0 1287.9L1336.5 1335.2L1336.8 1176.3L1338.2 1158.9L1339.2 1134.5L1339.7 1106.7L1339.8 1216.9L1341.3 1235.9L1342.2 1262.6L1342.7 1293.0L1343.4 1176.3L1344.8 1160.0L1345.7 1137.1L1346.2 1111.0L1346.4 1216.9L1347.8 1229.5L1348.7 1247.2L1349.2 1267.4L1349.5 1176.3L1350.9 1159.5L1351.9 1136.0L1352.4 1109.2L1352.6 1204.5L1354.0 1205.3L1354.9 1206.5L1355.4 1207.9L1355.5 1196.6" stroke="#97D8E8" stroke-width="2.4"/>
<path d="M1362.6 1201.1L1362.7 1266.5L1362.9 1201.1" stroke="#97D8E8" stroke-width="2.4"/>
<path d="M1378.6 1185.3L1380.0 1099.9L1380.2 1279.7L1380.4 1196.6" stroke="#97D8E8" stroke-width="2.4"/>
<path d="M1383.7 1185.3L1385.2 1077.4L1385.3 1218.0L1385.5 1196.6" stroke="#97D8E8" stroke-width="2.4"/>
<path d="M93.9 1056.9L94.3 1129.0L94.8 1178.6L95.7 1192.1L96.6 1203.4L100.0 1203.4L100.1 1183.1L101.0 1167.3L101.8 1185.3L103.0 1187.6L103.1 1204.5L106.6 1205.6L106.8 1189.8L109.9 1188.7L110.1 1206.7L112.4 1207.9L112.5 1183.1L113.4 1169.6L114.2 1185.3L115.4 1187.6L115.5 1204.5L119.0 1205.6L119.2 1189.8L122.3 1188.7L122.5 1206.7L124.8 1207.9L124.9 1183.1L125.8 1171.8L126.6 1185.3L127.8 1187.6L127.9 1204.5L131.4 1205.6L131.6 1189.8L134.7 1188.7L134.9 1206.7L137.2 1207.9L137.3 1210.1L138.1 1245.0L138.7 1156.6L139.3 1178.9L141.6 1180.5L141.8 1211.8L143.8 1213.5L144.5 1246.5L144.8 1156.9L145.4 1179.2L147.7 1180.8L147.8 1211.5L149.9 1213.2L150.6 1246.4L150.8 1158.5L151.4 1179.5L153.7 1181.1L153.9 1211.3L155.9 1212.9L156.6 1244.5L156.9 1162.9L157.5 1179.8L159.8 1181.4L159.9 1211.0L162.0 1212.6L162.7 1240.3L162.9 1160.4L163.5 1180.1L165.8 1181.6L166.0 1210.8L168.0 1212.3L168.7 1239.5L169.0 1162.0L169.6 1180.4L171.9 1181.9L172.0 1210.5L174.1 1212.0L174.8 1235.1L175.0 1165.0L175.6 1180.7L177.9 1182.2L178.1 1210.2L180.1 1211.8L180.8 1234.1L181.1 1166.0L181.7 1181.0L184.0 1182.5L184.1 1210.0L186.2 1211.5L186.9 1233.8L187.1 1169.2L187.7 1181.3L190.0 1182.7L190.2 1209.7L192.2 1211.2L192.9 1230.6L193.2 1169.5L193.8 1181.6L196.1 1183.0L196.2 1209.5L198.3 1210.9L199.0 1231.7L199.2 1169.3L199.8 1181.9L202.1 1183.3L202.3 1209.2L204.3 1210.6L205.0 1227.0L205.3 1169.7L205.9 1182.1L208.2 1183.5L208.3 1209.0L210.4 1210.4L211.1 1226.2L211.3 1170.8L211.9 1182.4L214.2 1183.7L214.4 1208.8L216.4 1210.2L217.1 1225.4L217.4 1173.1L218.0 1182.6L220.3 1183.9L220.4 1208.6L222.5 1209.9L223.2 1227.4L223.4 1173.0L224.0 1182.8L226.3 1184.1L226.5 1208.4L228.5 1209.7L229.2 1224.4L229.5 1171.2L230.1 1183.0L232.4 1184.3L232.5 1208.2L234.6 1209.5L235.3 1225.9L235.5 1173.7L236.1 1183.3L238.4 1184.5L238.6 1208.0L240.6 1209.3L241.3 1225.4L241.6 1173.5L242.2 1183.5L244.5 1184.7L244.6 1207.8L246.7 1209.1L247.4 1223.7L247.6 1174.9L248.2 1183.7L250.5 1185.0L250.7 1207.6L252.7 1208.9L253.4 1223.8L253.7 1174.1L254.3 1184.0L256.6 1185.2L256.7 1207.4L258.8 1208.6L259.5 1223.1L259.7 1174.0L260.3 1184.2L262.6 1185.4L262.8 1207.2L264.8 1208.4L265.5 1220.4L265.8 1175.9L266.4 1184.4L268.7 1185.6L268.8 1207.1L270.9 1208.2L271.6 1219.3L271.8 1176.9L272.4 1184.6L274.7 1185.8L274.9 1206.9L276.9 1208.0L277.6 1218.4L277.9 1177.0L278.5 1184.8L280.8 1185.9L280.9 1206.7L283.0 1207.8L283.7 1219.2L283.9 1178.1L284.5 1184.8L286.8 1186.0L287.0 1206.7L289.0 1207.8L289.7 1218.9L290.0 1177.7L290.6 1184.9L292.9 1186.0L293.0 1206.6L295.1 1207.8L295.8 1217.5L296.0 1177.0L296.6 1184.9L298.9 1186.0L299.1 1206.6L301.1 1207.7L301.8 1217.4L302.1 1178.5L302.7 1185.0L305.0 1186.1L305.1 1206.6L307.2 1207.7L307.9 1217.0L308.1 1178.1L308.7 1185.0L311.0 1186.1L311.2 1206.5L313.2 1207.6L313.9 1215.5L314.2 1177.9L314.8 1185.1L317.1 1186.2L317.2 1206.5L319.3 1207.6L320.0 1214.9L320.2 1178.8L320.8 1185.1L323.1 1186.2L323.3 1206.4L325.3 1207.5L326.0 1216.3L326.3 1180.7L326.9 1185.2L329.2 1186.3L329.3 1206.4L331.4 1207.5L332.1 1215.7L332.3 1180.4L332.9 1185.2L335.2 1186.3L335.4 1206.4L337.4 1207.4L338.1 1214.7L338.4 1181.5L339.0 1185.3L341.3 1186.3L341.4 1206.3L343.5 1207.4L344.2 1213.1L344.4 1181.5L345.0 1185.3L347.3 1186.4L347.5 1206.3L349.5 1207.4L350.2 1214.5L350.5 1181.9L351.1 1185.4L353.4 1186.4L353.5 1206.2L355.6 1207.3L356.3 1213.6L356.5 1181.0L357.1 1185.4L359.4 1186.5L359.6 1206.2L361.6 1207.3L362.3 1213.5L362.6 1182.4L363.2 1185.5L365.5 1186.5L365.6 1206.2L367.7 1207.2L368.4 1211.9L368.6 1182.5L369.2 1185.5L371.5 1186.6L371.7 1206.1L373.7 1207.2L374.4 1212.2L374.7 1183.6L375.3 1185.5L377.6 1186.6L377.7 1206.1L379.8 1207.1L380.5 1211.6L380.7 1182.9L381.4 1185.6L383.6 1186.6L383.8 1206.0L385.8 1207.1L386.5 1211.3L386.8 1184.5L387.4 1185.6L389.7 1186.7L389.8 1206.0L391.9 1207.0L392.6 1210.9L392.8 1184.8L393.5 1185.7L395.8 1186.7L395.9 1206.0L397.9 1207.0L398.6 1209.5L398.9 1184.3L399.5 1185.7L401.8 1186.8L401.9 1205.9L404.0 1207.0L404.7 1210.0L404.9 1184.8L405.6 1185.7L407.9 1186.8L408.0 1205.9L410.0 1207.0L410.7 1209.9L411.0 1184.6L411.6 1185.7L413.9 1186.8L414.0 1205.9L416.1 1207.0L416.8 1208.8L417.0 1185.0L417.7 1185.7L420.0 1186.8L420.1 1205.9L422.1 1207.0L422.8 1208.5L423.1 1185.5L423.7 1185.7L426.0 1186.8L426.1 1205.9L428.2 1207.0L428.9 1208.3L429.1 1184.7L429.8 1185.7L432.1 1186.8L432.2 1205.9L434.2 1207.0L434.9 1209.4L435.2 1185.6L435.8 1185.7L438.1 1186.8L438.2 1205.9L440.3 1207.0L441.0 1207.8L441.2 1184.5L441.9 1185.7L444.2 1186.8L444.3 1205.9L446.3 1207.0L447.0 1208.4L447.3 1185.4L447.9 1185.7L450.2 1186.8L450.3 1205.9L452.4 1207.0L453.1 1207.8L453.3 1185.3L454.0 1185.7L456.3 1186.8L456.4 1205.9L458.4 1207.0L459.1 1208.5L459.4 1185.6L460.0 1185.7L462.3 1186.8L462.4 1205.9L464.5 1207.0L465.2 1207.8L465.4 1186.2L466.1 1185.7L468.4 1186.8L468.5 1205.9L470.5 1207.0L471.2 1208.3L471.5 1186.3L472.1 1185.7L474.4 1186.8L474.5 1205.9L476.6 1207.0L477.3 1207.6L477.6 1185.4L478.2 1185.7L480.5 1186.8L480.6 1205.9L482.6 1207.0L483.3 1207.0L483.6 1185.7L484.2 1185.7L486.5 1186.8L486.6 1205.9L488.7 1207.0L489.4 1207.9L489.7 1185.3L490.6 1185.3L491.9 1185.1L492.5 1185.1L492.7 1206.7L494.1 1206.7L495.5 1207.2L495.7 1185.0L496.7 1185.0L497.9 1184.8L498.5 1184.8L498.8 1206.4L500.2 1206.4L501.6 1206.9L501.8 1186.3L502.7 1186.3L504.0 1186.0L504.6 1186.0L504.8 1207.7L506.2 1207.7L507.7 1208.1L507.8 1185.7L508.8 1185.7L510.0 1185.5L510.6 1185.5L510.9 1207.1L512.3 1207.1L513.7 1207.5L513.9 1186.2L514.9 1186.2L516.1 1186.0L516.7 1186.0L516.9 1207.6L518.3 1207.6L519.8 1208.0L519.9 1184.9L520.9 1184.9L522.1 1184.7L522.7 1184.7L523.0 1206.3L524.4 1206.3L525.8 1206.8L526.0 1185.9L527.0 1185.9L528.2 1185.7L528.8 1185.7L529.0 1207.3L530.4 1207.3L531.9 1207.8L532.0 1185.6L533.0 1185.6L534.2 1185.4L534.8 1185.4L535.1 1207.0L536.5 1207.0L537.9 1207.5L538.1 1184.7L539.1 1184.7L540.3 1184.4L540.9 1184.4L541.1 1206.1L542.5 1206.1L544.0 1206.5L544.1 1184.9L545.1 1184.9L546.3 1184.7L546.9 1184.7L547.2 1206.3L548.6 1206.3L550.0 1206.8L550.2 1184.7L551.2 1184.7L552.4 1184.5L553.0 1184.5L553.2 1206.1L554.6 1206.1L556.1 1206.6L556.2 1185.6L557.2 1185.6L558.4 1185.4L559.0 1185.4L559.3 1207.0L560.7 1207.0L562.1 1207.5L562.3 1185.6L563.3 1185.6L564.5 1185.4L565.1 1185.4L565.3 1207.0L566.7 1207.0L568.2 1207.4L568.3 1185.1L569.3 1185.1L570.5 1184.9L571.1 1184.9L571.4 1206.6L572.8 1206.6L574.2 1207.0L574.4 1185.6L575.4 1185.6L576.6 1185.4L577.2 1185.4L577.4 1207.0L578.8 1207.0L580.3 1207.5L580.4 1185.9L581.4 1185.9L582.6 1185.7L583.2 1185.7L583.5 1207.3L584.9 1207.3L586.3 1207.8L586.5 1185.7L587.5 1185.7L588.7 1185.5L589.3 1185.5L589.5 1207.1L590.9 1207.1L592.4 1207.6L592.5 1186.2L593.5 1186.2L594.7 1186.0L595.3 1186.0L595.6 1207.6L597.0 1207.6L598.4 1208.1L598.6 1185.8L599.6 1185.8L600.8 1185.6L601.4 1185.6L601.6 1207.2L603.0 1207.2L604.5 1207.6L604.6 1184.7L605.6 1184.7L606.8 1184.5L607.4 1184.5L607.7 1206.1L609.1 1206.1L610.5 1206.5L610.7 1184.7L611.7 1184.7L612.9 1184.5L613.5 1184.5L613.7 1206.1L615.1 1206.1L616.6 1206.6L616.7 1185.3L617.7 1185.3L618.9 1185.1L619.5 1185.1L619.8 1206.7L621.2 1206.7L622.6 1207.2L622.8 1185.6L623.8 1185.6L625.0 1185.3L625.6 1185.3L625.8 1207.0L627.2 1207.0L628.7 1207.4L628.8 1185.8L629.8 1185.8L631.0 1185.6L631.6 1185.6L631.9 1207.3L633.3 1207.3L634.7 1207.7L634.9 1186.3L635.9 1186.3L637.1 1186.1L637.7 1186.1L637.9 1207.7L639.3 1207.7L640.8 1208.2L640.9 1186.0L641.9 1186.0L643.1 1185.7L643.7 1185.7L644.0 1207.4L645.4 1207.4L646.8 1207.8L647.0 1185.1L648.0 1185.1L649.2 1184.8L649.8 1184.8L650.0 1206.5L651.4 1206.5L652.9 1206.9L653.0 1184.9L654.0 1184.9L655.2 1184.7L655.8 1184.7L656.1 1206.3L657.5 1206.3L658.9 1206.8L659.1 1185.8L660.1 1185.8L661.3 1185.6L661.9 1185.6L662.1 1207.2L663.5 1207.2L665.0 1207.7L665.1 1185.0L666.1 1185.0L667.3 1184.8L667.9 1184.8L668.2 1206.4L669.6 1206.4L671.0 1206.9L671.2 1185.1L672.2 1185.1L673.4 1184.8L674.0 1184.8L674.2 1206.5L675.6 1206.5L677.1 1206.9L677.2 1185.2L678.2 1185.2L679.4 1185.0L680.0 1185.0L680.3 1206.6L681.7 1206.6L683.1 1207.1L683.3 1185.3L684.3 1185.3L685.5 1185.0L686.1 1185.0L686.3 1206.7L687.7 1206.7L689.2 1207.1L689.3 1185.1L690.3 1185.1L691.5 1184.9L692.1 1184.9L692.4 1206.5L693.8 1206.5L695.2 1206.9L695.4 1185.8L696.4 1185.8L697.6 1185.6L698.2 1185.6L698.4 1207.2L699.8 1207.2L701.3 1207.7L701.4 1185.2L702.4 1185.2L703.6 1185.0L704.2 1185.0L704.5 1206.6L705.9 1206.6L707.3 1207.0L707.5 1186.0L708.5 1186.0L709.7 1185.7L710.3 1185.7L710.5 1207.4L711.9 1207.4L713.4 1207.8L713.5 1185.6L714.5 1185.6L715.7 1185.4L716.3 1185.4L716.6 1207.0L718.0 1207.0L719.4 1207.4L719.6 1185.1L720.6 1185.1L721.8 1184.8L722.4 1184.8L722.6 1206.5L724.0 1206.5L725.5 1206.9L725.6 1185.2L726.6 1185.2L727.8 1185.0L728.4 1185.0L728.7 1206.6L730.1 1206.6L731.5 1207.1L731.7 1185.9L732.7 1185.9L733.9 1185.7L734.5 1185.7L734.7 1207.3L736.1 1207.3L737.6 1207.8L737.7 1184.8L738.7 1184.8L739.9 1184.5L740.5 1184.5L740.8 1206.2L742.2 1206.2L743.6 1206.6L743.8 1185.3L744.8 1185.3L746.0 1185.1L746.6 1185.1L746.8 1206.7L748.2 1206.7L749.7 1207.1L749.8 1185.4L750.8 1185.4L752.0 1185.2L752.6 1185.2L752.9 1206.8L754.3 1206.8L755.7 1207.3L755.9 1186.4L756.9 1186.4L758.1 1186.2L758.7 1186.2L758.9 1207.8L760.3 1207.8L761.8 1208.3L761.9 1185.5L762.9 1185.5L764.1 1185.2L764.7 1185.2L765.0 1206.9L766.4 1206.9L767.8 1207.3L768.0 1186.0L769.0 1186.0L770.2 1185.8L770.8 1185.8L771.0 1207.4L772.4 1207.4L773.9 1207.9L774.0 1185.2L775.0 1185.2L776.2 1185.0L776.8 1185.0L777.1 1206.7L778.5 1206.7L779.9 1207.1L780.1 1185.6L781.1 1185.6L782.3 1185.4L782.9 1185.4L783.1 1207.0L784.5 1207.0L786.0 1207.5L786.1 1185.0L787.1 1185.0L788.3 1184.8L788.9 1184.8L789.2 1206.4L790.6 1206.4L792.0 1206.8L792.2 1185.3L793.2 1185.3L794.4 1185.1L795.0 1185.1L795.2 1206.7L796.6 1206.7L798.1 1207.2L798.2 1185.0L799.2 1185.0L800.4 1184.8L801.0 1184.8L801.3 1206.4L802.7 1206.4L804.1 1206.9L804.3 1185.8L805.3 1185.8L806.5 1185.6L807.1 1185.6L807.3 1207.2L808.7 1207.2L810.2 1207.7L810.3 1185.3L811.3 1185.3L812.5 1185.1L813.1 1185.1L813.4 1206.7L814.8 1206.7L816.2 1207.2L816.4 1185.1L817.4 1185.1L818.6 1184.9L819.2 1184.9L819.4 1206.5L820.8 1206.5L822.3 1207.0L822.4 1185.0L823.4 1185.0L824.6 1184.7L825.2 1184.7L825.5 1206.4L826.9 1206.4L828.3 1206.8L828.5 1185.8L829.5 1185.8L830.7 1185.6L831.3 1185.6L831.5 1207.2L832.9 1207.2L834.4 1207.7L834.5 1184.9L835.5 1184.9L836.7 1184.7L837.3 1184.7L837.6 1206.3L839.0 1206.3L840.4 1206.8L840.6 1184.9L841.6 1184.9L842.8 1184.7L843.4 1184.7L843.6 1206.3L845.0 1206.3L846.5 1206.7L846.6 1185.2L847.6 1185.2L848.8 1185.0L849.4 1185.0L849.7 1206.6L851.1 1206.6L852.5 1207.1L852.7 1184.6L853.7 1184.6L854.9 1184.4L855.5 1184.4L855.7 1206.2L857.1 1206.2L858.6 1206.7L858.8 1184.4L859.7 1184.4L860.9 1184.2L861.5 1184.2L861.8 1206.5L863.2 1206.5L864.6 1206.9L864.8 1184.9L865.8 1184.9L867.0 1184.7L867.6 1184.7L867.8 1207.5L869.2 1207.5L870.7 1208.0L870.9 1184.7L871.8 1184.7L873.0 1184.4L873.6 1184.4L873.9 1207.8L875.3 1207.8L876.7 1208.2L876.9 1185.1L877.9 1185.1L879.1 1184.8L879.7 1184.8L879.9 1208.7L881.3 1208.7L882.8 1209.1L883.0 1183.6L883.9 1183.6L885.1 1183.4L885.7 1183.4L886.0 1207.7L887.4 1207.7L888.8 1208.1L889.0 1183.2L890.0 1183.2L891.2 1183.0L891.8 1183.0L892.0 1207.8L893.4 1207.8L894.9 1208.2L895.1 1183.8L896.0 1183.8L897.2 1183.5L897.8 1183.5L898.1 1208.8L899.5 1208.8L900.9 1209.3L901.1 1183.1L902.1 1183.1L903.3 1182.9L903.9 1182.9L904.1 1208.7L905.5 1208.7L907.0 1209.2L907.2 1182.8L908.1 1182.8L909.3 1182.6L909.9 1182.6L910.2 1208.9L911.6 1208.9L913.0 1209.3L913.2 1182.5L914.2 1182.5L915.4 1182.3L916.0 1182.3L916.2 1209.2L917.7 1209.2L919.1 1209.6L919.3 1183.1L920.2 1183.1L921.4 1182.9L922.0 1182.9L922.3 1210.6L923.7 1210.6L925.1 1211.1L925.3 1181.6L926.3 1181.6L927.5 1181.3L928.1 1181.3L928.3 1210.0L929.8 1210.0L931.2 1210.4L931.4 1181.5L932.3 1181.5L933.5 1181.3L934.1 1181.3L934.4 1210.7L935.8 1210.7L937.2 1211.2L937.4 1180.9L938.4 1180.9L939.6 1180.7L940.2 1180.7L940.4 1211.0L941.9 1211.0L943.3 1211.5L943.5 1180.9L944.4 1180.9L945.6 1180.7L946.2 1180.7L946.5 1211.9L947.9 1211.9L949.3 1212.3L949.5 1180.1L950.5 1180.1L951.7 1179.9L952.3 1179.9L952.5 1211.9L954.0 1211.9L955.4 1212.4L955.6 1179.5L956.5 1179.5L957.7 1179.2L958.3 1179.2L958.6 1212.1L960.0 1212.1L961.4 1212.5L961.6 1179.3L962.6 1179.3L963.8 1179.1L964.4 1179.1L964.6 1212.8L966.1 1212.8L967.5 1213.2L967.7 1178.7L968.6 1178.7L969.8 1178.5L970.4 1178.5L970.7 1213.0L972.1 1213.0L973.5 1213.5L973.7 1179.5L974.7 1179.5L975.9 1179.3L976.5 1179.3L976.7 1214.7L978.2 1214.7L979.6 1215.1L979.8 1178.9L980.7 1178.9L981.9 1178.6L982.5 1178.6L982.8 1214.9L984.2 1214.9L985.6 1215.3L985.8 1177.9L986.8 1177.9L988.0 1177.7L988.6 1177.7L988.8 1214.8L990.3 1214.8L991.7 1215.3L991.9 1177.1L992.8 1177.1L994.0 1176.9L994.6 1176.9L994.9 1214.8L996.3 1214.8L997.7 1215.3L997.9 1177.5L998.9 1177.5L1000.1 1177.3L1000.7 1177.3L1000.9 1216.0L1002.4 1216.0L1003.8 1216.5L1004.0 1176.2L1004.9 1176.2L1006.1 1176.0L1006.7 1176.0L1007.0 1215.6L1008.4 1215.6L1009.8 1216.1L1010.0 1175.9L1011.0 1175.9L1012.2 1175.7L1012.8 1175.7L1013.0 1216.2L1014.5 1216.2L1015.9 1216.6L1016.1 1177.0L1017.0 1177.0L1018.2 1176.7L1018.8 1176.7L1019.1 1217.2L1020.5 1217.2L1021.9 1217.7L1022.1 1176.2L1023.1 1176.2L1024.3 1176.0L1024.9 1176.0L1025.1 1216.4L1026.6 1216.4L1028.0 1216.8L1028.2 1176.7L1029.1 1176.7L1030.3 1176.5L1030.9 1176.5L1031.2 1216.8L1032.6 1216.8L1034.0 1217.2L1034.2 1177.1L1035.2 1177.1L1036.4 1176.9L1037.0 1176.9L1037.2 1217.0L1038.7 1217.0L1040.1 1217.5L1040.3 1177.0L1041.2 1177.0L1042.4 1176.8L1043.0 1176.8L1043.3 1216.8L1044.7 1216.8L1046.1 1217.3L1046.3 1176.7L1047.3 1176.7L1048.5 1176.5L1049.1 1176.5L1049.3 1216.5L1050.8 1216.5L1052.2 1216.9L1052.4 1177.0L1053.3 1177.0L1054.5 1176.8L1055.1 1176.8L1055.4 1216.7L1056.8 1216.7L1058.2 1217.1L1058.4 1177.0L1059.4 1177.0L1060.6 1176.8L1061.2 1176.8L1061.4 1216.6L1062.9 1216.6L1064.3 1217.0L1064.5 1177.4L1065.4 1177.4L1066.6 1177.2L1067.2 1177.2L1067.5 1216.8L1068.9 1216.8L1070.3 1217.3L1070.5 1176.7L1071.5 1176.7L1072.7 1176.4L1073.3 1176.4L1073.5 1216.0L1075.0 1216.0L1076.4 1216.4L1076.6 1176.9L1077.5 1176.9L1078.7 1176.6L1079.3 1176.6L1079.6 1216.1L1081.0 1216.1L1082.4 1216.5L1082.6 1176.5L1083.6 1176.5L1084.8 1176.3L1085.4 1176.3L1085.6 1215.6L1087.1 1215.6L1088.5 1216.1L1088.7 1176.6L1089.6 1176.6L1090.8 1176.4L1091.4 1176.4L1091.7 1215.6L1093.1 1215.6L1094.5 1216.1L1094.7 1177.3L1095.7 1177.3L1096.9 1177.0L1097.5 1177.0L1097.7 1216.2L1099.2 1216.2L1100.6 1216.7L1100.8 1176.1L1101.7 1176.1L1102.9 1175.9L1103.5 1175.9L1103.8 1215.0L1105.2 1215.0L1106.6 1215.4L1106.8 1177.7L1107.8 1177.7L1109.0 1177.5L1109.6 1177.5L1109.8 1216.6L1111.3 1216.6L1112.7 1217.0L1112.9 1177.0L1113.8 1177.0L1115.0 1176.8L1115.6 1176.8L1115.9 1215.8L1117.3 1215.8L1118.7 1216.3L1118.9 1177.3L1119.9 1177.3L1121.1 1177.1L1121.7 1177.1L1121.9 1216.0L1123.4 1216.0L1124.8 1216.5L1125.0 1177.1L1125.9 1177.1L1127.1 1176.9L1127.7 1176.9L1128.0 1215.8L1129.4 1215.8L1130.8 1216.2L1131.0 1177.6L1132.0 1177.6L1133.2 1177.4L1133.8 1177.4L1134.0 1216.3L1135.5 1216.3L1136.9 1216.7L1137.1 1176.4L1138.0 1176.4L1139.2 1176.1L1139.8 1176.1L1140.1 1215.0L1141.5 1215.0L1142.9 1215.4L1143.1 1177.2L1144.1 1177.2L1145.3 1177.0L1145.9 1177.0L1146.1 1215.8L1147.6 1215.8L1149.0 1216.2L1149.2 1177.9L1150.1 1177.9L1151.3 1177.6L1151.9 1177.6L1152.2 1216.3L1153.6 1216.3L1155.0 1216.8L1155.2 1176.8L1156.2 1176.8L1157.4 1176.6L1158.0 1176.6L1158.2 1215.3L1159.7 1215.3L1161.1 1215.7L1161.3 1177.8L1162.2 1177.8L1163.4 1177.6L1164.0 1177.6L1164.3 1216.2L1165.7 1216.2L1167.1 1216.6L1167.3 1177.0L1168.3 1177.0L1169.5 1176.8L1170.1 1176.8L1170.3 1215.3L1171.8 1215.3L1173.2 1215.8L1173.4 1177.4L1174.3 1177.4L1175.5 1177.2L1176.1 1177.2L1176.4 1215.7L1177.8 1215.7L1179.2 1216.1L1179.4 1177.0L1180.4 1177.0L1181.6 1176.8L1182.2 1176.8L1182.4 1215.2L1183.9 1215.2L1185.3 1215.7L1185.5 1176.4L1186.4 1176.4L1187.6 1176.1L1188.3 1176.1L1188.5 1214.5L1189.9 1214.5L1191.3 1215.0L1191.5 1176.6L1192.5 1176.6L1193.7 1176.4L1194.3 1176.4L1194.5 1214.7L1196.0 1214.7L1197.4 1215.2L1197.6 1177.4L1198.5 1177.4L1199.7 1177.2L1200.4 1177.2L1200.6 1215.4L1202.0 1215.4L1203.4 1215.9L1203.6 1176.7L1204.6 1176.7L1205.8 1176.5L1206.4 1176.5L1206.6 1214.7L1208.1 1214.7L1209.5 1215.1L1209.7 1177.0L1210.6 1177.0L1211.8 1176.8L1212.5 1176.8L1212.7 1215.0L1214.1 1215.0L1215.5 1215.4L1215.7 1177.6L1216.7 1177.6L1217.9 1177.3L1218.5 1177.3L1218.7 1215.4L1220.2 1215.4L1221.6 1215.9L1221.8 1178.0L1222.7 1178.0L1223.9 1177.8L1224.6 1177.8L1224.8 1215.8L1226.2 1215.8L1227.6 1216.3L1227.8 1177.2L1228.8 1177.2L1230.0 1177.0L1230.6 1177.0L1230.8 1215.0L1232.3 1215.0L1233.7 1215.4L1233.9 1177.3L1234.8 1177.3L1236.0 1177.1L1236.7 1177.1L1236.9 1215.0L1238.3 1215.0L1239.7 1215.5L1239.9 1176.6L1240.9 1176.6L1242.1 1176.4L1242.7 1176.4L1242.9 1214.3L1244.4 1214.3L1245.8 1214.7L1246.0 1176.6L1246.9 1176.6L1248.1 1176.4L1248.8 1176.4L1249.0 1214.2L1250.4 1214.2L1251.8 1214.7L1252.0 1177.3L1253.0 1177.3L1254.2 1177.1L1254.8 1177.1L1255.0 1214.8L1256.5 1214.8L1257.9 1215.3L1258.1 1177.8L1259.0 1177.8L1260.2 1177.6L1260.9 1177.6L1261.1 1215.3L1262.5 1215.3L1263.9 1215.7L1264.1 1176.8L1265.1 1176.8L1266.3 1176.6L1266.9 1176.6L1267.1 1214.3L1268.6 1214.3L1270.0 1214.7L1270.2 1178.5L1271.1 1178.5L1272.3 1178.2L1273.0 1178.2L1273.2 1215.9L1274.6 1215.9L1276.0 1216.3L1276.2 1178.3L1277.2 1178.3L1278.4 1178.1L1279.0 1178.1L1279.2 1215.6L1280.7 1215.6L1282.1 1216.1L1282.3 1177.5L1283.2 1177.5L1284.5 1177.3L1285.1 1177.3L1285.3 1214.8L1286.7 1214.8L1288.1 1215.2L1288.3 1177.4L1289.3 1177.4L1290.5 1177.2L1291.1 1177.2L1291.3 1214.7L1292.8 1214.7L1294.2 1215.1L1294.4 1178.3L1295.3 1178.3L1296.6 1178.1L1297.2 1178.1L1297.4 1215.5L1298.8 1215.5L1300.2 1215.9L1300.4 1177.5L1301.4 1177.5L1302.6 1177.2L1303.2 1177.2L1303.4 1214.6L1304.9 1214.6L1306.3 1215.0L1306.5 1177.1L1307.4 1177.0L1308.7 1176.8L1309.3 1176.8L1309.5 1214.1L1310.9 1214.1L1312.3 1214.5L1312.5 1178.1L1313.5 1178.0L1314.7 1177.8L1315.3 1177.8L1315.5 1214.9L1317.0 1214.9L1318.4 1215.4L1318.6 1178.1L1319.5 1178.0L1320.8 1177.7L1321.4 1177.7L1321.6 1214.7L1323.0 1214.8L1324.4 1215.3L1324.6 1178.5L1325.6 1178.4L1326.8 1178.1L1327.4 1178.1L1327.6 1215.0L1329.1 1215.1L1330.5 1215.7L1330.7 1178.5L1331.6 1178.4L1332.9 1178.0L1333.5 1178.0L1333.7 1214.7L1335.1 1214.9L1336.5 1215.5L1336.7 1177.4L1337.7 1177.2L1338.9 1176.8L1339.5 1176.8L1339.8 1213.4L1341.2 1213.6L1342.6 1214.3L1342.8 1178.6L1343.7 1178.3L1345.0 1177.9L1345.6 1177.9L1345.8 1214.4L1347.2 1214.6L1348.6 1215.3L1348.8 1177.6L1349.8 1177.3L1351.0 1176.9L1351.6 1176.9L1351.9 1213.2L1353.3 1213.5L1354.7 1214.2L1354.9 1177.8L1355.8 1177.5L1357.1 1177.0L1357.7 1177.0L1357.9 1213.2L1359.3 1213.5L1360.7 1214.3L1360.9 1178.5L1361.9 1178.1L1363.1 1177.6L1363.7 1177.6L1364.0 1213.7L1365.4 1214.0L1366.8 1214.8L1367.0 1179.2L1367.9 1178.8L1369.2 1178.2L1369.8 1178.2L1370.0 1214.2L1371.4 1214.6L1372.8 1215.4L1373.0 1178.0L1374.0 1177.5L1375.2 1176.9L1375.8 1176.9L1376.1 1212.8L1377.5 1213.2L1378.9 1214.1L1379.1 1178.9L1380.0 1178.5L1381.3 1177.8L1381.9 1177.8L1382.1 1213.6L1383.5 1214.0L1384.9 1214.9L1385.1 1179.2L1386.1 1178.7L1387.3 1178.0L1387.9 1178.0L1388.2 1213.6L1389.6 1214.1L1391.0 1215.0L1391.2 1179.5L1392.1 1178.9L1393.4 1178.2L1394.0 1178.2L1394.2 1213.7L1395.6 1214.2L1397.0 1215.2L1397.2 1178.3L1398.2 1177.7L1399.4 1177.0L1400.0 1177.0L1400.3 1212.5L1401.7 1213.0L1403.1 1214.0L1403.3 1179.2L1404.2 1178.6L1405.5 1177.8L1406.1 1177.8L1406.3 1213.3L1407.7 1213.9L1409.1 1214.9L1409.3 1179.6L1410.3 1178.9L1411.5 1178.2L1412.1 1178.2L1412.4 1213.7L1413.8 1214.3L1415.2 1215.4L1415.4 1179.3L1416.3 1178.6L1417.6 1177.8L1418.2 1177.8L1418.4 1213.3L1419.8 1214.0L1421.2 1215.1L1421.4 1180.0L1422.4 1179.2L1423.6 1178.3L1424.2 1178.3L1424.5 1213.9L1425.9 1214.6L1427.3 1215.8L1427.5 1179.1L1428.4 1178.3L1429.7 1177.4L1430.3 1177.4L1430.5 1213.0L1431.9 1213.7L1433.3 1214.9L1433.5 1179.4L1434.5 1178.6L1435.7 1177.7L1436.3 1177.7L1436.6 1213.3L1438.0 1214.1L1439.4 1215.3L1439.6 1179.7L1440.5 1178.8L1441.8 1177.9L1442.4 1177.9L1442.6 1213.5L1444.0 1214.4L1445.4 1215.6L1445.6 1178.9L1446.6 1177.9L1447.8 1176.9L1448.4 1176.9L1448.7 1212.6L1450.1 1213.5L1451.5 1214.8L1451.7 1178.8L1452.6 1177.8L1453.9 1176.8L1454.5 1176.8L1454.7 1212.5L1456.1 1213.4L1457.5 1214.8L1457.7 1180.3L1458.7 1179.3L1459.9 1178.2L1460.5 1178.2L1460.8 1214.0L1462.2 1214.9L1463.6 1216.3L1463.8 1179.4L1464.7 1178.3L1466.0 1177.2L1466.6 1177.2L1466.8 1213.0L1468.2 1214.0L1469.7 1215.4L1469.8 1179.9L1470.8 1178.8L1472.0 1177.6L1472.6 1177.6L1472.9 1213.5L1474.3 1214.5L1475.7 1215.9L1475.9 1178.7L1476.9 1177.6L1478.1 1176.4L1478.7 1176.4L1478.9 1212.2L1480.3 1213.3L1481.8 1214.8L1481.9 1179.0L1482.9 1177.8L1484.1 1176.6L1484.7 1176.6L1485.0 1212.5L1486.4 1213.6L1487.8 1215.1L1488.0 1180.0L1489.0 1178.8L1490.2 1177.5L1490.8 1177.5L1491.0 1213.4L1492.4 1214.6L1493.9 1216.1L1494.0 1180.0L1495.0 1178.7L1496.2 1177.4L1496.8 1177.4L1497.1 1213.4L1498.5 1214.5L1499.9 1216.2L1500.1 1180.2L1501.1 1178.9L1502.3 1177.6L1502.9 1177.6L1503.1 1213.5L1504.5 1214.8L1506.0 1216.4L1506.1 1178.8L1507.1 1177.4L1508.3 1176.0L1508.9 1176.0L1509.2 1212.0L1510.6 1213.3L1512.0 1215.0L1512.2 1180.0L1513.2 1178.6L1514.4 1177.2L1515.0 1177.2L1515.2 1213.2L1516.6 1214.5L1518.1 1216.3L1518.2 1179.5L1519.2 1178.0L1520.4 1176.6L1521.0 1176.6L1521.3 1212.6L1522.7 1214.0L1524.1 1215.8L1524.3 1179.8L1525.3 1178.3L1526.5 1176.8L1527.1 1176.8L1527.3 1212.8L1528.7 1214.2L1530.2 1216.1L1530.3 1179.5L1531.3 1177.9L1532.5 1176.4L1533.1 1176.4L1533.4 1212.5L1534.8 1213.9L1536.2 1215.8L1536.4 1179.6L1537.4 1178.0L1538.6 1176.4L1539.2 1176.4L1539.4 1212.6L1540.8 1214.0L1542.3 1215.9L1542.4 1179.4L1543.4 1177.7L1544.6 1176.1L1545.2 1176.1L1545.5 1212.3L1546.9 1213.8L1548.3 1215.7L1548.5 1180.5L1549.5 1178.8L1550.7 1177.2L1551.3 1177.2L1551.5 1213.4L1552.9 1214.9L1554.4 1216.9L1554.5 1179.3L1555.5 1177.6L1556.7 1175.9L1557.3 1175.9L1557.6 1212.2L1559.0 1213.8L1560.4 1215.9L1560.6 1180.2L1561.6 1178.3L1562.8 1176.6L1563.4 1176.6L1563.6 1213.1L1565.0 1214.7L1566.5 1216.8L1566.6 1179.7L1567.6 1177.9L1568.8 1176.1L1569.4 1176.1L1569.7 1212.7L1571.1 1214.4L1572.5 1216.5L1572.7 1180.1L1573.7 1178.1L1574.9 1176.3L1575.5 1176.3L1575.7 1213.1L1577.1 1214.8L1578.6 1217.0L1578.7 1180.1L1579.7 1178.1L1580.9 1176.3L1581.5 1176.3L1581.8 1213.1L1583.2 1214.9L1584.6 1217.2L1584.8 1179.7L1585.8 1177.7L1587.0 1175.8L1587.6 1175.8L1587.8 1212.7L1589.2 1214.6L1590.7 1216.9L1590.8 1179.8L1591.8 1177.7L1593.0 1175.8L1593.6 1175.8L1593.9 1212.9L1595.3 1214.8L1596.7 1217.1L1596.9 1180.0L1597.9 1177.8L1599.1 1175.8L1599.7 1175.8L1599.9 1213.1L1601.3 1215.0L1602.8 1217.4L1602.9 1179.3L1603.9 1177.1L1605.1 1175.0L1605.7 1175.0L1606.0 1212.4L1607.4 1214.4L1608.8 1216.8L1609.0 1179.5L1610.0 1177.3L1611.2 1175.2L1611.8 1175.2L1612.0 1212.7L1613.4 1214.7L1614.9 1217.2L1615.0 1180.5L1616.0 1178.2L1617.2 1176.1L1617.8 1176.1L1618.1 1213.7L1619.5 1215.8L1620.9 1218.3L1621.1 1180.1L1622.1 1177.8L1623.3 1175.6L1623.9 1175.6L1624.1 1213.3L1625.5 1215.4L1627.0 1218.0L1627.1 1179.8L1628.1 1177.3L1629.3 1175.1L1629.9 1175.1L1630.2 1212.9L1631.6 1215.1L1633.0 1217.8L1633.2 1178.9L1634.2 1176.4L1635.4 1174.2L1636.0 1174.2L1636.2 1212.1L1637.6 1214.4L1639.1 1217.1L1639.2 1179.0L1640.2 1176.4L1641.4 1174.1L1642.0 1174.1L1642.3 1212.2L1643.7 1214.5L1645.1 1217.2L1645.3 1179.6L1646.3 1177.0L1647.5 1174.6L1648.1 1174.6L1648.3 1212.8L1649.7 1215.1L1651.2 1218.0L1651.3 1180.5L1652.3 1177.9L1653.5 1175.5L1654.1 1175.5L1654.4 1213.7L1655.8 1216.2L1657.2 1219.0L1657.4 1179.2L1658.4 1176.4L1659.6 1174.0L1660.2 1174.0L1660.4 1212.4L1661.8 1214.8L1663.3 1217.8L1663.4 1179.8L1664.4 1177.0L1665.6 1174.5L1666.2 1174.5L1666.5 1213.0L1667.9 1215.5L1669.3 1218.5L1669.5 1179.5L1670.5 1176.7L1671.7 1174.1L1672.3 1174.1L1672.5 1212.7L1673.9 1215.3L1675.4 1218.4L1675.5 1179.2L1676.5 1176.3L1677.7 1173.7L1678.3 1173.7L1678.6 1212.5L1680.0 1215.2L1681.4 1218.3L1681.6 1179.4L1682.6 1176.4L1683.8 1173.7L1684.4 1173.7L1684.6 1212.7L1686.0 1215.4L1687.5 1218.6L1687.6 1179.6L1688.6 1176.6L1689.8 1173.8L1690.4 1173.8L1690.7 1213.0L1692.1 1215.8L1693.5 1219.0L1693.7 1178.8L1694.7 1175.7L1695.9 1172.9L1696.5 1172.9L1696.7 1212.2L1698.1 1215.1L1699.6 1218.4L1699.7 1179.7L1700.7 1176.5L1701.9 1173.7L1702.5 1173.7L1702.8 1213.2L1704.2 1216.1L1705.6 1219.5L1705.8 1179.7L1706.8 1176.4L1708.0 1173.5L1708.6 1173.5L1708.8 1213.2L1710.2 1216.2L1711.7 1219.6L1711.8 1178.9L1712.8 1175.5L1714.0 1172.6L1714.6 1172.6L1714.9 1212.4L1716.3 1215.4L1717.7 1218.9L1717.9 1180.0L1718.9 1176.6L1720.1 1173.6L1720.7 1173.6L1720.9 1213.6L1722.3 1216.7L1723.8 1220.2L1723.9 1179.8L1724.9 1176.4L1726.1 1173.3L1726.7 1173.3L1727.0 1213.4L1728.4 1216.6L1729.8 1220.2L1730.0 1178.9L1731.0 1175.3L1732.2 1172.2L1732.8 1172.2L1733.0 1212.5L1734.4 1215.7L1735.9 1219.4L1736.0 1180.2L1737.0 1176.6L1738.2 1173.4L1738.8 1173.4L1739.1 1213.9L1740.5 1217.2L1741.9 1220.9L1742.1 1178.8L1743.1 1175.1L1744.3 1171.9L1744.9 1171.9L1745.1 1212.5L1746.5 1215.9L1748.0 1219.7L1748.1 1179.1L1749.1 1175.3L1750.3 1172.0L1750.9 1172.0L1751.2 1212.8L1752.6 1216.2L1754.0 1220.1L1754.2 1179.5L1755.2 1175.7L1756.4 1172.3L1757.0 1172.3L1757.2 1213.2L1758.6 1216.7L1760.1 1220.7L1760.2 1179.7L1761.2 1175.8L1762.4 1172.4L1763.0 1172.4L1763.3 1213.5L1764.7 1217.1L1766.1 1221.1L1766.3 1178.8L1767.3 1174.8L1768.5 1171.4L1769.1 1171.4L1769.3 1212.8L1770.7 1216.3L1772.2 1220.4L1772.3 1178.4L1773.3 1174.5L1774.5 1171.0L1775.1 1171.0L1775.4 1212.6L1776.8 1216.2L1778.2 1220.3L1778.4 1179.7L1779.4 1175.7L1780.6 1172.2L1781.2 1172.2L1781.4 1214.1L1782.8 1217.7L1784.3 1221.8L1784.4 1179.0L1785.4 1175.0L1786.6 1171.5L1787.2 1171.5L1787.5 1213.6L1788.9 1217.2L1790.3 1221.3L1790.5 1178.7L1791.5 1174.7L1792.7 1171.2L1793.3 1171.2L1793.5 1213.6L1794.9 1217.3L1796.4 1221.4L1796.5 1178.6L1797.5 1174.5L1798.7 1171.0L1799.3 1171.0L1799.6 1213.9L1801.0 1217.6L1802.4 1221.8L1802.6 1178.7L1803.6 1174.6L1804.8 1171.0L1805.4 1171.0L1805.6 1214.4L1807.0 1218.2L1808.5 1222.4L1808.6 1178.8L1809.6 1174.6L1810.8 1171.0L1811.4 1171.0L1811.7 1215.0L1813.1 1218.8L1814.5 1223.0L1814.7 1177.8L1815.7 1173.6L1816.9 1169.9L1817.5 1169.9L1817.7 1214.4L1819.1 1218.2L1820.6 1222.5L1820.7 1177.2L1821.7 1172.9L1822.9 1169.2L1823.5 1169.2L1823.8 1214.2L1825.2 1218.1L1826.6 1222.4L1826.8 1178.4L1827.8 1174.0L1829.0 1170.3L1829.6 1170.3L1829.8 1215.7L1831.2 1219.7L1832.7 1224.0L1832.9 1177.9L1833.8 1173.5L1835.0 1169.7L1835.6 1169.7L1835.9 1215.6L1837.3 1219.6L1838.7 1224.0L1838.9 1176.6L1839.9 1172.2L1841.1 1168.3L1841.7 1168.3L1841.9 1214.8L1843.3 1218.8L1844.8 1223.3L1845.0 1176.4L1845.9 1172.0L1847.1 1168.1L1847.7 1168.1L1848.0 1215.0L1849.4 1219.1L1850.8 1223.6L1851.0 1176.5L1852.0 1171.9L1853.2 1168.0L1853.8 1168.0L1854.0 1215.5L1855.4 1219.6L1856.9 1224.1L1857.1 1177.4L1858.0 1172.8L1859.2 1168.9L1859.8 1168.9L1860.1 1216.8L1861.5 1221.0L1862.9 1225.6L1863.1 1175.9L1864.1 1171.3L1865.3 1167.3L1865.9 1167.3L1866.1 1215.8L1867.5 1220.0L1869.0 1224.6L1869.2 1175.3L1870.1 1170.6L1871.3 1166.6L1871.9 1166.6L1872.2 1215.5L1873.6 1219.8L1875.0 1224.4L1875.2 1175.0L1876.2 1170.3L1877.4 1166.2L1878.0 1166.2L1878.2 1215.7L1879.6 1220.0L1881.1 1224.7L1881.3 1175.4L1882.2 1170.6L1883.4 1166.5L1884.0 1166.5L1884.3 1216.4L1885.7 1220.8L1887.1 1225.5L1887.3 1176.3L1888.3 1171.5L1889.5 1167.4L1890.1 1167.4L1890.3 1217.8L1891.8 1222.2L1893.2 1227.0L1893.4 1174.7L1894.3 1169.8L1895.5 1165.6L1896.1 1165.6L1896.4 1216.6L1897.8 1221.0L1899.2 1225.9L1899.4 1175.6L1900.4 1170.7L1901.6 1166.5L1902.2 1166.5L1902.4 1217.9L1903.9 1222.4L1905.3 1227.3L1905.5 1174.6L1906.4 1169.7L1907.6 1165.4L1908.2 1165.4L1908.5 1217.4L1909.9 1221.9L1911.3 1226.8L1911.5 1173.9L1912.5 1168.9L1913.7 1164.6L1914.3 1164.6L1914.5 1217.0L1916.0 1221.5L1917.4 1226.5L1917.6 1174.1L1918.5 1169.1L1919.7 1164.7L1920.3 1164.7L1920.6 1217.6L1922.0 1222.2L1923.4 1227.3L1923.6 1175.0L1924.6 1169.9L1925.8 1165.5L1926.4 1165.5L1926.6 1218.9L1928.1 1223.5L1929.5 1228.6L1929.7 1174.5L1930.6 1169.3L1931.8 1164.9L1932.4 1164.9L1932.7 1218.8L1934.1 1223.5L1935.5 1228.6L1935.7 1173.1L1936.7 1167.9L1937.9 1163.5L1938.5 1163.5L1938.7 1217.9L1940.2 1222.6L1941.6 1227.8L1941.8 1174.3L1942.7 1169.1L1943.9 1164.6L1944.5 1164.6L1944.8 1219.5L1946.2 1224.2L1947.6 1229.5L1947.8 1173.3L1948.8 1168.0L1950.0 1163.4L1950.6 1163.4L1950.8 1218.8L1952.3 1223.7L1953.7 1228.9L1953.9 1173.4L1954.8 1168.1L1956.0 1163.5L1956.6 1163.5L1956.9 1219.4L1958.3 1224.3L1959.7 1229.6L1959.9 1173.7L1960.9 1168.3L1962.1 1163.7L1962.7 1163.7L1962.9 1220.1L1964.4 1225.0L1965.8 1230.3L1966.0 1172.6L1966.9 1167.2L1968.1 1162.5L1968.7 1162.5L1969.0 1219.4L1970.4 1224.4L1971.8 1229.8L1972.0 1173.5L1973.0 1168.0L1974.2 1163.3L1974.8 1163.3L1975.0 1220.7L1976.5 1225.7L1977.9 1231.1L1978.1 1173.2L1979.0 1167.6L1980.2 1162.9L1980.8 1162.9L1981.1 1220.8L1982.5 1225.8L1983.9 1231.3L1984.1 1172.5L1985.1 1166.9L1986.3 1162.1L1986.9 1162.1L1987.1 1220.5L1988.6 1225.6L1990.0 1231.1L1990.2 1172.8L1991.1 1167.2L1992.3 1162.4L1992.9 1162.4L1993.2 1221.3L1994.6 1226.4L1996.0 1231.9L1996.2 1172.6L1997.2 1167.0L1998.4 1162.1L1999.0 1162.1L1999.2 1221.5L2000.7 1226.6L2002.1 1232.3L2002.3 1171.5L2003.2 1165.8L2004.4 1160.9L2005.0 1160.9L2005.3 1220.8L2006.7 1226.0L2008.1 1231.6L2008.3 1171.0L2009.3 1165.2L2010.5 1160.3L2011.1 1160.3L2011.3 1220.7L2012.8 1225.9L2014.2 1231.6L2014.4 1170.5L2015.3 1164.7L2016.5 1159.7L2017.1 1159.7L2017.4 1220.6L2018.8 1225.9L2020.2 1231.7L2020.4 1171.7L2021.4 1165.8L2022.6 1160.8L2023.2 1160.8L2023.4 1222.2L2024.9 1227.5L2026.3 1233.3L2026.5 1170.9L2027.4 1165.0L2028.6 1159.9L2029.2 1159.9L2029.5 1221.8L2030.9 1227.2L2032.3 1233.1" stroke="#E8837E" stroke-width="2.6"/>
</g>
<rect x="93.9" y="1061.4" width="1936.1" height="404.9" fill="none" stroke="#1a1a1a" stroke-width="1.5"/>
<line x1="93.9" y1="1061.4" x2="93.9" y2="1196.6" stroke="#3a1010" stroke-width="1.4"/>
<line x1="84.4" y1="1061.4" x2="93.9" y2="1061.4" stroke="#1a1a1a" stroke-width="1.5"/>
<text x="76.0" y="1069.2" font-size="22.4" text-anchor="end">0.6</text>
<line x1="84.4" y1="1196.6" x2="93.9" y2="1196.6" stroke="#1a1a1a" stroke-width="1.5"/>
<text x="76.0" y="1204.4" font-size="22.4" text-anchor="end">0.0</text>
<line x1="84.4" y1="1331.5" x2="93.9" y2="1331.5" stroke="#1a1a1a" stroke-width="1.5"/>
<text x="76.0" y="1339.3" font-size="22.4" text-anchor="end">-0.6</text>
<line x1="84.4" y1="1466.3" x2="93.9" y2="1466.3" stroke="#1a1a1a" stroke-width="1.5"/>
<text x="76.0" y="1474.1" font-size="22.4" text-anchor="end">-1.2</text>
<line x1="93.9" y1="1466.3" x2="93.9" y2="1475.8" stroke="#1a1a1a" stroke-width="1.5"/>
<text x="93.9" y="1503.0" font-size="22.4" text-anchor="middle">0</text>
<line x1="335.9" y1="1466.3" x2="335.9" y2="1475.8" stroke="#1a1a1a" stroke-width="1.5"/>
<text x="335.9" y="1503.0" font-size="22.4" text-anchor="middle">80</text>
<line x1="577.9" y1="1466.3" x2="577.9" y2="1475.8" stroke="#1a1a1a" stroke-width="1.5"/>
<text x="577.9" y="1503.0" font-size="22.4" text-anchor="middle">160</text>
<line x1="819.9" y1="1466.3" x2="819.9" y2="1475.8" stroke="#1a1a1a" stroke-width="1.5"/>
<text x="819.9" y="1503.0" font-size="22.4" text-anchor="middle">240</text>
<line x1="1062.0" y1="1466.3" x2="1062.0" y2="1475.8" stroke="#1a1a1a" stroke-width="1.5"/>
<text x="1062.0" y="1503.0" font-size="22.4" text-anchor="middle">320</text>
<line x1="1304.0" y1="1466.3" x2="1304.0" y2="1475.8" stroke="#1a1a1a" stroke-width="1.5"/>
<text x="1304.0" y="1503.0" font-size="22.4" text-anchor="middle">400</text>
<line x1="1546.0" y1="1466.3" x2="1546.0" y2="1475.8" stroke="#1a1a1a" stroke-width="1.5"/>
<text x="1546.0" y="1503.0" font-size="22.4" text-anchor="middle">480</text>
<line x1="1788.0" y1="1466.3" x2="1788.0" y2="1475.8" stroke="#1a1a1a" stroke-width="1.5"/>
<text x="1788.0" y="1503.0" font-size="22.4" text-anchor="middle">560</text>
<line x1="2030.0" y1="1466.3" x2="2030.0" y2="1475.8" stroke="#1a1a1a" stroke-width="1.5"/>
<text x="2030.0" y="1503.0" font-size="22.4" text-anchor="middle">640</text>
<text x="1063.0" y="1542.0" font-size="27.7" text-anchor="middle">Time (h)</text>
<text transform="translate(20.2 1264.0) rotate(-90)" font-size="27.7" text-anchor="middle">Voltage (V)</text>
<text x="165.6" y="1121.5" font-size="27.7">0.5 mA cm<tspan font-size="19" dy="-10">-2</tspan><tspan dy="10" font-size="1">&#8203;</tspan> - 0.5 mAh cm<tspan font-size="19" dy="-10">-2</tspan><tspan dy="10" font-size="1">&#8203;</tspan></text>
<line x1="1793.0" y1="1089.0" x2="1856.3" y2="1089.0" stroke="#97D8E8" stroke-width="1.8"/>
<line x1="1793.0" y1="1122.2" x2="1856.3" y2="1122.2" stroke="#E8837E" stroke-width="1.8"/>
<text x="1864.5" y="1098.3" font-size="27.7">Baseline</text>
<text x="1864.5" y="1131.4" font-size="27.7">FHFP</text>
<rect x="106.9" y="1148.8" width="96.2" height="99.7" fill="none" stroke="#5A9A8B" stroke-width="1.9" stroke-dasharray="9.4 5.4"/>
<rect x="749" y="1166.6" width="163.2" height="60.7" fill="none" stroke="#5A9A8B" stroke-width="1.9" stroke-dasharray="9.4 5.4"/>
<rect x="1011.9" y="1148.8" width="147.8" height="99.7" fill="none" stroke="#5A9A8B" stroke-width="1.9" stroke-dasharray="9.4 5.4"/>
<text x="215.0" y="1165.0" font-size="19.3" font-family="'DejaVu Serif', serif" stroke="#000" stroke-width="0.55">Ⅰ</text>
<text x="722.5" y="1164.6" font-size="19.3" font-family="'DejaVu Serif', serif" stroke="#000" stroke-width="0.55">Ⅱ</text>
<text x="988.8" y="1144.8" font-size="19.3" font-family="'DejaVu Serif', serif" stroke="#000" stroke-width="0.55">Ⅲ</text>
<rect x="240.0" y="1264.6" width="284.0" height="136.0" fill="#fff"/>
<clipPath id="cpI1"><rect x="240.0" y="1264.6" width="284.0" height="136.0"/></clipPath>
<g clip-path="url(#cpI1)" fill="none" stroke-linejoin="round">
<path d="M240.0 1262.3L240.5 1292.9L241.4 1309.9L242.8 1319.0L244.3 1325.8L244.7 1343.9L246.9 1363.8L248.0 1349.6L249.2 1342.8L249.5 1323.5L249.7 1322.4L254.2 1321.8L254.4 1342.8L258.9 1343.4L259.2 1322.4L263.7 1321.8L263.9 1342.8L268.4 1343.4L268.6 1322.4L273.1 1321.8L273.4 1342.8L277.9 1343.4L278.1 1322.4L282.6 1321.8L282.8 1342.8L287.3 1343.4L287.6 1322.4L292.1 1321.8L292.3 1342.8L296.8 1343.4L297.0 1322.4L301.5 1321.8L301.8 1342.8L306.3 1343.4L311.2 1326.9L313.4 1326.3L315.6 1325.9L316.0 1338.3L318.1 1338.9L320.4 1339.3L320.7 1327.0L322.8 1326.5L325.1 1326.0L325.4 1338.2L327.6 1338.7L329.8 1339.2L330.2 1327.2L332.3 1326.7L334.6 1326.3L334.9 1338.0L337.0 1338.5L339.3 1338.9L339.6 1326.9L341.8 1326.3L344.0 1325.9L344.4 1338.3L346.5 1338.9L348.8 1339.3L349.1 1327.4L351.2 1326.9L353.5 1326.5L353.8 1337.8L356.0 1338.3L358.2 1338.7L358.6 1327.2L360.7 1326.7L363.0 1326.3L363.3 1338.0L365.4 1338.5L367.7 1338.9L368.0 1327.1L370.2 1326.6L372.4 1326.1L372.8 1338.1L374.9 1338.6L377.2 1339.1L377.5 1327.6L379.6 1327.1L381.9 1326.7L382.2 1337.6L384.4 1338.1L386.6 1338.5L387.0 1327.4L389.1 1326.9L391.4 1326.5L391.7 1337.8L393.8 1338.3L396.1 1338.7L396.4 1327.5L398.6 1327.0L400.8 1326.6L401.2 1337.7L403.3 1338.2L405.6 1338.6L405.9 1327.8L408.0 1327.4L410.3 1327.0L410.6 1337.4L412.8 1337.8L415.0 1338.2L415.4 1327.7L417.5 1327.3L419.8 1326.9L420.1 1337.5L422.2 1337.9L424.5 1338.3L424.8 1327.6L427.0 1327.2L429.2 1326.8L429.6 1337.6L431.7 1338.0L434.0 1338.4L434.3 1327.8L436.4 1327.4L438.7 1327.0L439.0 1337.4L441.2 1337.8L443.4 1338.2L443.8 1327.7L445.9 1327.3L448.2 1326.9L448.5 1337.5L450.6 1337.9L452.9 1338.3L453.2 1328.0L455.4 1327.6L457.6 1327.2L458.0 1337.2L460.1 1337.6L462.4 1338.0L462.7 1328.0L464.8 1327.6L467.1 1327.2L467.4 1337.2L469.6 1337.6L471.8 1338.0L472.2 1328.1L474.3 1327.7L476.6 1327.3L476.9 1337.1L479.0 1337.5L481.3 1337.9L481.6 1328.0L483.8 1327.5L486.0 1327.1L486.4 1337.2L488.5 1337.7L490.8 1338.1L491.1 1327.8L493.2 1327.3L495.5 1326.9L495.8 1337.4L498.0 1337.9L500.2 1338.3L500.6 1328.0L502.7 1327.5L505.0 1327.2L505.3 1337.2L507.4 1337.7L509.7 1338.0L510.0 1327.9L512.2 1327.5L514.4 1327.1L514.8 1337.3L516.9 1337.7L519.2 1338.1L519.5 1328.1L521.6 1327.7L523.9 1327.4L524.2 1337.1L526.4 1337.5L528.6 1337.8L529.0 1328.0L531.1 1327.6L533.4 1327.2L533.7 1337.2" stroke="#97D8E8" stroke-width="2.3"/>
<path d="M240.0 1262.3L240.6 1298.6L241.4 1323.5L242.8 1330.3L244.3 1336.0L249.5 1336.0L249.7 1325.8L251.1 1317.9L252.3 1326.9L254.2 1328.1L254.4 1336.6L259.9 1337.1L260.1 1329.2L265.1 1328.6L265.3 1337.7L268.9 1338.3L269.1 1325.8L270.5 1319.0L271.7 1326.9L273.6 1328.1L273.8 1336.6L279.3 1337.1L279.5 1329.2L284.5 1328.6L284.7 1337.7L288.3 1338.3L288.5 1325.8L289.9 1320.1L291.1 1326.9L293.0 1328.1L293.2 1336.6L298.7 1337.1L298.9 1329.2L303.9 1328.6L304.1 1337.7L307.7 1338.3L307.9 1339.4L309.1 1357.0L310.1 1312.5L311.1 1323.7L314.7 1324.5L314.9 1340.2L318.1 1341.1L319.2 1357.7L319.6 1312.7L320.6 1323.8L324.2 1324.7L324.3 1340.1L327.6 1341.0L328.7 1357.7L329.1 1313.5L330.0 1324.0L333.6 1324.8L333.8 1340.0L337.0 1340.8L338.1 1356.7L338.5 1315.7L339.5 1324.1L343.1 1324.9L343.3 1339.9L346.5 1340.7L347.6 1354.6L348.0 1314.4L349.0 1324.3L352.6 1325.1L352.7 1339.7L356.0 1340.5L357.1 1354.2L357.5 1315.2L358.4 1324.4L362.0 1325.2L362.2 1339.6L365.4 1340.4L366.5 1352.0L366.9 1316.7L367.9 1324.6L371.5 1325.4L371.7 1339.5L374.9 1340.2L376.0 1351.4L376.4 1317.2L377.4 1324.7L381.0 1325.5L381.1 1339.3L384.4 1340.1L385.5 1351.3L385.9 1318.8L386.8 1324.9L390.4 1325.6L390.6 1339.2L393.8 1339.9L394.9 1349.7L395.3 1319.0L396.3 1325.1L399.9 1325.8L400.1 1339.1L403.3 1339.8L404.4 1350.3L404.8 1318.8L405.8 1325.2L409.4 1325.9L409.5 1338.9L412.8 1339.6L413.9 1347.9L414.3 1319.1L415.2 1325.3L418.8 1326.0L419.0 1338.8L422.2 1339.5L423.3 1347.5L423.7 1319.6L424.7 1325.4L428.3 1326.1L428.5 1338.7L431.7 1339.4L432.8 1347.1L433.2 1320.8L434.2 1325.6L437.8 1326.2L437.9 1338.6L441.2 1339.3L442.3 1348.1L442.7 1320.7L443.6 1325.7L447.2 1326.3L447.4 1338.5L450.6 1339.2L451.7 1346.6L452.1 1319.8L453.1 1325.8L456.7 1326.4L456.9 1338.4L460.1 1339.1L461.2 1347.3L461.6 1321.1L462.6 1325.9L466.2 1326.5L466.3 1338.3L469.6 1339.0L470.7 1347.1L471.1 1321.0L472.0 1326.0L475.6 1326.6L475.8 1338.2L479.0 1338.9L480.1 1346.2L480.5 1321.7L481.5 1326.1L485.1 1326.7L485.3 1338.2L488.5 1338.8L489.6 1346.3L490.0 1321.3L491.0 1326.2L494.6 1326.8L494.7 1338.1L498.0 1338.7L499.1 1345.9L499.5 1321.3L500.4 1326.4L504.0 1326.9L504.2 1338.0L507.4 1338.5L508.5 1344.6L508.9 1322.2L509.9 1326.5L513.5 1327.1L513.7 1337.9L516.9 1338.4L518.0 1344.0L518.4 1322.7L519.4 1326.6L523.0 1327.2L523.1 1337.8L526.4 1338.3L527.5 1343.5L527.9 1322.7L528.8 1326.7L532.4 1327.2L532.6 1337.7" stroke="#E8837E" stroke-width="2.4"/>
</g>
<rect x="240.0" y="1264.6" width="284.0" height="136.0" fill="none" stroke="#1a1a1a" stroke-width="1.5"/>
<line x1="233.0" y1="1264.6" x2="240.0" y2="1264.6" stroke="#1a1a1a" stroke-width="1.5"/>
<text x="228.7" y="1270.8" font-size="17.3" text-anchor="end">0.6</text>
<line x1="233.0" y1="1332.6" x2="240.0" y2="1332.6" stroke="#1a1a1a" stroke-width="1.5"/>
<text x="228.7" y="1338.8" font-size="17.3" text-anchor="end">0.0</text>
<line x1="233.0" y1="1400.6" x2="240.0" y2="1400.6" stroke="#1a1a1a" stroke-width="1.5"/>
<text x="228.7" y="1406.8" font-size="17.3" text-anchor="end">-0.6</text>
<line x1="240.0" y1="1400.6" x2="240.0" y2="1407.6" stroke="#1a1a1a" stroke-width="1.5"/>
<text x="240.0" y="1426.0" font-size="17.3" text-anchor="middle">0</text>
<line x1="334.7" y1="1400.6" x2="334.7" y2="1407.6" stroke="#1a1a1a" stroke-width="1.5"/>
<text x="334.7" y="1426.0" font-size="17.3" text-anchor="middle">20</text>
<line x1="429.3" y1="1400.6" x2="429.3" y2="1407.6" stroke="#1a1a1a" stroke-width="1.5"/>
<text x="429.3" y="1426.0" font-size="17.3" text-anchor="middle">40</text>
<line x1="524.0" y1="1400.6" x2="524.0" y2="1407.6" stroke="#1a1a1a" stroke-width="1.5"/>
<text x="524.0" y="1426.0" font-size="17.3" text-anchor="middle">60</text>
<text x="382.5" y="1450.0" font-size="23" text-anchor="middle">Time (h)</text>
<text transform="translate(184.4 1331.6) rotate(-90)" font-size="23" text-anchor="middle">Voltage (V)</text>
<text x="269.6" y="1292.5" font-size="19.3" font-family="'DejaVu Serif', serif" stroke="#000" stroke-width="0.55">Ⅰ</text>
<rect x="719.3" y="1259.4" width="284.7" height="136.6" fill="#fff"/>
<clipPath id="cpI2"><rect x="719.3" y="1259.4" width="284.7" height="136.6"/></clipPath>
<g clip-path="url(#cpI2)" fill="none" stroke-linejoin="round">
<path d="M709.7 1321.4L710.0 1333.1L712.2 1333.6L714.5 1334.0L714.8 1321.9L716.9 1321.4L719.2 1320.9L719.5 1333.5L721.7 1334.0L724.0 1334.5L724.3 1322.1L726.4 1321.6L728.7 1321.1L729.0 1333.3L731.2 1333.8L733.4 1334.3L733.8 1321.8L735.9 1321.2L738.2 1320.7L738.5 1333.6L740.7 1334.2L742.9 1334.7L743.3 1321.9L745.4 1321.4L747.7 1320.9L748.0 1333.5L750.1 1334.0L752.4 1334.5L752.8 1321.4L754.9 1320.8L757.2 1320.3L757.5 1334.0L759.6 1334.6L761.9 1335.1L762.2 1321.6L764.4 1321.1L766.7 1320.6L767.0 1333.8L769.1 1334.3L771.4 1334.8L771.7 1321.6L773.9 1321.1L776.1 1320.6L776.5 1333.8L778.6 1334.3L780.9 1334.8L781.2 1320.9L783.4 1320.2L785.6 1319.7L786.0 1334.5L788.1 1335.2L790.4 1335.7L790.7 1321.3L792.8 1320.7L795.1 1320.1L795.5 1334.1L797.6 1334.7L799.9 1335.3L800.2 1320.6L802.3 1319.9L804.6 1319.3L804.9 1334.8L807.1 1335.5L809.4 1336.1L809.7 1320.4L811.8 1319.7L814.1 1319.1L814.4 1335.0L816.6 1335.7L818.9 1336.3L819.2 1320.5L821.3 1319.9L823.6 1319.3L823.9 1334.9L826.1 1335.5L828.3 1336.1L828.7 1320.8L830.8 1320.2L833.1 1319.6L833.4 1334.6L835.6 1335.2L837.8 1335.8L838.2 1320.6L840.3 1320.0L842.6 1319.4L842.9 1334.8L845.0 1335.4L847.3 1336.0L847.7 1320.4L849.8 1319.7L852.1 1319.1L852.4 1335.0L854.5 1335.7L856.8 1336.3L857.1 1320.1L859.3 1319.4L861.6 1318.8L861.9 1335.3L864.0 1336.0L866.3 1336.6L866.6 1319.7L868.8 1319.0L871.0 1318.3L871.4 1335.7L873.5 1336.4L875.8 1337.1L876.1 1319.1L878.3 1318.3L880.5 1317.6L880.9 1336.3L883.0 1337.1L885.3 1337.8L885.6 1319.4L887.7 1318.6L890.0 1317.9L890.4 1336.0L892.5 1336.8L894.8 1337.5L895.1 1319.3L897.2 1318.5L899.5 1317.8L899.8 1336.1L902.0 1336.9L904.3 1337.6L904.6 1318.6L906.7 1317.7L909.0 1317.0L909.3 1336.8L911.5 1337.7L913.8 1338.4L914.1 1318.7L916.2 1317.9L918.5 1317.1L918.8 1336.7L921.0 1337.5L923.2 1338.3L923.6 1318.5L925.7 1317.6L928.0 1316.8L928.3 1336.9L930.5 1337.8L932.7 1338.6L933.1 1317.7L935.2 1316.8L937.5 1316.0L937.8 1337.7L939.9 1338.6L942.2 1339.4L942.6 1317.3L944.7 1316.3L947.0 1315.5L947.3 1338.1L949.4 1339.1L951.7 1339.9L952.0 1317.7L954.2 1316.7L956.5 1315.9L956.8 1337.7L958.9 1338.7L961.2 1339.5L961.5 1316.9L963.7 1315.9L965.9 1315.0L966.3 1338.5L968.4 1339.5L970.7 1340.4L971.0 1316.2L973.2 1315.1L975.4 1314.2L975.8 1339.2L977.9 1340.3L980.2 1341.2L980.5 1315.7L982.6 1314.6L984.9 1313.6L985.3 1339.7L987.4 1340.8L989.7 1341.8L990.0 1315.7L992.1 1314.6L994.4 1313.6L994.7 1339.7L996.9 1340.8L999.2 1341.8L1006.9 1317.5L1009.1 1316.2L1010.5 1314.5L1011.3 1312.6L1011.6 1337.5L1013.8 1338.6" stroke="#97D8E8" stroke-width="2.3"/>
<path d="M709.0 1332.8L711.2 1332.8L713.5 1333.0L713.7 1321.9L715.3 1321.9L717.2 1321.8L718.1 1321.8L718.5 1332.7L720.7 1332.7L723.0 1332.9L723.2 1321.8L724.8 1321.8L726.7 1321.7L727.6 1321.7L728.0 1332.6L730.2 1332.6L732.4 1332.9L732.7 1322.3L734.2 1322.3L736.1 1322.1L737.1 1322.1L737.5 1333.1L739.7 1333.1L741.9 1333.3L742.2 1321.8L743.7 1321.8L745.6 1321.7L746.6 1321.7L747.0 1332.6L749.2 1332.6L751.4 1332.9L751.7 1321.8L753.2 1321.8L755.1 1321.7L756.1 1321.7L756.5 1332.6L758.7 1332.6L760.9 1332.8L761.2 1322.0L762.7 1322.0L764.6 1321.8L765.6 1321.8L765.9 1332.8L768.2 1332.8L770.4 1333.0L770.7 1321.6L772.2 1321.6L774.1 1321.5L775.1 1321.5L775.4 1332.6L777.7 1332.6L779.9 1332.8L780.2 1321.5L781.7 1321.5L783.6 1321.4L784.5 1321.4L784.9 1332.7L787.2 1332.7L789.4 1332.9L789.7 1321.8L791.2 1321.8L793.1 1321.7L794.0 1321.7L794.4 1333.2L796.6 1333.2L798.9 1333.4L799.2 1321.7L800.7 1321.7L802.6 1321.6L803.5 1321.6L803.9 1333.3L806.1 1333.3L808.4 1333.6L808.6 1321.9L810.2 1321.9L812.1 1321.8L813.0 1321.8L813.4 1333.8L815.6 1333.8L817.9 1334.0L818.1 1321.1L819.7 1321.1L821.6 1321.0L822.5 1321.0L822.9 1333.3L825.1 1333.3L827.3 1333.5L827.6 1320.9L829.1 1320.9L831.0 1320.8L832.0 1320.8L832.4 1333.3L834.6 1333.3L836.8 1333.6L837.1 1321.2L838.6 1321.2L840.5 1321.1L841.5 1321.1L841.9 1333.9L844.1 1333.9L846.3 1334.1L846.6 1320.9L848.1 1320.9L850.0 1320.8L851.0 1320.8L851.4 1333.8L853.6 1333.8L855.8 1334.0L856.1 1320.7L857.6 1320.7L859.5 1320.6L860.5 1320.6L860.8 1333.9L863.1 1333.9L865.3 1334.1L865.6 1320.6L867.1 1320.6L869.0 1320.5L870.0 1320.5L870.3 1334.1L872.6 1334.1L874.8 1334.3L875.1 1320.9L876.6 1320.9L878.5 1320.8L879.4 1320.8L879.8 1334.8L882.1 1334.8L884.3 1335.0L884.6 1320.1L886.1 1320.1L888.0 1320.0L888.9 1320.0L889.3 1334.4L891.5 1334.4L893.8 1334.7L894.1 1320.1L895.6 1320.1L897.5 1320.0L898.4 1320.0L898.8 1334.8L901.0 1334.8L903.3 1335.1L903.5 1319.8L905.1 1319.8L907.0 1319.7L907.9 1319.7L908.3 1335.0L910.5 1335.0L912.8 1335.2L913.0 1319.8L914.6 1319.8L916.5 1319.7L917.4 1319.7L917.8 1335.4L920.0 1335.4L922.2 1335.6L922.5 1319.4L924.0 1319.4L925.9 1319.3L926.9 1319.3L927.3 1335.4L929.5 1335.4L931.7 1335.7L932.0 1319.0L933.5 1319.0L935.4 1318.9L936.4 1318.9L936.8 1335.5L939.0 1335.5L941.2 1335.7L941.5 1318.9L943.0 1318.9L944.9 1318.8L945.9 1318.8L946.3 1335.9L948.5 1335.9L950.7 1336.1L951.0 1318.7L952.5 1318.7L954.4 1318.5L955.4 1318.5L955.7 1336.0L958.0 1336.0L960.2 1336.2L960.5 1319.1L962.0 1319.1L963.9 1319.0L964.9 1319.0L965.2 1336.8L967.5 1336.8L969.7 1337.1L970.0 1318.7L971.5 1318.7L973.4 1318.6L974.3 1318.6L974.7 1336.9L977.0 1336.9L979.2 1337.2L979.5 1318.3L981.0 1318.3L982.9 1318.2L983.8 1318.2L984.2 1336.9L986.4 1336.9L988.7 1337.1L989.0 1317.9L990.5 1317.9L992.4 1317.8L993.3 1317.8L993.7 1336.9L995.9 1336.9L998.2 1337.1L998.4 1318.0L1000.0 1318.0L1001.9 1317.9L1002.8 1317.9L1003.2 1337.5L1005.4 1337.5L1007.7 1337.8L1007.9 1317.4L1009.5 1317.4L1011.4 1317.3L1012.3 1317.3L1012.7 1337.3" stroke="#E8837E" stroke-width="2.4"/>
</g>
<rect x="719.3" y="1259.4" width="284.7" height="136.6" fill="none" stroke="#1a1a1a" stroke-width="1.5"/>
<line x1="712.3" y1="1259.4" x2="719.3" y2="1259.4" stroke="#1a1a1a" stroke-width="1.5"/>
<text x="708.0" y="1265.6" font-size="17.3" text-anchor="end">0.6</text>
<line x1="712.3" y1="1327.7" x2="719.3" y2="1327.7" stroke="#1a1a1a" stroke-width="1.5"/>
<text x="708.0" y="1333.9" font-size="17.3" text-anchor="end">0.0</text>
<line x1="712.3" y1="1396.0" x2="719.3" y2="1396.0" stroke="#1a1a1a" stroke-width="1.5"/>
<text x="708.0" y="1402.2" font-size="17.3" text-anchor="end">-0.6</text>
<line x1="719.3" y1="1396.0" x2="719.3" y2="1403.0" stroke="#1a1a1a" stroke-width="1.5"/>
<text x="719.3" y="1421.0" font-size="17.3" text-anchor="middle">240</text>
<line x1="814.2" y1="1396.0" x2="814.2" y2="1403.0" stroke="#1a1a1a" stroke-width="1.5"/>
<text x="814.2" y="1421.0" font-size="17.3" text-anchor="middle">260</text>
<line x1="909.1" y1="1396.0" x2="909.1" y2="1403.0" stroke="#1a1a1a" stroke-width="1.5"/>
<text x="909.1" y="1421.0" font-size="17.3" text-anchor="middle">280</text>
<line x1="1004.0" y1="1396.0" x2="1004.0" y2="1403.0" stroke="#1a1a1a" stroke-width="1.5"/>
<text x="1004.0" y="1421.0" font-size="17.3" text-anchor="middle">300</text>
<text x="862.1" y="1444.0" font-size="23" text-anchor="middle">Time (h)</text>
<text transform="translate(664.4 1326.7) rotate(-90)" font-size="23" text-anchor="middle">Voltage (V)</text>
<text x="743.3" y="1291.2" font-size="19.3" font-family="'DejaVu Serif', serif" stroke="#000" stroke-width="0.55">Ⅱ</text>
<rect x="1483.2" y="1264.6" width="285.0" height="136.0" fill="#fff"/>
<clipPath id="cpI3"><rect x="1483.2" y="1264.6" width="285.0" height="136.0"/></clipPath>
<g clip-path="url(#cpI3)" fill="none" stroke-linejoin="round">
<path d="M1473.6 1318.6L1473.9 1344.5L1476.1 1345.7L1478.4 1346.6L1486.1 1322.4L1488.3 1321.2L1489.7 1319.5L1490.5 1317.5L1490.8 1342.4L1493.0 1343.4L1494.5 1344.9L1495.3 1346.5L1495.7 1322.4L1497.9 1320.9L1499.4 1318.9L1500.2 1316.5L1500.5 1342.8L1502.7 1343.9L1504.1 1345.5L1504.9 1347.3L1505.4 1322.4L1507.6 1320.6L1509.0 1318.0L1509.8 1315.0L1510.1 1342.8L1512.3 1344.5L1513.8 1346.9L1514.6 1349.6L1515.0 1322.4L1517.2 1320.4L1518.7 1317.6L1519.5 1314.5L1519.8 1342.8L1522.0 1345.1L1523.4 1348.2L1524.2 1351.9L1524.7 1322.4L1526.9 1319.9L1528.3 1316.4L1529.1 1312.4L1529.4 1342.8L1531.6 1345.3L1533.1 1348.9L1533.9 1353.0L1534.3 1322.4L1536.5 1319.4L1538.0 1315.2L1538.8 1310.4L1539.1 1342.8L1541.3 1345.8L1542.7 1349.9L1543.5 1354.7L1544.0 1322.4L1546.2 1319.1L1547.6 1314.6L1548.4 1309.4L1548.7 1342.8L1550.9 1346.2L1552.4 1351.0L1553.2 1356.4L1553.6 1322.4L1555.8 1317.9L1557.3 1311.5L1558.1 1304.3L1558.4 1342.8L1560.6 1346.5L1562.0 1351.6L1562.8 1357.5L1563.3 1322.4L1565.5 1317.3L1566.9 1310.2L1567.7 1302.0L1568.0 1342.8L1570.3 1347.7L1571.7 1354.6L1572.5 1362.5L1572.9 1322.4L1575.2 1316.3L1576.6 1307.7L1577.4 1297.9L1577.7 1342.8L1579.9 1348.0L1581.3 1355.2L1582.1 1363.5L1582.6 1322.4L1584.8 1316.7L1586.2 1308.8L1587.0 1299.7L1587.3 1342.1L1589.6 1343.1L1591.0 1344.6L1591.8 1346.2L1593.8 1322.4L1596.1 1318.2L1597.5 1312.4L1598.3 1305.7L1598.6 1342.8L1600.8 1350.4L1602.2 1361.2L1603.0 1373.4L1603.5 1322.4L1605.7 1316.4L1607.1 1308.1L1607.9 1298.6L1608.2 1342.8L1610.5 1350.1L1611.9 1360.2L1612.7 1371.8L1614.7 1324.7L1617.0 1323.8L1618.4 1322.6L1619.2 1321.3L1619.5 1342.8L1621.7 1343.9L1623.1 1345.5L1624.0 1347.3L1624.4 1324.7L1626.6 1323.8L1628.1 1322.6L1628.9 1321.3L1629.1 1342.8L1631.4 1347.9L1632.8 1355.0L1633.6 1363.2L1634.0 1322.4L1636.3 1318.6L1637.7 1313.3L1638.5 1307.2L1638.8 1342.8L1641.0 1350.8L1642.5 1362.0L1643.3 1374.9L1642.1 1322.4L1644.3 1314.6L1645.7 1303.7L1646.6 1291.2L1646.8 1342.8L1649.1 1347.9L1650.5 1355.0L1651.3 1363.2L1651.7 1322.4L1654.0 1312.5L1655.4 1298.7L1656.2 1283.0L1656.5 1342.8L1658.7 1347.8L1660.1 1354.9L1661.0 1363.0L1662.4 1322.4L1664.6 1312.3L1666.0 1298.1L1666.8 1281.9L1667.1 1342.8L1669.3 1348.0L1670.8 1355.2L1671.6 1363.5L1672.6 1322.4L1674.9 1312.4L1676.3 1298.3L1677.1 1282.3L1677.4 1342.8L1679.6 1347.8L1681.1 1354.9L1681.9 1363.0L1682.3 1322.4L1684.5 1311.8L1686.0 1297.0L1686.8 1280.1L1687.0 1342.8L1689.3 1347.7L1690.7 1354.6L1691.5 1362.5L1692.0 1322.4L1694.2 1311.8L1695.6 1296.9L1696.4 1279.9L1696.7 1342.8L1698.9 1347.6L1700.4 1354.4L1701.2 1362.1L1702.6 1322.4L1704.8 1311.6L1706.2 1296.4L1707.0 1279.1L1707.3 1342.8L1709.5 1348.6L1711.0 1356.8L1711.8 1366.1L1712.9 1322.4L1715.1 1311.9L1716.5 1297.3L1717.3 1280.6L1717.6 1342.8L1719.8 1347.3L1721.3 1353.7L1722.1 1360.9L1722.5 1322.4L1724.7 1317.6L1726.2 1310.8L1727.0 1303.1L1727.3 1342.8L1729.5 1348.1L1730.9 1355.6L1731.7 1364.1L1732.2 1322.4L1734.4 1310.8L1735.8 1294.5L1736.6 1275.9L1736.9 1342.8L1739.1 1350.7L1740.6 1361.8L1741.4 1374.4L1741.8 1322.4L1744.0 1312.4L1745.5 1298.3L1746.3 1282.3L1746.6 1342.8L1748.8 1351.0L1750.2 1362.4L1751.0 1375.4L1752.4 1322.4L1754.7 1313.3L1756.1 1300.6L1756.9 1286.1L1757.2 1342.8L1759.4 1349.5L1760.8 1359.0L1761.6 1369.8L1762.1 1322.4L1764.3 1313.8L1765.7 1301.9L1766.5 1288.2L1766.8 1342.8L1769.1 1351.1L1770.5 1362.7L1771.3 1375.9L1774.0 1322.4L1776.2 1314.7L1777.6 1303.9L1778.5 1291.6" stroke="#97D8E8" stroke-width="2.3"/>
<path d="M1472.9 1341.8L1475.1 1341.8L1477.4 1342.0L1477.6 1323.0L1479.2 1323.0L1481.1 1322.9L1482.0 1322.9L1482.4 1342.4L1484.6 1342.4L1486.9 1342.6L1487.1 1322.4L1488.7 1322.4L1490.6 1322.2L1491.5 1322.2L1491.9 1342.2L1494.1 1342.2L1496.4 1342.4L1496.6 1322.2L1498.2 1322.2L1500.1 1322.1L1501.0 1322.1L1501.4 1342.4L1503.6 1342.4L1505.9 1342.7L1506.1 1322.7L1507.7 1322.7L1509.6 1322.6L1510.5 1322.6L1510.9 1343.0L1513.1 1343.0L1515.4 1343.2L1515.6 1322.4L1517.2 1322.4L1519.1 1322.2L1520.0 1322.2L1520.4 1342.6L1522.6 1342.6L1524.9 1342.8L1525.1 1322.6L1526.7 1322.6L1528.6 1322.5L1529.5 1322.5L1529.9 1342.7L1532.1 1342.7L1534.4 1343.0L1534.6 1322.8L1536.2 1322.8L1538.1 1322.7L1539.0 1322.7L1539.4 1342.9L1541.6 1342.9L1543.9 1343.1L1544.1 1322.7L1545.7 1322.7L1547.6 1322.6L1548.5 1322.6L1548.9 1342.8L1551.1 1342.8L1553.4 1343.0L1553.6 1322.6L1555.2 1322.6L1557.1 1322.5L1558.0 1322.5L1558.4 1342.6L1560.6 1342.6L1562.9 1342.8L1563.1 1322.7L1564.7 1322.7L1566.6 1322.6L1567.5 1322.6L1567.9 1342.7L1570.1 1342.7L1572.4 1342.9L1572.6 1322.8L1574.2 1322.8L1576.1 1322.7L1577.0 1322.7L1577.4 1342.7L1579.6 1342.7L1581.9 1342.9L1582.1 1322.9L1583.7 1322.9L1585.6 1322.8L1586.5 1322.8L1586.9 1342.8L1589.1 1342.8L1591.4 1343.0L1591.6 1322.6L1593.2 1322.6L1595.1 1322.5L1596.0 1322.5L1596.4 1342.4L1598.6 1342.4L1600.9 1342.6L1601.1 1322.7L1602.7 1322.7L1604.6 1322.6L1605.5 1322.6L1605.9 1342.4L1608.1 1342.4L1610.4 1342.6L1610.6 1322.5L1612.2 1322.5L1614.1 1322.4L1615.0 1322.4L1615.4 1342.2L1617.6 1342.2L1619.9 1342.4L1620.1 1322.5L1621.7 1322.5L1623.6 1322.4L1624.5 1322.4L1624.9 1342.2L1627.1 1342.2L1629.4 1342.4L1629.6 1322.9L1631.2 1322.9L1633.1 1322.8L1634.0 1322.8L1634.4 1342.5L1636.6 1342.5L1638.9 1342.7L1639.1 1322.3L1640.7 1322.3L1642.6 1322.2L1643.5 1322.2L1643.9 1341.8L1646.1 1341.8L1648.4 1342.1L1648.6 1323.1L1650.2 1323.1L1652.1 1323.0L1653.0 1323.0L1653.4 1342.7L1655.6 1342.7L1657.9 1342.9L1658.1 1322.8L1659.7 1322.8L1661.6 1322.6L1662.5 1322.6L1662.9 1342.3L1665.1 1342.3L1667.4 1342.5L1667.6 1322.9L1669.2 1322.9L1671.1 1322.8L1672.0 1322.8L1672.4 1342.4L1674.6 1342.4L1676.9 1342.6L1677.1 1322.8L1678.7 1322.8L1680.6 1322.7L1681.5 1322.7L1681.9 1342.2L1684.1 1342.2L1686.4 1342.5L1686.6 1323.1L1688.2 1323.1L1690.1 1322.9L1691.0 1322.9L1691.4 1342.5L1693.6 1342.5L1695.9 1342.7L1696.1 1322.4L1697.7 1322.4L1699.6 1322.3L1700.5 1322.3L1700.9 1341.8L1703.1 1341.8L1705.4 1342.1L1705.6 1322.9L1707.2 1322.9L1709.1 1322.7L1710.0 1322.7L1710.4 1342.2L1712.6 1342.2L1714.9 1342.5L1715.1 1323.2L1716.7 1323.2L1718.6 1323.1L1719.5 1323.1L1719.9 1342.5L1722.1 1342.5L1724.4 1342.8L1724.6 1322.7L1726.2 1322.7L1728.1 1322.6L1729.0 1322.6L1729.4 1342.0L1731.6 1342.0L1733.9 1342.2L1734.1 1323.1L1735.7 1323.1L1737.6 1323.0L1738.5 1323.0L1738.9 1342.4L1741.1 1342.4L1743.4 1342.7L1743.6 1322.8L1745.2 1322.8L1747.1 1322.6L1748.0 1322.6L1748.4 1342.0L1750.6 1342.0L1752.9 1342.3L1753.1 1323.0L1754.7 1323.0L1756.6 1322.8L1757.5 1322.8L1757.9 1342.2L1760.1 1342.2L1762.4 1342.4L1762.6 1322.7L1764.2 1322.7L1766.1 1322.6L1767.0 1322.6L1767.4 1342.0L1769.6 1342.0L1771.9 1342.2L1772.1 1322.4L1773.7 1322.4L1775.6 1322.3L1776.5 1322.3L1776.9 1341.6" stroke="#E8837E" stroke-width="2.4"/>
</g>
<rect x="1483.2" y="1264.6" width="285.0" height="136.0" fill="none" stroke="#1a1a1a" stroke-width="1.5"/>
<line x1="1476.2" y1="1264.6" x2="1483.2" y2="1264.6" stroke="#1a1a1a" stroke-width="1.5"/>
<text x="1471.9" y="1270.8" font-size="17.3" text-anchor="end">0.6</text>
<line x1="1476.2" y1="1332.6" x2="1483.2" y2="1332.6" stroke="#1a1a1a" stroke-width="1.5"/>
<text x="1471.9" y="1338.8" font-size="17.3" text-anchor="end">0.0</text>
<line x1="1476.2" y1="1400.6" x2="1483.2" y2="1400.6" stroke="#1a1a1a" stroke-width="1.5"/>
<text x="1471.9" y="1406.8" font-size="17.3" text-anchor="end">-0.6</text>
<line x1="1483.2" y1="1400.6" x2="1483.2" y2="1407.6" stroke="#1a1a1a" stroke-width="1.5"/>
<text x="1483.2" y="1426.0" font-size="17.3" text-anchor="middle">300</text>
<line x1="1578.2" y1="1400.6" x2="1578.2" y2="1407.6" stroke="#1a1a1a" stroke-width="1.5"/>
<text x="1578.2" y="1426.0" font-size="17.3" text-anchor="middle">320</text>
<line x1="1673.2" y1="1400.6" x2="1673.2" y2="1407.6" stroke="#1a1a1a" stroke-width="1.5"/>
<text x="1673.2" y="1426.0" font-size="17.3" text-anchor="middle">340</text>
<line x1="1768.2" y1="1400.6" x2="1768.2" y2="1407.6" stroke="#1a1a1a" stroke-width="1.5"/>
<text x="1768.2" y="1426.0" font-size="17.3" text-anchor="middle">360</text>
<text x="1626.2" y="1450.0" font-size="23" text-anchor="middle">Time (h)</text>
<text transform="translate(1427.8 1331.6) rotate(-90)" font-size="23" text-anchor="middle">Voltage (V)</text>
<text x="1502.0" y="1291.2" font-size="19.3" font-family="'DejaVu Serif', serif" stroke="#000" stroke-width="0.55">Ⅲ</text>
</g>
</svg>
</body></html>
